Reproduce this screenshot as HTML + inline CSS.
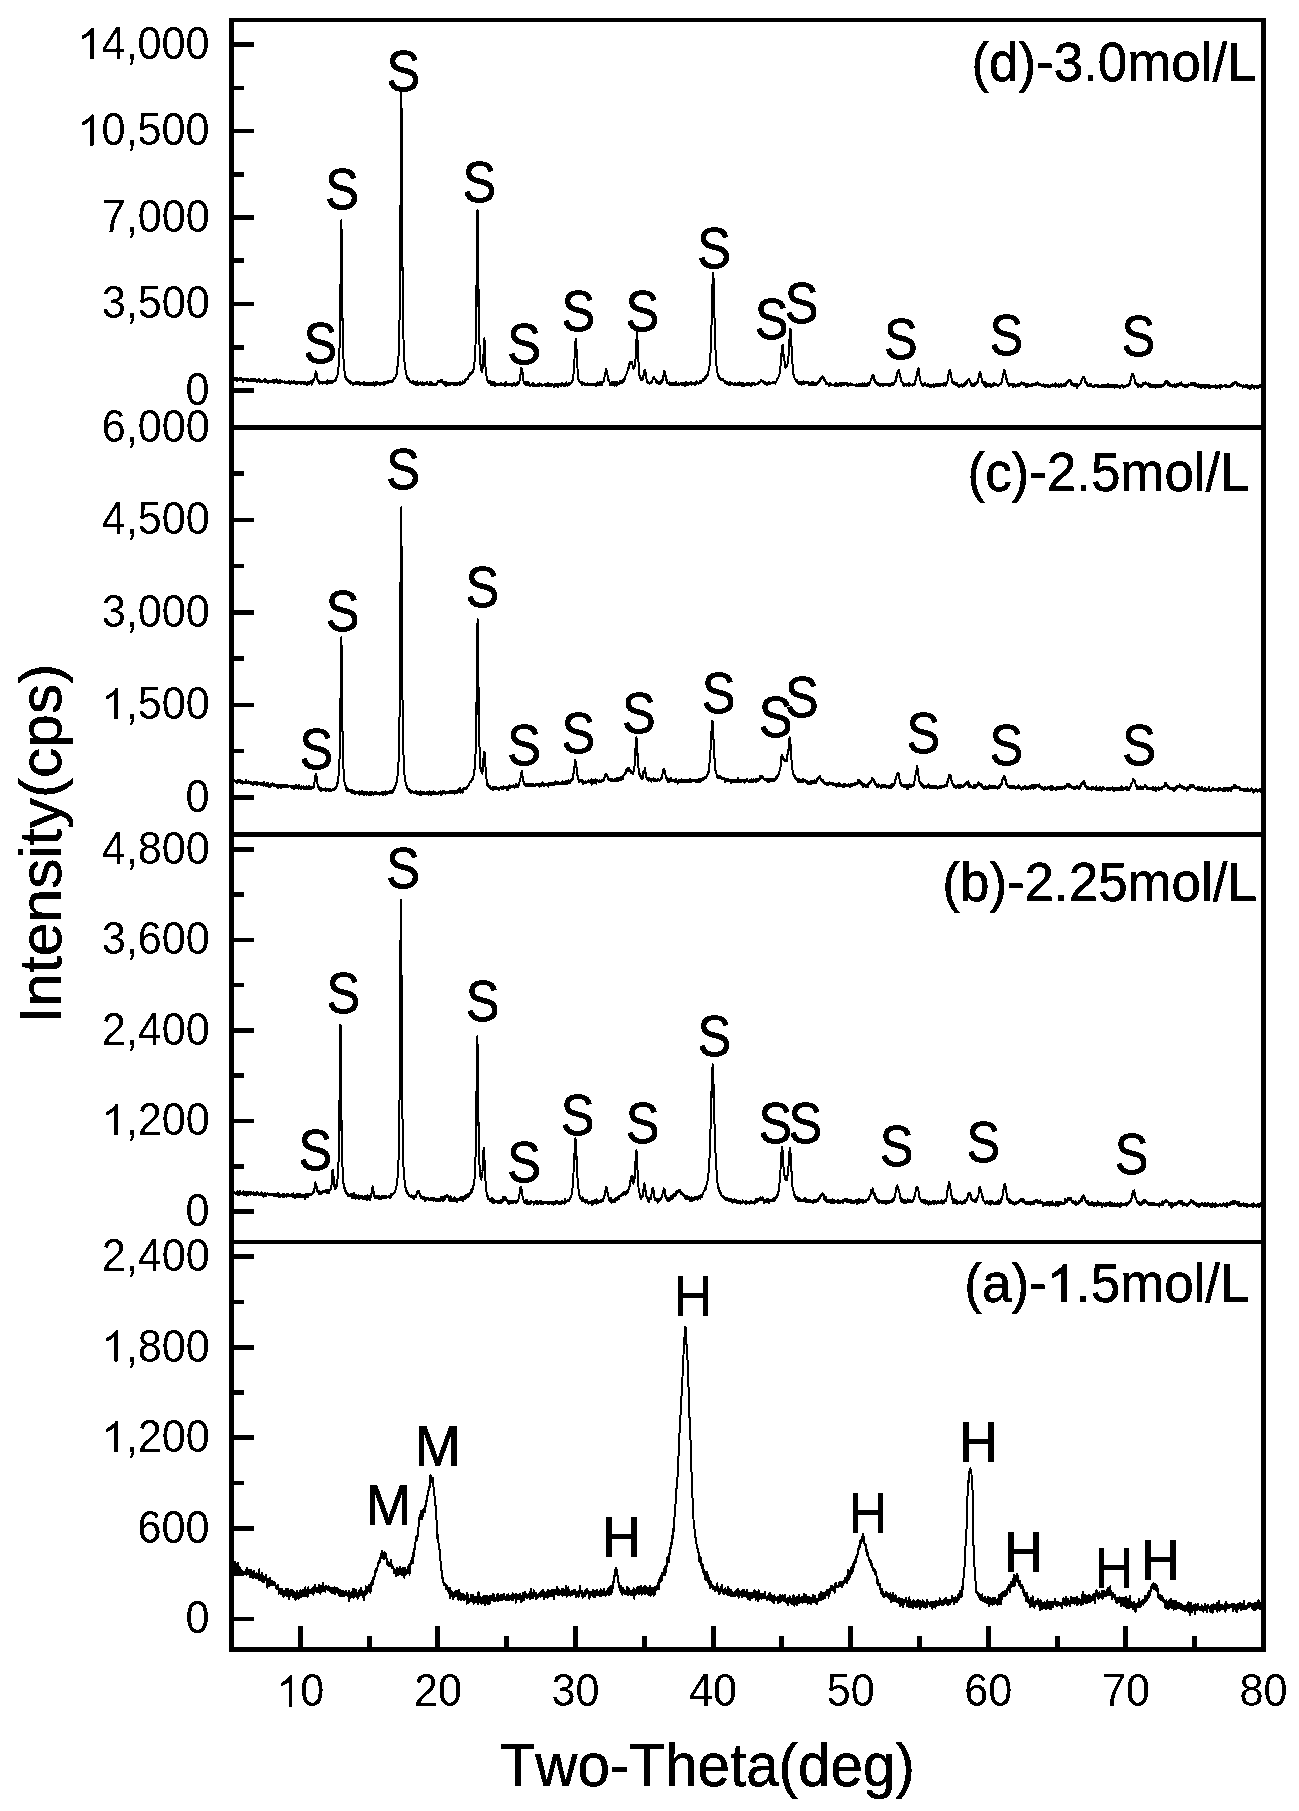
<!DOCTYPE html>
<html><head><meta charset="utf-8"><style>html,body{margin:0;padding:0;background:#fff;}svg{display:block;}</style></head>
<body><svg width="1299" height="1811" viewBox="0 0 1299 1811">
<defs><filter id="bw" x="0" y="0" width="1299" height="1811" filterUnits="userSpaceOnUse" color-interpolation-filters="sRGB"><feComponentTransfer><feFuncR type="discrete" tableValues="0 1"/><feFuncG type="discrete" tableValues="0 1"/><feFuncB type="discrete" tableValues="0 1"/></feComponentTransfer></filter></defs>
<g filter="url(#bw)">
<rect width="1299" height="1811" fill="#fff"/>
<g fill="none" stroke="#000" stroke-width="2.0" stroke-linejoin="round" stroke-linecap="round">
<path d="M234.30,377.9 234.60,380.2 234.90,378.4 235.20,378.9 235.50,379.1 235.80,378.5 236.10,378.0 236.40,379.7 236.70,379.5 237.00,377.5 237.30,381.2 237.60,380.0 237.90,378.6 238.20,380.0 238.50,378.9 238.80,379.2 239.10,380.0 239.40,378.3 239.70,379.8 240.00,380.6 240.30,380.5 240.60,379.2 240.90,380.2 241.20,378.1 241.50,379.3 241.80,379.9 242.10,378.4 242.40,379.5 242.70,381.0 243.00,381.8 243.30,380.3 243.60,380.3 243.90,378.8 244.20,378.6 244.50,378.5 244.80,380.2 245.10,380.4 245.40,379.2 245.70,378.7 246.00,380.0 246.30,380.1 246.60,379.7 246.90,380.9 247.20,379.8 247.50,379.8 247.80,379.0 248.10,380.0 248.40,381.1 248.70,380.0 249.00,380.0 249.30,380.4 249.60,380.3 249.90,380.5 250.20,380.5 250.50,380.6 250.80,379.4 251.10,380.4 251.40,378.8 251.70,380.4 252.00,379.1 252.30,380.2 252.60,380.6 252.90,379.9 253.20,380.4 253.50,378.9 253.80,379.6 254.10,380.9 254.40,379.4 254.70,380.9 255.00,379.2 255.30,379.6 255.60,379.5 255.90,380.5 256.20,380.9 256.50,379.6 256.80,380.4 257.10,381.9 257.40,380.3 257.70,379.9 258.00,380.9 258.30,380.4 258.60,380.0 258.90,379.1 259.20,381.4 259.50,380.2 259.80,380.7 260.10,379.8 260.40,381.9 260.70,381.4 261.00,381.6 261.30,380.7 261.60,381.2 261.90,381.6 262.20,381.7 262.50,381.1 262.80,380.8 263.10,380.6 263.40,380.3 263.70,380.1 264.00,381.3 264.30,380.8 264.60,379.3 264.90,380.9 265.20,381.9 265.50,380.8 265.80,379.5 266.10,381.0 266.40,381.8 266.70,381.3 267.00,380.8 267.30,382.7 267.60,382.8 267.90,381.1 268.20,381.9 268.50,381.5 268.80,381.9 269.10,382.5 269.40,381.9 269.70,381.3 270.00,380.7 270.30,380.6 270.60,381.3 270.90,382.3 271.20,381.6 271.50,381.4 271.80,381.6 272.10,381.4 272.40,381.9 272.70,380.5 273.00,379.8 273.30,381.1 273.60,380.5 273.90,382.9 274.20,381.4 274.50,381.3 274.80,380.2 275.10,381.8 275.40,381.0 275.70,382.5 276.00,382.3 276.30,381.0 276.60,382.0 276.90,379.3 277.20,381.1 277.50,382.7 277.80,382.4 278.10,381.9 278.40,381.7 278.70,380.5 279.00,380.6 279.30,382.0 279.60,383.3 279.90,380.0 280.20,382.4 280.50,382.4 280.80,382.7 281.10,381.1 281.40,381.4 281.70,381.9 282.00,381.0 282.30,380.9 282.60,381.2 282.90,381.9 283.20,382.3 283.50,382.0 283.80,382.1 284.10,381.5 284.40,381.4 284.70,383.0 285.00,382.0 285.30,382.0 285.60,382.9 285.90,383.2 286.20,383.2 286.50,382.5 286.80,382.1 287.10,382.4 287.40,382.4 287.70,383.4 288.00,382.5 288.30,382.8 288.60,382.2 288.90,383.4 289.20,380.6 289.50,382.6 289.80,383.0 290.10,381.4 290.40,384.2 290.70,382.2 291.00,382.3 291.30,381.5 291.60,383.2 291.90,382.6 292.20,381.9 292.50,382.7 292.80,383.1 293.10,383.5 293.40,382.7 293.70,381.7 294.00,382.1 294.30,380.6 294.60,381.9 294.90,383.2 295.20,383.0 295.50,382.5 295.80,382.3 296.10,384.0 296.40,382.9 296.70,383.4 297.00,383.0 297.30,382.1 297.60,384.0 297.90,381.7 298.20,381.7 298.50,382.4 298.80,382.1 299.10,382.3 299.40,382.3 299.70,383.6 300.00,382.8 300.30,383.1 300.60,381.5 300.90,382.1 301.20,383.7 301.50,381.8 301.80,383.8 302.10,382.0 302.40,383.1 302.70,382.1 303.00,383.0 303.30,382.1 303.60,382.6 303.90,384.3 304.20,382.6 304.50,384.6 304.80,382.5 305.10,381.9 305.40,382.9 305.70,382.5 306.00,384.4 306.30,383.6 306.60,383.9 306.90,383.4 307.20,385.0 307.50,383.5 307.80,383.3 308.10,382.1 308.40,382.1 308.70,383.0 309.00,383.7 309.30,383.7 309.60,382.0 309.90,383.2 310.20,382.9 310.50,381.7 310.80,383.1 311.10,380.7 311.40,382.8 311.70,384.6 312.00,381.5 312.30,382.3 312.60,380.5 312.90,381.3 313.20,382.3 313.50,380.3 313.80,380.5 314.10,379.3 314.40,378.1 314.70,377.0 315.00,375.4 315.30,374.2 315.60,372.4 315.90,371.1 316.20,372.9 316.50,374.2 316.80,373.7 317.10,377.4 317.40,379.1 317.70,380.5 318.00,381.0 318.30,380.1 318.60,381.4 318.90,380.2 319.20,382.1 319.50,384.1 319.80,383.0 320.10,383.3 320.40,382.2 320.70,381.8 321.00,381.8 321.30,382.9 321.60,382.1 321.90,382.3 322.20,383.8 322.50,381.5 322.80,381.8 323.10,382.4 323.40,382.8 323.70,382.8 324.00,381.7 324.30,383.1 324.60,382.8 324.90,383.2 325.20,382.0 325.50,383.1 325.80,383.1 326.10,382.3 326.40,382.7 326.70,382.4 327.00,384.0 327.30,380.2 327.60,381.6 327.90,381.3 328.20,382.4 328.50,382.1 328.80,382.3 329.10,383.3 329.40,381.2 329.70,381.9 330.00,382.3 330.30,381.5 330.60,382.7 330.90,382.7 331.20,381.7 331.50,380.7 331.80,383.5 332.10,382.5 332.40,382.3 332.70,381.9 333.00,381.7 333.30,382.3 333.60,381.4 333.90,380.7 334.20,381.6 334.50,380.8 334.80,379.9 335.10,379.5 335.40,380.9 335.70,380.0 336.00,380.7 336.30,378.0 336.60,377.1 336.90,377.3 337.20,377.2 337.50,375.3 337.80,373.7 338.10,373.0 338.40,368.3 338.70,364.6 339.00,360.4 339.30,354.2 339.60,345.0 339.90,331.3 340.20,310.6 340.50,284.4 340.80,251.1 341.10,227.6 341.30,220.0 341.40,222.5 341.70,241.0 342.00,273.2 342.30,302.0 342.60,324.9 342.90,341.2 343.20,351.5 343.50,359.1 343.80,364.6 344.10,366.9 344.40,370.1 344.70,371.4 345.00,374.4 345.30,377.6 345.60,377.4 345.90,376.9 346.20,377.7 346.50,379.8 346.80,379.0 347.10,378.5 347.40,379.4 347.70,379.7 348.00,380.0 348.30,381.7 348.60,381.4 348.90,380.3 349.20,381.3 349.50,380.9 349.80,381.0 350.10,380.9 350.40,383.7 350.70,382.1 351.00,382.9 351.30,383.3 351.60,382.3 351.90,383.1 352.20,383.2 352.50,383.0 352.80,384.7 353.10,383.2 353.40,382.8 353.70,383.6 354.00,384.6 354.30,383.9 354.60,382.7 354.90,382.4 355.20,382.4 355.50,382.7 355.80,383.6 356.10,384.0 356.40,381.4 356.70,383.3 357.00,382.4 357.30,384.0 357.60,384.2 357.90,382.8 358.20,383.0 358.50,382.6 358.80,383.8 359.10,382.1 359.40,382.5 359.70,382.9 360.00,384.6 360.30,385.6 360.60,383.6 360.90,382.5 361.20,383.6 361.50,382.8 361.80,384.0 362.10,382.6 362.40,383.3 362.70,383.6 363.00,384.1 363.30,383.5 363.60,384.7 363.90,383.7 364.20,382.1 364.50,384.4 364.80,383.4 365.10,383.1 365.40,384.9 365.70,382.8 366.00,383.7 366.30,383.1 366.60,384.8 366.90,383.4 367.20,383.9 367.50,382.5 367.80,384.9 368.10,382.8 368.40,384.5 368.70,384.6 369.00,384.7 369.30,385.2 369.60,382.7 369.90,384.0 370.20,383.8 370.50,384.0 370.80,384.6 371.10,383.8 371.40,383.0 371.70,383.6 372.00,385.0 372.30,382.7 372.60,383.7 372.90,382.8 373.20,384.6 373.50,382.3 373.80,383.4 374.10,383.5 374.40,383.7 374.70,385.6 375.00,385.0 375.30,382.8 375.60,385.5 375.90,382.6 376.20,382.0 376.50,382.3 376.80,383.8 377.10,384.0 377.40,381.7 377.70,383.9 378.00,383.3 378.30,384.1 378.60,383.2 378.90,384.3 379.20,384.0 379.50,382.5 379.80,384.7 380.10,383.6 380.40,384.1 380.70,384.5 381.00,382.6 381.30,383.3 381.60,382.6 381.90,382.5 382.20,383.5 382.50,383.5 382.80,384.3 383.10,384.3 383.40,383.0 383.70,382.2 384.00,385.6 384.30,384.6 384.60,382.6 384.90,381.8 385.20,382.2 385.40,382.5 385.50,383.5 385.80,383.3 386.10,382.8 386.40,382.3 386.70,382.6 387.00,382.3 387.30,382.6 387.60,382.4 387.90,383.0 388.20,380.9 388.50,382.2 388.80,382.2 389.10,381.4 389.40,382.2 389.70,381.3 390.00,381.6 390.30,381.8 390.60,381.7 390.90,381.3 391.20,382.6 391.50,381.7 391.80,381.7 392.10,381.4 392.40,380.5 392.70,380.1 393.00,381.3 393.30,380.0 393.60,378.5 393.90,377.8 394.20,379.5 394.50,378.3 394.80,378.4 395.10,377.4 395.40,376.9 395.70,376.3 396.00,374.6 396.30,374.6 396.60,374.3 396.90,372.6 397.20,368.8 397.50,367.0 397.80,364.3 398.10,361.9 398.40,358.4 398.70,352.1 399.00,342.2 399.30,331.9 399.60,315.3 399.90,288.9 400.20,254.8 400.50,204.5 400.80,150.2 401.10,105.4 401.30,92.7 401.40,95.2 401.70,132.0 402.00,189.5 402.30,236.9 402.60,279.0 402.90,307.4 403.20,326.5 403.50,339.5 403.80,349.0 404.10,355.7 404.40,359.7 404.70,365.8 405.00,366.4 405.30,369.3 405.60,370.9 405.90,372.7 406.20,374.4 406.50,374.7 406.80,376.1 407.10,378.5 407.40,378.6 407.70,378.1 408.00,379.6 408.30,378.6 408.60,379.9 408.90,378.8 409.20,379.4 409.50,379.9 409.80,381.9 410.10,381.3 410.40,381.8 410.70,381.6 411.00,382.0 411.30,382.2 411.60,382.6 411.90,382.2 412.20,381.4 412.50,381.6 412.80,383.4 413.10,383.7 413.40,383.1 413.70,381.3 414.00,384.1 414.30,383.1 414.60,382.8 414.90,383.0 415.20,382.7 415.50,384.5 415.80,384.5 416.10,382.2 416.40,383.0 416.70,383.5 417.00,384.4 417.30,381.2 417.60,384.1 417.90,384.8 418.20,383.1 418.50,383.4 418.80,384.5 419.10,383.8 419.40,382.4 419.70,382.5 420.00,382.7 420.30,382.4 420.60,383.6 420.90,383.2 421.20,383.7 421.50,384.3 421.80,385.2 422.10,383.9 422.40,382.1 422.70,384.9 423.00,383.6 423.30,384.8 423.60,383.4 423.90,384.0 424.20,383.7 424.50,383.8 424.80,384.9 425.10,383.3 425.40,384.0 425.70,384.0 426.00,383.5 426.30,382.0 426.60,384.2 426.90,381.5 427.20,382.6 427.50,383.5 427.80,384.3 428.10,384.6 428.40,384.6 428.70,384.4 429.00,383.6 429.30,385.0 429.60,383.7 429.90,384.9 430.20,382.0 430.50,383.1 430.80,383.4 431.10,383.9 431.40,381.9 431.70,384.6 432.00,384.8 432.30,384.6 432.60,383.5 432.90,385.1 433.20,383.4 433.50,384.6 433.80,383.8 434.10,383.8 434.40,383.7 434.70,383.8 435.00,384.7 435.30,384.9 435.60,384.8 435.90,384.3 436.20,384.0 436.50,383.8 436.80,384.7 437.10,382.7 437.40,382.4 437.70,382.8 438.00,381.1 438.30,382.1 438.60,382.0 438.90,380.9 439.20,381.0 439.50,381.9 439.80,380.9 440.10,381.0 440.40,381.7 440.60,380.8 440.70,379.8 441.00,380.8 441.30,381.4 441.60,379.7 441.90,382.0 442.20,381.4 442.50,381.6 442.80,381.5 443.10,382.3 443.40,383.5 443.70,383.3 444.00,383.8 444.30,382.9 444.60,384.7 444.90,384.6 445.20,383.5 445.50,381.4 445.80,383.8 446.10,386.1 446.40,383.7 446.70,383.0 447.00,385.3 447.30,383.4 447.60,384.3 447.90,384.6 448.20,382.7 448.50,384.0 448.80,385.0 449.10,383.7 449.40,384.5 449.70,383.9 450.00,384.8 450.30,385.5 450.60,383.0 450.90,383.7 451.20,384.3 451.50,383.4 451.80,383.2 452.10,383.7 452.40,383.7 452.70,383.4 453.00,384.2 453.30,384.6 453.60,384.5 453.90,384.5 454.20,384.9 454.50,382.7 454.80,383.8 455.10,384.0 455.40,384.3 455.70,382.5 456.00,385.4 456.30,383.0 456.60,384.0 456.90,384.4 457.20,384.7 457.50,383.1 457.80,383.2 458.10,384.0 458.40,384.1 458.70,384.4 459.00,383.5 459.30,382.9 459.60,382.3 459.90,384.9 460.20,382.2 460.50,383.9 460.80,383.5 461.10,383.9 461.40,384.0 461.70,384.2 462.00,382.9 462.30,383.2 462.60,381.1 462.90,382.7 463.20,381.8 463.50,382.3 463.80,383.3 464.10,382.2 464.40,382.8 464.70,381.5 465.00,381.8 465.30,380.8 465.60,378.7 465.90,380.0 466.20,380.0 466.50,380.0 466.80,379.5 467.10,379.0 467.40,379.5 467.70,378.8 468.00,377.4 468.30,378.0 468.60,375.1 468.90,376.0 469.20,375.6 469.50,376.3 469.80,374.3 470.10,373.0 470.40,374.0 470.70,374.8 471.00,373.0 471.30,372.6 471.60,372.1 471.90,372.0 472.20,372.7 472.50,372.8 472.80,371.0 473.10,369.8 473.40,370.6 473.70,368.0 474.00,366.5 474.30,364.1 474.60,361.4 474.90,358.0 475.20,352.1 475.50,344.9 475.80,333.3 476.10,317.8 476.40,295.3 476.70,268.1 477.00,238.5 477.30,215.3 477.50,210.0 477.60,212.4 477.90,228.6 478.20,257.2 478.50,288.5 478.80,311.6 479.10,330.9 479.40,342.6 479.70,350.8 480.00,360.0 480.30,363.0 480.60,365.4 480.90,367.5 481.20,370.3 481.50,370.3 481.80,371.8 482.10,372.3 482.40,369.1 482.70,367.6 483.00,364.3 483.30,359.3 483.60,351.2 483.90,342.5 484.20,339.5 484.30,338.0 484.50,339.5 484.80,346.7 485.10,354.0 485.40,365.3 485.70,369.9 486.00,373.4 486.30,375.6 486.60,376.9 486.90,379.4 487.20,380.5 487.50,380.2 487.80,380.8 488.10,381.9 488.40,381.6 488.70,380.4 489.00,382.8 489.30,382.6 489.60,383.2 489.90,382.1 490.20,381.0 490.50,381.9 490.80,383.3 491.10,384.9 491.40,385.3 491.70,383.6 492.00,382.2 492.30,383.2 492.60,383.9 492.90,384.0 493.20,383.8 493.50,384.9 493.80,383.0 494.10,382.0 494.40,383.1 494.70,382.9 495.00,385.8 495.30,383.8 495.60,382.8 495.90,384.6 496.20,384.9 496.50,384.2 496.80,384.3 497.10,385.0 497.40,384.6 497.70,383.6 498.00,384.7 498.30,385.0 498.60,384.6 498.90,385.0 499.20,384.8 499.50,384.1 499.80,384.2 500.10,384.9 500.40,383.9 500.70,385.4 501.00,385.4 501.30,382.7 501.60,384.4 501.90,383.8 502.20,383.9 502.50,384.6 502.80,384.3 503.10,384.9 503.40,384.7 503.70,384.8 504.00,383.8 504.30,384.2 504.60,385.7 504.90,382.4 505.20,386.0 505.50,384.0 505.80,385.5 506.10,382.3 506.40,384.2 506.70,385.3 507.00,384.7 507.30,385.4 507.60,383.8 507.90,384.1 508.20,384.0 508.50,385.0 508.80,384.9 509.10,384.4 509.40,384.3 509.70,384.3 510.00,384.6 510.30,383.7 510.60,384.5 510.90,384.4 511.20,384.1 511.50,384.0 511.80,385.8 512.10,384.0 512.40,384.9 512.70,385.7 513.00,385.1 513.30,384.5 513.60,385.3 513.90,383.2 514.20,383.4 514.50,384.1 514.80,384.2 515.10,384.3 515.40,385.9 515.70,385.7 516.00,384.2 516.30,384.4 516.60,383.3 516.90,384.3 517.20,382.8 517.50,385.0 517.80,383.2 518.10,384.0 518.40,382.1 518.70,384.0 519.00,382.9 519.30,383.2 519.60,380.5 519.90,377.6 520.20,376.4 520.50,373.8 520.80,373.7 521.10,369.4 521.40,367.7 521.60,368.0 521.70,368.3 522.00,369.7 522.30,371.1 522.60,372.3 522.90,375.2 523.20,376.6 523.50,381.1 523.80,382.0 524.10,381.8 524.40,383.3 524.70,383.7 525.00,384.0 525.30,384.1 525.60,384.6 525.90,384.0 526.20,382.2 526.50,381.8 526.80,385.3 527.10,384.8 527.40,382.2 527.70,384.5 528.00,383.7 528.30,384.0 528.60,382.3 528.90,385.2 529.20,384.5 529.50,385.2 529.80,385.5 530.10,385.7 530.40,386.0 530.70,384.9 531.00,384.8 531.30,384.1 531.60,385.1 531.90,384.5 532.20,383.7 532.50,385.7 532.80,385.3 533.10,382.4 533.40,383.1 533.70,384.5 534.00,383.6 534.30,385.8 534.60,384.9 534.90,385.2 535.20,385.5 535.50,385.9 535.80,384.5 536.10,385.3 536.40,385.0 536.70,385.4 537.00,385.2 537.30,386.0 537.60,385.2 537.90,384.4 538.20,384.9 538.50,383.8 538.80,385.0 539.10,386.1 539.40,384.3 539.70,383.4 540.00,384.7 540.30,384.4 540.60,384.8 540.90,384.3 541.20,384.9 541.50,383.9 541.80,386.1 542.10,384.6 542.40,385.2 542.70,385.4 543.00,384.7 543.30,385.2 543.60,384.6 543.90,384.4 544.20,384.6 544.50,385.2 544.80,383.7 545.10,384.0 545.40,384.1 545.70,384.3 546.00,385.8 546.30,384.8 546.60,384.5 546.90,384.9 547.20,385.7 547.50,384.2 547.80,385.7 548.10,382.8 548.40,384.0 548.70,386.1 549.00,386.1 549.30,385.0 549.60,384.4 549.90,385.5 550.20,384.4 550.50,386.1 550.80,385.8 551.10,385.4 551.40,384.1 551.70,385.6 552.00,384.6 552.30,384.6 552.60,384.4 552.90,384.7 553.20,385.2 553.50,385.5 553.80,385.5 554.10,387.7 554.40,384.5 554.70,385.8 555.00,384.2 555.30,384.6 555.60,383.8 555.90,385.8 556.20,385.0 556.50,384.9 556.80,384.7 557.10,385.5 557.40,384.3 557.70,385.1 558.00,386.9 558.30,384.6 558.60,384.2 558.90,383.9 559.20,385.4 559.50,384.8 559.80,384.1 560.10,384.0 560.40,384.7 560.70,383.8 561.00,386.5 561.30,384.5 561.60,384.5 561.90,384.6 562.20,383.1 562.50,383.4 562.80,384.3 563.10,384.6 563.40,383.5 563.70,386.0 564.00,384.9 564.30,385.6 564.60,385.5 564.90,384.3 565.20,386.5 565.50,384.5 565.80,382.8 566.10,382.4 566.40,384.3 566.70,385.0 567.00,384.3 567.30,385.7 567.60,383.9 567.90,384.5 568.20,384.6 568.50,383.0 568.80,384.1 569.10,384.1 569.40,384.6 569.70,384.5 570.00,384.2 570.30,382.6 570.60,383.6 570.90,383.7 571.20,382.5 571.50,382.8 571.80,382.4 572.10,382.2 572.40,380.5 572.70,379.8 573.00,378.1 573.30,376.0 573.60,372.6 573.90,369.1 574.20,363.7 574.50,358.8 574.80,353.2 575.10,346.8 575.40,341.9 575.70,338.8 575.75,338.8 576.00,339.7 576.30,345.1 576.60,350.8 576.90,356.2 577.20,362.2 577.50,368.5 577.80,372.0 578.10,375.3 578.40,379.9 578.70,379.4 579.00,380.2 579.30,381.6 579.60,381.0 579.90,381.9 580.20,382.7 580.50,382.0 580.80,382.9 581.10,382.9 581.40,383.4 581.70,381.9 582.00,385.0 582.30,383.6 582.60,384.2 582.90,382.9 583.20,382.8 583.50,384.0 583.80,383.8 584.10,384.6 584.40,383.3 584.70,383.3 585.00,384.5 585.30,384.8 585.60,385.1 585.90,384.3 586.20,384.6 586.50,383.7 586.80,385.5 587.10,385.4 587.40,385.4 587.70,383.1 588.00,385.2 588.30,383.8 588.60,384.9 588.90,384.8 589.20,385.5 589.50,384.3 589.80,384.2 590.10,383.6 590.40,383.5 590.70,385.0 591.00,383.7 591.30,385.1 591.60,384.2 591.90,384.0 592.20,385.3 592.50,385.2 592.80,383.7 593.10,384.4 593.40,384.5 593.70,385.1 594.00,383.9 594.30,384.1 594.60,384.4 594.90,385.1 595.20,385.2 595.50,384.0 595.80,385.9 596.10,384.8 596.40,383.7 596.70,383.1 597.00,383.9 597.30,382.3 597.60,384.5 597.90,384.8 598.20,385.4 598.50,384.7 598.80,382.8 599.10,383.9 599.40,384.7 599.70,382.2 600.00,383.3 600.30,384.5 600.60,383.9 600.90,382.1 601.20,383.3 601.50,383.6 601.80,385.2 602.10,382.9 602.40,382.3 602.70,382.9 603.00,382.6 603.30,382.2 603.60,382.2 603.90,379.9 604.20,377.6 604.50,377.3 604.80,375.5 605.10,374.5 605.40,372.5 605.70,369.5 606.00,369.7 606.20,368.8 606.30,368.7 606.60,370.5 606.90,371.2 607.20,373.1 607.50,374.7 607.80,377.3 608.10,380.6 608.40,379.6 608.70,379.5 609.00,381.1 609.30,381.4 609.60,382.6 609.90,382.6 610.20,385.1 610.50,383.7 610.80,384.8 611.10,382.7 611.40,383.2 611.70,385.2 612.00,382.1 612.30,383.7 612.60,382.3 612.90,384.9 613.20,382.4 613.50,383.4 613.80,383.5 614.10,382.2 614.40,385.7 614.70,383.5 615.00,385.0 615.30,383.0 615.60,382.3 615.90,383.7 616.20,383.7 616.50,386.0 616.80,382.5 617.10,382.1 617.40,382.8 617.70,383.6 618.00,383.7 618.30,382.6 618.60,382.9 618.90,383.5 619.20,383.9 619.50,382.4 619.80,382.9 620.10,380.4 620.40,381.8 620.70,382.9 621.00,382.3 621.30,382.0 621.60,383.4 621.90,381.6 622.20,380.7 622.50,381.5 622.80,381.2 623.10,379.8 623.40,381.2 623.70,381.4 624.00,379.0 624.30,378.3 624.60,378.4 624.90,378.9 625.20,376.7 625.50,375.9 625.80,375.2 626.10,375.1 626.40,374.2 626.70,372.9 627.00,373.1 627.30,372.9 627.60,369.5 627.90,369.8 628.20,368.1 628.50,369.4 628.80,365.1 629.10,364.6 629.40,364.2 629.70,362.2 630.00,362.8 630.30,363.2 630.50,362.5 630.60,362.6 630.90,364.1 631.20,362.3 631.50,362.5 631.80,361.7 632.10,364.4 632.40,363.8 632.70,366.4 633.00,368.0 633.30,367.7 633.60,367.1 633.90,368.7 634.20,367.8 634.50,366.7 634.80,366.1 635.10,364.5 635.40,360.5 635.70,356.3 636.00,351.4 636.30,343.1 636.60,336.8 636.90,332.2 637.00,332.6 637.20,334.3 637.50,340.4 637.80,346.6 638.10,355.2 638.40,359.8 638.70,366.9 639.00,370.5 639.30,373.3 639.60,377.5 639.90,376.1 640.20,378.2 640.50,378.8 640.80,379.8 641.10,380.5 641.40,378.5 641.70,379.5 642.00,379.3 642.30,380.2 642.60,379.9 642.90,377.9 643.20,376.6 643.50,374.6 643.80,373.9 644.10,373.1 644.40,370.5 644.70,369.6 645.00,369.6 645.30,371.4 645.60,372.7 645.90,377.6 646.20,377.9 646.50,379.0 646.80,382.2 647.10,381.2 647.40,382.8 647.70,382.1 648.00,383.1 648.30,382.4 648.60,382.1 648.90,382.9 649.20,383.2 649.50,383.6 649.80,382.8 650.10,382.5 650.40,382.3 650.70,382.8 651.00,382.0 651.30,381.9 651.60,382.4 651.90,382.0 652.20,381.4 652.50,379.7 652.80,378.4 653.10,379.0 653.40,378.2 653.70,377.2 654.00,377.3 654.30,378.3 654.60,377.9 654.90,379.2 655.20,378.9 655.50,380.3 655.80,380.4 656.10,380.5 656.40,382.5 656.70,380.0 657.00,382.6 657.30,383.5 657.60,383.3 657.90,381.7 658.20,383.3 658.50,381.5 658.80,382.4 659.10,384.3 659.40,383.2 659.70,384.0 660.00,382.0 660.30,381.1 660.60,382.1 660.90,383.6 661.20,383.0 661.50,382.8 661.80,381.2 662.10,380.5 662.40,379.5 662.70,380.9 663.00,377.1 663.30,376.9 663.60,373.6 663.90,373.4 664.20,370.4 664.40,371.1 664.50,371.5 664.80,371.4 665.10,372.9 665.40,374.7 665.70,376.1 666.00,379.4 666.30,380.3 666.60,379.2 666.90,382.7 667.20,381.8 667.50,382.3 667.80,382.5 668.10,383.7 668.40,383.7 668.70,382.8 669.00,383.4 669.30,382.3 669.60,385.1 669.90,382.8 670.20,382.9 670.50,383.1 670.80,383.8 671.10,384.4 671.40,383.5 671.70,383.8 672.00,383.5 672.30,384.9 672.60,384.1 672.90,382.4 673.20,385.2 673.50,384.2 673.80,385.6 674.10,383.4 674.40,383.5 674.70,383.8 675.00,382.8 675.30,383.7 675.60,385.1 675.90,384.6 676.20,382.0 676.50,385.1 676.80,384.3 677.10,384.7 677.40,384.1 677.70,384.2 678.00,384.1 678.30,384.1 678.60,383.1 678.90,384.9 679.20,384.2 679.50,384.4 679.80,384.3 680.10,383.8 680.40,384.0 680.70,382.9 681.00,384.2 681.30,384.3 681.60,383.8 681.90,382.6 682.20,385.2 682.50,383.9 682.80,384.0 683.10,383.7 683.40,383.5 683.70,383.7 684.00,383.0 684.30,383.5 684.60,385.7 684.90,385.0 685.20,385.7 685.50,383.4 685.80,382.4 686.10,382.8 686.40,381.7 686.70,384.9 687.00,385.0 687.30,384.0 687.60,384.2 687.90,384.2 688.20,383.8 688.50,384.5 688.80,383.0 689.10,383.5 689.40,383.7 689.70,382.4 690.00,383.0 690.30,384.2 690.60,384.1 690.90,381.7 691.20,384.5 691.50,384.0 691.80,384.4 692.10,383.7 692.40,384.2 692.70,382.6 693.00,383.5 693.30,382.7 693.60,383.1 693.90,384.6 694.20,384.9 694.50,383.5 694.80,383.1 695.10,384.1 695.40,383.8 695.70,385.0 696.00,383.8 696.30,381.3 696.60,383.2 696.90,382.9 697.20,382.4 697.50,383.1 697.80,383.0 698.10,382.5 698.40,384.0 698.70,382.9 699.00,382.9 699.30,382.5 699.60,383.3 699.90,381.2 700.20,383.0 700.50,381.6 700.80,382.9 701.10,382.7 701.40,381.7 701.70,380.7 702.00,381.1 702.30,380.9 702.60,379.1 702.90,379.8 703.20,379.2 703.50,380.7 703.80,380.7 704.10,378.4 704.40,378.3 704.70,377.3 705.00,378.3 705.30,378.5 705.60,379.0 705.90,376.1 706.00,377.0 706.20,376.7 706.50,375.8 706.80,375.7 707.10,374.9 707.40,375.5 707.70,374.5 708.00,374.8 708.30,372.6 708.60,370.4 708.90,369.9 709.20,369.3 709.50,365.7 709.80,363.5 710.10,361.0 710.40,354.7 710.70,350.5 711.00,342.5 711.30,332.5 711.60,322.0 711.90,309.2 712.20,296.3 712.50,284.4 712.80,275.9 713.10,272.6 713.40,275.3 713.70,284.1 714.00,298.8 714.30,309.2 714.60,322.5 714.90,334.8 715.20,344.0 715.50,350.2 715.80,358.7 716.10,363.3 716.40,365.3 716.70,367.5 717.00,371.3 717.30,372.4 717.60,373.7 717.90,374.3 718.20,375.4 718.50,376.8 718.80,378.0 719.10,375.9 719.40,376.0 719.70,379.1 720.00,377.7 720.30,379.2 720.60,378.7 720.90,379.8 721.20,379.5 721.50,378.6 721.80,379.0 722.10,379.5 722.40,380.2 722.70,379.4 723.00,379.0 723.30,380.8 723.60,381.0 723.90,381.2 724.20,380.8 724.50,382.4 724.80,380.7 725.10,381.9 725.40,383.6 725.70,381.7 726.00,383.1 726.30,383.3 726.60,383.3 726.90,381.6 727.20,384.0 727.50,383.3 727.80,383.7 728.10,383.6 728.40,383.4 728.70,384.5 729.00,384.7 729.30,381.9 729.60,382.9 729.90,383.4 730.20,381.8 730.50,384.9 730.80,383.0 731.10,384.2 731.40,383.9 731.70,383.6 732.00,382.9 732.30,383.5 732.60,383.9 732.90,384.5 733.20,383.7 733.50,383.6 733.80,383.7 734.10,385.1 734.40,384.2 734.70,383.4 735.00,382.9 735.30,383.7 735.60,383.3 735.90,383.7 736.20,385.2 736.50,384.7 736.80,384.3 737.10,384.4 737.40,385.6 737.70,383.1 738.00,384.5 738.30,384.0 738.60,384.3 738.90,384.2 739.20,383.9 739.50,384.6 739.80,382.3 740.10,384.4 740.40,384.8 740.70,383.4 741.00,383.4 741.30,385.8 741.60,383.5 741.90,383.9 742.20,383.6 742.50,383.7 742.80,383.7 743.10,382.5 743.40,386.3 743.70,383.6 744.00,384.6 744.30,384.2 744.60,385.4 744.90,384.8 745.20,385.2 745.50,385.3 745.80,385.0 746.10,384.3 746.40,385.0 746.70,382.9 747.00,385.0 747.30,384.9 747.60,384.5 747.90,383.1 748.20,385.4 748.50,383.7 748.80,384.8 749.10,382.7 749.40,384.1 749.70,383.7 750.00,383.6 750.30,383.7 750.60,385.8 750.90,384.2 751.20,384.5 751.50,386.1 751.80,383.0 752.10,385.5 752.40,383.9 752.70,383.7 753.00,383.9 753.30,382.7 753.60,382.9 753.90,383.2 754.20,383.7 754.50,384.8 754.80,385.1 755.10,383.8 755.40,384.4 755.70,384.4 756.00,383.9 756.30,384.2 756.60,383.5 756.90,384.4 757.20,383.7 757.50,383.8 757.80,383.9 758.10,383.7 758.40,382.8 758.70,382.1 759.00,382.9 759.30,382.2 759.60,381.9 759.90,381.9 760.20,381.0 760.50,381.6 760.80,381.2 761.10,379.9 761.40,380.8 761.60,380.4 761.70,381.0 762.00,381.1 762.30,380.8 762.60,381.8 762.90,382.3 763.20,382.2 763.50,380.6 763.80,382.6 764.10,382.9 764.40,383.6 764.70,382.3 765.00,383.9 765.30,383.7 765.60,383.8 765.90,382.5 766.20,382.9 766.50,384.6 766.80,384.4 767.10,383.6 767.40,384.6 767.70,383.9 768.00,383.3 768.30,382.3 768.60,384.5 768.90,383.5 769.20,383.8 769.50,382.1 769.80,383.1 770.10,383.8 770.40,383.3 770.70,382.8 771.00,382.5 771.30,383.5 771.60,383.0 771.90,383.0 772.20,383.0 772.50,382.6 772.80,382.8 773.10,382.5 773.40,382.9 773.70,381.6 774.00,381.8 774.30,382.6 774.60,382.3 774.90,382.4 775.20,383.8 775.50,382.5 775.80,382.7 776.10,381.8 776.40,381.1 776.70,380.2 777.00,379.0 777.30,379.0 777.60,377.8 777.90,378.3 778.20,377.2 778.50,377.0 778.80,376.9 779.10,375.4 779.40,375.1 779.70,373.4 780.00,371.4 780.30,368.7 780.60,365.2 780.90,361.0 781.20,358.0 781.50,353.4 781.80,349.7 782.10,347.4 782.40,345.7 782.70,344.8 783.00,348.4 783.30,352.4 783.60,355.0 783.90,360.3 784.20,358.6 784.50,361.5 784.80,361.8 785.10,364.4 785.40,367.6 785.70,368.0 786.00,367.0 786.30,366.8 786.60,366.2 786.90,365.3 787.20,365.4 787.50,364.1 787.80,362.6 788.10,360.4 788.40,357.5 788.70,354.1 789.00,348.1 789.30,342.6 789.60,337.2 789.90,332.6 790.20,329.1 790.40,328.8 790.50,328.7 790.80,332.7 791.10,336.4 791.40,344.2 791.70,348.7 792.00,356.2 792.30,361.3 792.60,364.8 792.90,368.3 793.20,370.9 793.50,374.6 793.80,374.5 794.10,375.6 794.40,377.6 794.70,379.1 795.00,379.1 795.30,379.3 795.60,380.8 795.90,379.7 796.20,380.1 796.50,380.0 796.80,382.4 797.10,379.7 797.40,380.7 797.70,382.2 798.00,382.6 798.30,383.8 798.60,382.9 798.90,382.2 799.20,383.9 799.50,383.8 799.80,383.9 800.10,383.9 800.40,383.5 800.70,381.9 801.00,382.3 801.30,384.9 801.60,383.3 801.90,381.7 802.20,383.3 802.50,384.1 802.80,383.6 803.10,383.2 803.40,381.1 803.70,383.0 804.00,382.8 804.30,384.2 804.60,382.7 804.90,382.5 805.20,382.1 805.50,382.5 805.80,382.8 806.10,382.2 806.40,382.1 806.70,381.9 807.00,383.2 807.30,383.0 807.60,383.2 807.90,382.3 808.20,383.0 808.50,382.2 808.80,384.7 809.10,384.9 809.40,384.4 809.70,384.0 810.00,384.5 810.30,382.9 810.60,383.0 810.90,385.1 811.20,383.3 811.50,384.1 811.80,383.6 812.10,382.1 812.40,383.6 812.70,384.9 813.00,385.3 813.30,382.1 813.60,382.9 813.90,383.7 814.20,385.0 814.50,385.2 814.80,385.4 815.10,385.5 815.40,383.7 815.70,383.2 816.00,384.7 816.30,383.7 816.60,383.8 816.90,383.4 817.20,383.3 817.50,384.2 817.80,382.4 818.10,381.5 818.40,382.2 818.70,382.5 819.00,381.8 819.30,381.5 819.60,379.5 819.90,379.8 820.20,380.9 820.50,379.2 820.80,378.1 821.10,379.0 821.40,377.0 821.70,377.6 822.00,376.8 822.30,376.8 822.40,376.5 822.60,378.4 822.90,377.8 823.20,376.5 823.50,376.8 823.80,378.1 824.10,378.8 824.40,380.2 824.70,380.3 825.00,381.0 825.30,380.0 825.60,381.8 825.90,382.7 826.20,384.1 826.50,383.6 826.80,383.3 827.10,382.5 827.40,383.6 827.70,383.8 828.00,383.8 828.30,384.2 828.60,384.5 828.90,384.6 829.20,386.1 829.50,383.5 829.80,383.0 830.10,384.7 830.40,383.4 830.70,384.3 831.00,384.4 831.30,383.8 831.60,385.2 831.90,385.1 832.20,384.7 832.50,385.1 832.80,385.4 833.10,384.4 833.40,385.2 833.70,384.8 834.00,384.7 834.30,384.3 834.60,386.2 834.90,385.0 835.20,383.5 835.50,385.1 835.80,382.6 836.10,385.0 836.40,385.4 836.70,386.0 837.00,384.9 837.30,384.2 837.60,386.4 837.90,385.6 838.20,385.9 838.50,384.6 838.80,385.3 839.10,383.3 839.40,385.2 839.70,383.0 840.00,383.9 840.30,383.5 840.60,385.7 840.90,385.5 841.20,384.2 841.50,385.7 841.80,384.7 842.10,382.9 842.40,384.2 842.70,383.0 843.00,384.4 843.30,384.6 843.60,383.5 843.90,384.7 844.20,384.7 844.50,382.9 844.80,384.1 845.10,383.4 845.40,383.2 845.50,383.5 845.70,382.9 846.00,383.2 846.30,383.6 846.60,384.3 846.90,384.6 847.20,383.3 847.50,385.4 847.80,385.9 848.10,386.2 848.40,384.7 848.70,384.2 849.00,383.8 849.30,385.0 849.60,384.7 849.90,384.8 850.20,384.3 850.50,383.0 850.80,384.6 851.10,384.7 851.40,384.6 851.70,383.7 852.00,384.7 852.30,384.8 852.60,384.0 852.90,385.5 853.20,384.9 853.50,385.1 853.80,385.3 854.10,384.7 854.40,384.9 854.70,385.4 855.00,385.6 855.30,385.7 855.60,384.8 855.90,385.6 856.20,385.9 856.50,383.8 856.80,384.6 857.10,385.0 857.40,385.0 857.70,386.5 858.00,386.0 858.30,384.9 858.60,384.9 858.90,383.8 859.20,384.1 859.50,386.1 859.80,383.5 860.10,385.5 860.40,384.4 860.70,384.7 861.00,384.9 861.30,386.5 861.60,385.2 861.90,385.4 862.20,385.8 862.50,383.0 862.80,386.5 863.10,383.5 863.40,384.3 863.70,385.5 864.00,383.8 864.30,383.4 864.60,385.8 864.90,384.5 865.20,385.6 865.50,385.2 865.80,384.6 866.10,386.1 866.40,384.4 866.70,386.3 867.00,383.8 867.30,383.6 867.60,383.8 867.90,384.5 868.20,383.2 868.50,383.4 868.80,385.0 869.10,383.7 869.40,384.2 869.70,383.1 870.00,381.8 870.30,381.0 870.60,381.1 870.90,380.2 871.20,378.7 871.50,377.7 871.80,378.4 872.10,377.2 872.40,375.8 872.70,374.8 872.90,375.0 873.00,376.7 873.30,374.8 873.60,378.0 873.90,376.3 874.20,376.6 874.50,380.6 874.80,379.7 875.10,382.0 875.40,381.8 875.70,381.9 876.00,383.4 876.30,382.8 876.60,383.8 876.90,383.6 877.20,382.5 877.50,384.5 877.80,383.8 878.10,384.3 878.40,384.8 878.70,383.3 879.00,385.1 879.30,385.1 879.60,386.3 879.90,385.4 880.20,385.1 880.50,384.3 880.80,384.8 881.10,383.7 881.40,385.2 881.70,384.7 882.00,384.6 882.30,384.9 882.60,385.3 882.90,385.1 883.20,383.9 883.50,386.1 883.80,385.0 884.10,385.2 884.40,385.0 884.70,384.2 885.00,385.2 885.30,384.6 885.60,384.2 885.90,385.1 886.20,385.6 886.50,385.5 886.80,385.1 887.10,384.4 887.40,384.6 887.70,384.8 888.00,383.7 888.30,385.6 888.60,384.9 888.90,383.8 889.20,386.1 889.50,386.4 889.80,383.7 890.10,384.6 890.40,384.0 890.70,385.3 891.00,383.5 891.30,385.0 891.60,384.9 891.90,385.4 892.20,382.8 892.50,383.7 892.80,384.1 893.10,385.0 893.40,384.1 893.70,384.5 894.00,384.0 894.30,382.6 894.60,382.9 894.90,382.2 895.20,381.7 895.50,380.5 895.80,381.1 896.10,379.7 896.40,376.6 896.70,377.6 897.00,375.0 897.30,372.8 897.60,373.7 897.90,371.5 898.20,371.0 898.50,370.4 898.80,370.6 899.10,369.9 899.40,373.3 899.70,373.4 900.00,375.5 900.30,376.9 900.60,377.4 900.90,378.4 901.20,380.3 901.50,382.3 901.80,381.4 902.10,382.0 902.40,383.1 902.70,382.8 903.00,384.7 903.30,384.2 903.60,386.1 903.90,384.3 904.20,386.1 904.50,383.8 904.80,384.6 905.10,383.6 905.40,384.2 905.70,384.3 906.00,385.1 906.30,385.8 906.60,384.5 906.90,383.5 907.20,384.7 907.50,384.6 907.80,384.4 908.10,385.5 908.40,385.7 908.70,384.2 909.00,384.2 909.30,382.6 909.60,384.3 909.90,385.5 910.20,384.0 910.50,385.5 910.80,385.3 911.10,385.2 911.40,385.2 911.70,384.6 912.00,385.5 912.30,385.4 912.60,384.8 912.90,384.3 913.20,385.4 913.50,385.4 913.80,383.5 914.10,384.5 914.40,383.5 914.70,385.1 915.00,382.3 915.30,381.3 915.60,380.1 915.90,380.5 916.20,377.3 916.50,377.0 916.80,374.1 917.10,373.7 917.40,372.0 917.70,370.3 918.00,368.8 918.30,368.1 918.60,368.4 918.90,374.8 919.20,374.0 919.50,376.2 919.80,378.3 920.10,380.2 920.40,380.7 920.70,381.9 921.00,382.6 921.30,382.0 921.60,385.1 921.90,385.3 922.20,384.1 922.50,384.1 922.80,386.0 923.10,386.6 923.40,384.6 923.70,385.2 924.00,384.4 924.30,385.1 924.60,382.7 924.90,383.0 925.20,385.3 925.50,384.8 925.80,385.3 926.10,385.1 926.40,385.6 926.70,385.3 927.00,385.0 927.30,385.5 927.60,384.6 927.90,386.4 928.20,384.3 928.50,384.8 928.80,386.0 929.10,384.9 929.40,386.0 929.70,386.5 930.00,385.9 930.30,384.9 930.60,386.9 930.90,385.6 931.20,384.4 931.50,387.0 931.80,385.4 932.10,385.8 932.40,386.0 932.70,384.8 933.00,386.1 933.30,384.2 933.60,384.5 933.90,385.0 934.20,387.2 934.50,385.8 934.80,386.3 935.10,384.9 935.40,385.8 935.70,383.5 936.00,385.1 936.30,385.7 936.60,384.8 936.90,383.6 937.20,383.9 937.50,385.8 937.80,386.4 938.10,384.9 938.40,386.6 938.70,384.1 939.00,385.8 939.30,385.5 939.60,386.1 939.90,383.9 940.20,386.0 940.50,385.3 940.80,384.4 941.10,384.7 941.40,384.9 941.70,385.3 942.00,384.3 942.30,384.3 942.60,385.1 942.90,384.9 943.20,385.3 943.50,385.6 943.80,383.2 944.10,384.6 944.40,384.8 944.70,384.6 945.00,383.5 945.30,384.9 945.60,385.6 945.90,383.8 946.20,383.0 946.50,383.9 946.80,382.8 947.10,382.2 947.40,381.3 947.70,379.6 948.00,378.6 948.30,376.3 948.60,373.4 948.90,374.0 949.20,371.6 949.50,370.0 949.80,369.6 950.10,370.0 950.40,372.3 950.70,373.8 951.00,374.8 951.30,375.8 951.60,379.0 951.90,380.2 952.20,382.0 952.50,380.7 952.80,382.6 953.10,383.4 953.40,383.9 953.70,384.0 954.00,384.4 954.30,382.3 954.60,384.1 954.90,383.9 955.20,383.2 955.50,384.7 955.80,384.4 956.10,383.7 956.40,383.6 956.70,385.1 957.00,382.7 957.30,384.8 957.60,383.9 957.90,385.0 958.20,386.6 958.50,385.8 958.80,384.9 959.10,386.3 959.40,386.6 959.70,385.8 960.00,386.6 960.30,385.2 960.60,385.5 960.90,384.9 961.20,384.6 961.50,385.0 961.80,384.3 962.10,384.8 962.40,386.8 962.70,385.5 963.00,384.6 963.30,386.2 963.60,385.9 963.90,383.7 964.20,383.8 964.50,385.8 964.80,384.2 965.10,384.0 965.40,383.1 965.70,382.2 966.00,383.8 966.30,381.6 966.60,382.2 966.90,382.8 967.20,381.1 967.50,380.0 967.80,380.4 968.10,380.1 968.20,379.6 968.40,379.9 968.70,378.9 969.00,378.8 969.30,380.3 969.60,379.8 969.90,381.3 970.20,382.3 970.50,383.0 970.80,384.8 971.10,382.7 971.40,383.4 971.70,383.6 972.00,383.3 972.30,386.1 972.60,383.7 972.90,384.3 973.20,384.3 973.50,386.6 973.80,384.3 974.10,383.9 974.40,385.6 974.70,383.9 975.00,382.6 975.30,385.3 975.60,385.1 975.90,382.9 976.20,382.9 976.50,383.7 976.80,382.5 977.10,381.6 977.40,381.3 977.70,383.1 978.00,381.5 978.30,378.5 978.60,377.9 978.90,376.6 979.20,374.7 979.50,373.6 979.80,374.4 980.00,372.7 980.10,372.0 980.40,373.3 980.70,373.9 981.00,375.6 981.30,377.1 981.60,378.1 981.90,381.3 982.20,380.7 982.50,383.3 982.80,382.1 983.10,382.5 983.40,383.9 983.70,383.7 984.00,384.9 984.30,384.9 984.60,386.5 984.90,382.0 985.20,383.7 985.50,384.6 985.80,384.6 986.10,384.7 986.40,387.1 986.70,382.9 987.00,385.5 987.30,384.7 987.60,385.0 987.90,385.9 988.20,384.9 988.50,385.7 988.80,386.1 989.10,386.1 989.40,383.4 989.70,384.5 990.00,383.9 990.30,384.4 990.60,384.9 990.90,386.9 991.20,384.5 991.50,384.8 991.80,384.9 992.10,386.4 992.40,384.6 992.70,385.5 993.00,385.8 993.30,385.6 993.60,383.3 993.90,383.9 994.20,385.6 994.50,383.5 994.80,384.8 995.10,383.7 995.40,385.3 995.70,384.9 996.00,383.6 996.30,384.7 996.60,383.9 996.90,384.4 997.20,385.9 997.50,385.0 997.80,385.0 998.10,386.0 998.40,384.7 998.70,385.7 999.00,384.9 999.30,384.7 999.60,384.0 999.90,383.5 1000.20,383.1 1000.50,383.0 1000.80,384.0 1001.10,383.5 1001.40,381.9 1001.70,383.0 1002.00,380.5 1002.30,379.6 1002.60,377.3 1002.90,376.1 1003.20,375.7 1003.50,373.4 1003.80,370.7 1004.10,371.0 1004.40,369.6 1004.70,370.0 1005.00,372.2 1005.30,373.4 1005.60,374.7 1005.90,375.9 1006.20,379.6 1006.50,377.9 1006.80,380.5 1007.10,380.5 1007.40,382.2 1007.70,383.9 1008.00,383.3 1008.30,383.5 1008.60,384.0 1008.90,386.0 1009.20,385.6 1009.50,384.7 1009.80,384.0 1010.10,384.3 1010.40,385.0 1010.70,384.6 1011.00,384.7 1011.30,384.0 1011.60,383.7 1011.90,384.0 1012.20,385.2 1012.50,384.2 1012.80,387.2 1013.10,385.5 1013.40,385.6 1013.70,385.9 1014.00,384.2 1014.30,384.1 1014.60,384.9 1014.90,385.6 1015.20,385.6 1015.50,386.6 1015.80,386.4 1016.10,386.1 1016.40,386.1 1016.70,385.4 1017.00,385.9 1017.30,384.9 1017.60,384.8 1017.90,385.9 1018.20,383.6 1018.50,386.2 1018.80,386.5 1019.10,384.4 1019.40,385.4 1019.70,384.7 1020.00,383.6 1020.30,384.5 1020.60,384.4 1020.90,384.6 1021.20,383.2 1021.50,383.3 1021.80,382.4 1022.10,383.7 1022.40,382.7 1022.70,383.6 1023.00,382.4 1023.30,383.3 1023.60,382.7 1023.90,383.1 1024.20,385.0 1024.50,384.1 1024.80,384.4 1025.10,385.3 1025.40,384.1 1025.70,386.6 1026.00,384.4 1026.30,384.8 1026.60,387.1 1026.90,383.8 1027.20,386.8 1027.50,385.7 1027.80,385.8 1028.10,384.5 1028.40,385.5 1028.70,384.3 1029.00,386.3 1029.30,385.2 1029.60,384.9 1029.90,385.0 1030.20,385.3 1030.50,386.2 1030.80,385.7 1031.10,384.7 1031.40,384.6 1031.70,384.4 1032.00,386.0 1032.30,385.7 1032.60,384.3 1032.90,383.7 1033.20,385.0 1033.50,384.5 1033.80,385.3 1034.10,384.6 1034.40,384.9 1034.70,385.2 1035.00,385.2 1035.30,384.0 1035.60,384.6 1035.90,383.3 1036.20,382.7 1036.50,383.8 1036.80,384.6 1037.00,383.5 1037.10,383.5 1037.40,382.1 1037.70,383.9 1038.00,383.6 1038.30,384.5 1038.60,385.0 1038.90,383.9 1039.20,383.8 1039.50,384.3 1039.80,384.2 1040.10,384.0 1040.40,385.2 1040.70,384.5 1041.00,384.9 1041.30,385.0 1041.60,384.8 1041.90,385.9 1042.20,385.0 1042.50,385.4 1042.80,386.1 1043.10,385.4 1043.40,384.3 1043.70,385.1 1044.00,385.1 1044.30,386.1 1044.60,387.0 1044.90,385.7 1045.20,385.5 1045.50,386.8 1045.80,385.0 1046.10,385.9 1046.40,386.0 1046.70,385.6 1047.00,385.5 1047.30,385.8 1047.60,386.9 1047.90,386.1 1048.20,385.1 1048.50,385.9 1048.80,386.5 1049.10,387.2 1049.40,386.3 1049.70,385.8 1050.00,386.8 1050.30,386.4 1050.60,385.8 1050.90,385.1 1051.20,385.7 1051.50,386.5 1051.80,384.8 1052.10,384.3 1052.40,386.1 1052.70,384.4 1053.00,384.6 1053.30,385.5 1053.60,385.5 1053.90,385.7 1054.20,385.8 1054.50,386.1 1054.80,385.6 1055.10,385.0 1055.40,383.3 1055.70,386.7 1056.00,386.3 1056.30,386.2 1056.60,385.6 1056.90,384.9 1057.20,386.0 1057.50,385.6 1057.80,384.5 1058.10,386.5 1058.40,384.4 1058.70,385.2 1059.00,387.1 1059.30,384.9 1059.60,385.7 1059.90,386.4 1060.20,385.5 1060.50,384.3 1060.80,385.1 1061.10,385.4 1061.40,384.2 1061.70,386.6 1062.00,385.7 1062.30,386.0 1062.60,385.5 1062.90,385.6 1063.20,384.9 1063.50,383.9 1063.80,385.6 1064.10,385.0 1064.40,386.1 1064.70,383.7 1065.00,384.6 1065.30,386.1 1065.60,382.9 1065.90,382.7 1066.20,383.6 1066.50,384.5 1066.80,381.7 1067.10,382.3 1067.40,381.7 1067.70,381.0 1068.00,380.9 1068.30,381.9 1068.60,380.8 1068.90,380.7 1069.20,380.1 1069.50,380.9 1069.80,379.9 1070.10,380.9 1070.40,381.5 1070.70,380.5 1071.00,384.2 1071.30,381.6 1071.60,383.4 1071.90,383.5 1072.20,383.4 1072.50,385.2 1072.80,384.4 1073.10,383.9 1073.40,385.7 1073.70,385.3 1074.00,384.0 1074.30,383.7 1074.60,385.8 1074.90,385.0 1075.20,383.9 1075.50,385.6 1075.80,383.9 1076.10,384.6 1076.40,384.5 1076.70,383.5 1077.00,385.7 1077.30,388.1 1077.60,385.6 1077.90,385.4 1078.20,384.7 1078.50,384.8 1078.80,385.0 1079.10,385.1 1079.40,384.0 1079.70,384.2 1080.00,383.7 1080.30,383.9 1080.60,383.8 1080.90,383.3 1081.20,381.3 1081.50,380.5 1081.80,380.7 1082.10,379.0 1082.40,378.1 1082.70,377.9 1083.00,377.3 1083.30,377.8 1083.40,376.7 1083.60,377.7 1083.90,376.7 1084.20,378.4 1084.50,377.6 1084.80,379.5 1085.10,379.9 1085.40,382.8 1085.70,381.3 1086.00,383.7 1086.30,382.6 1086.60,382.8 1086.90,384.4 1087.20,385.4 1087.50,384.7 1087.80,385.4 1088.10,385.3 1088.40,385.1 1088.70,386.5 1089.00,385.4 1089.30,386.2 1089.60,384.5 1089.90,385.4 1090.20,386.4 1090.50,385.2 1090.80,383.8 1091.10,386.3 1091.40,386.2 1091.70,385.5 1092.00,385.9 1092.30,385.5 1092.60,386.1 1092.90,386.8 1093.20,386.1 1093.50,385.8 1093.80,385.5 1094.10,385.8 1094.40,385.5 1094.70,386.7 1095.00,385.0 1095.30,385.4 1095.60,386.2 1095.90,386.2 1096.20,386.2 1096.50,385.6 1096.80,386.2 1097.10,384.8 1097.40,384.7 1097.70,384.9 1098.00,386.3 1098.30,387.2 1098.60,385.7 1098.90,385.6 1099.20,385.8 1099.50,387.6 1099.80,386.2 1100.10,386.1 1100.40,385.6 1100.70,386.5 1101.00,387.2 1101.30,386.2 1101.60,385.4 1101.90,387.2 1102.20,386.1 1102.50,387.6 1102.80,385.2 1103.10,386.0 1103.40,386.3 1103.70,384.6 1104.00,386.2 1104.30,386.6 1104.60,386.0 1104.90,386.5 1105.20,386.3 1105.50,385.4 1105.80,386.7 1106.10,385.5 1106.40,385.9 1106.70,385.5 1107.00,386.7 1107.30,385.7 1107.60,385.7 1107.90,384.3 1108.20,385.9 1108.50,387.0 1108.80,384.4 1109.10,386.4 1109.40,386.1 1109.70,384.6 1110.00,385.8 1110.30,386.9 1110.60,386.1 1110.90,386.4 1111.20,387.1 1111.50,385.8 1111.80,386.9 1112.10,385.1 1112.40,385.4 1112.70,387.3 1113.00,387.3 1113.30,386.9 1113.60,384.9 1113.90,385.9 1114.20,385.4 1114.50,387.7 1114.80,385.0 1115.10,385.0 1115.40,385.6 1115.70,386.4 1116.00,385.6 1116.30,385.9 1116.60,386.4 1116.90,386.1 1117.20,384.5 1117.50,385.0 1117.80,387.5 1118.10,386.1 1118.40,387.6 1118.70,387.3 1119.00,387.0 1119.30,386.1 1119.60,387.4 1119.90,385.7 1120.20,388.0 1120.50,386.6 1120.80,386.6 1121.10,385.7 1121.40,385.6 1121.70,385.8 1122.00,385.6 1122.30,385.3 1122.60,385.1 1122.90,386.2 1123.20,387.0 1123.50,387.6 1123.80,386.6 1124.10,385.8 1124.40,386.4 1124.70,387.3 1125.00,386.0 1125.30,386.7 1125.60,386.1 1125.90,385.9 1126.20,385.2 1126.50,386.2 1126.80,384.9 1127.10,384.6 1127.40,385.7 1127.70,386.1 1128.00,385.9 1128.30,385.6 1128.60,384.4 1128.90,384.2 1129.20,384.9 1129.50,385.1 1129.80,380.5 1130.10,383.1 1130.40,381.3 1130.70,380.1 1131.00,378.4 1131.30,377.3 1131.60,375.6 1131.90,375.7 1132.20,373.7 1132.50,373.9 1132.70,373.8 1132.80,374.9 1133.10,374.9 1133.40,374.1 1133.70,376.6 1134.00,377.0 1134.30,377.8 1134.60,379.8 1134.90,381.5 1135.20,383.0 1135.50,382.7 1135.80,384.1 1136.10,384.3 1136.40,384.7 1136.70,385.3 1137.00,383.6 1137.30,384.6 1137.60,386.4 1137.90,384.1 1138.20,384.6 1138.50,387.0 1138.80,384.6 1139.10,385.6 1139.40,385.8 1139.70,385.4 1140.00,386.4 1140.30,386.4 1140.60,385.1 1140.90,387.1 1141.20,384.9 1141.50,385.2 1141.80,385.4 1142.10,385.6 1142.40,384.4 1142.70,385.4 1143.00,383.2 1143.30,384.5 1143.60,383.9 1143.90,383.8 1144.20,384.0 1144.50,384.0 1144.80,382.9 1145.10,383.3 1145.40,381.9 1145.70,383.1 1146.00,383.9 1146.30,382.7 1146.60,383.3 1146.90,383.8 1147.20,384.8 1147.50,384.8 1147.80,384.6 1148.10,384.1 1148.40,385.4 1148.70,382.9 1149.00,385.8 1149.30,385.0 1149.60,386.2 1149.90,385.7 1150.20,387.0 1150.50,385.3 1150.80,384.2 1151.10,386.0 1151.40,385.5 1151.70,385.9 1152.00,387.0 1152.30,385.3 1152.60,386.6 1152.90,386.8 1153.20,386.9 1153.50,384.4 1153.80,386.2 1154.10,385.5 1154.40,385.9 1154.70,385.4 1155.00,385.8 1155.30,386.8 1155.60,387.5 1155.90,386.6 1156.20,385.0 1156.50,387.1 1156.80,385.0 1157.10,385.7 1157.40,387.0 1157.70,385.5 1158.00,386.6 1158.30,385.8 1158.60,385.0 1158.90,386.1 1159.20,385.5 1159.50,387.4 1159.80,387.4 1160.10,387.2 1160.40,384.9 1160.70,387.3 1161.00,385.9 1161.30,386.0 1161.60,385.6 1161.90,384.9 1162.20,385.3 1162.50,385.7 1162.80,386.1 1163.10,385.0 1163.40,384.3 1163.70,383.6 1164.00,383.4 1164.30,384.7 1164.60,383.6 1164.90,383.0 1165.20,381.2 1165.50,380.9 1165.80,382.8 1165.90,382.3 1166.10,383.2 1166.40,382.6 1166.70,382.1 1167.00,381.4 1167.30,382.4 1167.60,381.5 1167.90,384.0 1168.20,384.5 1168.50,385.5 1168.80,383.1 1169.10,383.7 1169.40,385.6 1169.70,385.5 1170.00,383.7 1170.30,384.9 1170.60,385.7 1170.90,385.4 1171.20,386.1 1171.50,385.9 1171.80,385.4 1172.10,386.2 1172.40,385.9 1172.70,386.9 1173.00,384.8 1173.30,385.8 1173.60,385.4 1173.90,385.8 1174.20,386.4 1174.50,386.6 1174.80,384.2 1175.10,387.0 1175.40,386.4 1175.70,386.4 1176.00,386.0 1176.30,386.7 1176.60,386.2 1176.90,384.3 1177.20,385.1 1177.50,385.4 1177.80,385.1 1178.10,384.9 1178.40,385.6 1178.70,383.9 1179.00,384.0 1179.30,383.6 1179.60,384.2 1179.90,384.4 1180.20,383.2 1180.40,384.0 1180.50,383.5 1180.80,385.2 1181.10,382.3 1181.40,384.4 1181.70,385.6 1182.00,384.5 1182.30,384.1 1182.60,384.5 1182.90,385.9 1183.20,385.1 1183.50,386.5 1183.80,385.8 1184.10,385.3 1184.40,385.5 1184.70,386.3 1185.00,386.8 1185.30,385.3 1185.60,385.0 1185.90,385.0 1186.20,386.4 1186.50,387.5 1186.80,385.5 1187.10,386.5 1187.40,385.5 1187.70,386.6 1188.00,384.4 1188.30,386.1 1188.60,384.4 1188.90,384.6 1189.20,385.5 1189.50,384.8 1189.80,384.7 1190.10,385.0 1190.40,384.5 1190.70,385.3 1191.00,384.4 1191.30,382.8 1191.60,383.2 1191.90,382.5 1192.20,382.5 1192.50,384.3 1192.60,382.8 1192.80,383.9 1193.10,384.2 1193.40,385.4 1193.70,383.3 1194.00,383.8 1194.30,384.2 1194.60,383.9 1194.90,386.0 1195.20,386.4 1195.50,383.0 1195.80,384.9 1196.10,386.4 1196.40,384.6 1196.70,385.1 1197.00,385.8 1197.30,385.9 1197.60,385.8 1197.90,385.9 1198.20,387.6 1198.50,384.1 1198.80,385.7 1199.10,385.2 1199.40,386.4 1199.70,385.9 1200.00,386.7 1200.30,386.3 1200.60,388.3 1200.90,385.2 1201.20,385.9 1201.50,387.1 1201.80,386.0 1202.10,386.5 1202.40,385.0 1202.70,387.0 1203.00,386.3 1203.30,386.9 1203.60,385.6 1203.90,385.9 1204.20,385.7 1204.50,387.8 1204.80,384.9 1205.10,386.8 1205.40,386.6 1205.70,387.5 1206.00,386.7 1206.30,385.5 1206.60,386.9 1206.90,384.9 1207.20,387.3 1207.50,386.3 1207.80,385.8 1208.10,386.0 1208.40,386.9 1208.70,385.0 1209.00,387.9 1209.30,385.8 1209.60,387.8 1209.90,386.6 1210.20,388.1 1210.50,385.4 1210.80,387.2 1211.10,386.4 1211.40,385.9 1211.70,387.2 1212.00,386.3 1212.30,385.8 1212.60,386.3 1212.90,385.8 1213.20,386.3 1213.50,386.4 1213.80,387.4 1214.10,386.4 1214.40,385.8 1214.70,387.1 1215.00,386.1 1215.30,385.6 1215.60,385.4 1215.90,388.0 1216.20,386.4 1216.50,387.9 1216.80,385.6 1217.10,385.5 1217.40,387.9 1217.70,386.2 1218.00,386.3 1218.30,386.3 1218.60,385.6 1218.90,387.3 1219.20,385.4 1219.50,387.1 1219.80,385.5 1220.10,388.7 1220.40,387.1 1220.70,387.4 1221.00,385.0 1221.30,386.7 1221.60,385.9 1221.90,385.7 1222.20,385.7 1222.50,387.1 1222.80,386.4 1223.10,386.0 1223.40,385.9 1223.70,385.8 1224.00,385.9 1224.30,386.1 1224.60,385.4 1224.90,385.6 1225.20,384.4 1225.50,386.3 1225.80,386.8 1226.10,385.9 1226.40,387.5 1226.70,385.6 1227.00,386.3 1227.30,387.2 1227.60,386.4 1227.90,385.5 1228.20,386.4 1228.50,385.7 1228.80,387.0 1229.10,386.6 1229.40,385.7 1229.70,386.2 1230.00,387.2 1230.30,386.6 1230.60,386.2 1230.90,385.2 1231.20,384.7 1231.50,384.4 1231.80,385.8 1232.10,383.8 1232.40,384.9 1232.70,385.7 1233.00,382.8 1233.30,384.2 1233.60,382.9 1233.90,383.4 1234.20,383.8 1234.50,382.4 1234.80,382.0 1235.10,382.7 1235.40,383.1 1235.70,382.7 1236.00,382.3 1236.30,383.8 1236.60,382.4 1236.90,382.3 1237.20,383.8 1237.50,385.8 1237.80,383.7 1238.10,384.3 1238.40,383.7 1238.70,384.2 1239.00,383.9 1239.30,385.3 1239.60,384.7 1239.90,384.7 1240.20,386.3 1240.50,384.4 1240.80,386.5 1241.10,385.7 1241.40,385.1 1241.70,386.0 1242.00,385.8 1242.30,386.4 1242.60,386.0 1242.90,387.8 1243.20,387.2 1243.50,387.3 1243.80,385.3 1244.10,386.1 1244.40,387.4 1244.70,386.9 1245.00,386.4 1245.30,386.4 1245.60,387.4 1245.90,384.8 1246.20,385.7 1246.50,385.3 1246.80,387.5 1247.10,385.3 1247.40,386.3 1247.70,387.7 1248.00,386.3 1248.30,386.8 1248.60,386.6 1248.90,387.2 1249.20,388.5 1249.50,385.6 1249.80,386.5 1250.10,388.0 1250.40,388.6 1250.70,386.4 1251.00,387.8 1251.30,387.2 1251.60,387.2 1251.90,385.4 1252.20,385.2 1252.50,386.8 1252.80,386.5 1253.10,386.6 1253.40,385.6 1253.70,387.9 1254.00,386.5 1254.30,389.0 1254.60,386.5 1254.90,387.0 1255.20,387.3 1255.50,386.4 1255.80,385.8 1256.10,386.2 1256.40,386.7 1256.70,386.3 1257.00,388.4 1257.30,386.3 1257.60,387.4 1257.90,387.4 1258.20,386.9 1258.50,385.8 1258.80,387.2 1259.10,387.5 1259.40,386.9 1259.70,386.7 1260.00,384.9 1260.30,385.8 1260.60,386.6 1260.90,386.9 1261.20,387.4"/><path d="M234.30,780.8 234.60,781.3 234.90,780.2 235.20,781.8 235.50,781.9 235.80,781.1 236.10,782.2 236.40,781.0 236.70,780.8 237.00,781.0 237.30,783.3 237.60,779.8 237.90,781.6 238.20,781.1 238.50,781.6 238.80,780.1 239.10,782.2 239.40,782.2 239.70,781.3 240.00,781.2 240.30,781.7 240.60,782.6 240.90,780.3 241.20,783.1 241.50,781.5 241.80,782.6 242.10,781.1 242.40,783.8 242.70,782.2 243.00,783.7 243.30,781.4 243.60,781.4 243.90,783.2 244.20,782.8 244.50,782.5 244.80,783.4 245.10,782.6 245.40,781.9 245.70,780.5 246.00,780.1 246.30,783.0 246.60,782.9 246.90,781.6 247.20,783.0 247.50,782.3 247.80,782.6 248.10,783.5 248.40,781.1 248.70,783.0 249.00,783.2 249.30,782.5 249.60,782.9 249.90,781.7 250.20,782.9 250.50,783.4 250.80,783.6 251.10,782.2 251.40,783.7 251.70,783.3 252.00,783.6 252.30,783.0 252.60,783.7 252.90,783.3 253.20,785.5 253.50,782.9 253.80,784.3 254.10,783.2 254.40,781.8 254.70,783.7 255.00,784.5 255.30,784.1 255.60,784.1 255.90,782.6 256.20,783.7 256.50,782.2 256.80,785.2 257.10,785.0 257.40,782.6 257.70,783.2 258.00,782.5 258.30,783.0 258.60,783.3 258.90,782.6 259.20,783.3 259.50,784.4 259.80,783.6 260.10,784.6 260.40,783.7 260.70,784.0 261.00,782.8 261.30,784.9 261.60,782.9 261.90,783.7 262.20,782.9 262.50,784.6 262.80,783.2 263.10,784.8 263.40,786.1 263.70,784.6 264.00,782.1 264.30,785.3 264.60,784.5 264.90,785.0 265.20,784.8 265.50,785.6 265.80,785.5 266.10,784.5 266.40,783.4 266.70,784.5 267.00,785.4 267.30,782.9 267.60,784.8 267.90,783.0 268.20,785.8 268.50,786.6 268.80,785.7 269.10,784.4 269.40,785.6 269.70,786.2 270.00,786.6 270.30,786.3 270.60,786.1 270.90,784.1 271.20,785.0 271.50,785.5 271.80,785.2 272.10,783.3 272.40,785.0 272.70,784.5 273.00,785.4 273.30,785.6 273.60,783.9 273.90,784.6 274.20,785.5 274.50,784.3 274.80,785.3 275.10,784.6 275.40,784.7 275.70,786.3 276.00,785.3 276.30,785.0 276.60,787.0 276.90,785.2 277.20,785.5 277.50,785.6 277.80,788.5 278.10,786.2 278.40,786.5 278.70,785.3 279.00,786.5 279.30,786.8 279.60,784.6 279.90,786.2 280.20,787.4 280.50,787.6 280.80,786.1 281.10,788.1 281.40,785.3 281.70,786.9 282.00,786.5 282.30,785.0 282.60,787.0 282.90,784.8 283.20,785.4 283.50,786.0 283.80,785.0 284.10,787.3 284.40,785.7 284.70,785.0 285.00,786.5 285.30,786.2 285.60,785.2 285.90,785.8 286.20,787.2 286.50,787.1 286.80,784.8 287.10,787.3 287.40,787.4 287.70,787.5 288.00,786.0 288.30,785.8 288.60,786.4 288.90,785.9 289.20,786.3 289.50,786.0 289.80,786.3 290.10,786.2 290.40,786.7 290.70,786.8 291.00,786.5 291.30,786.2 291.60,788.3 291.90,787.7 292.20,787.3 292.50,786.0 292.80,787.5 293.10,786.7 293.40,787.5 293.70,787.1 294.00,789.4 294.30,787.0 294.60,786.0 294.90,788.1 295.20,788.1 295.50,788.3 295.80,784.6 296.10,786.2 296.40,786.3 296.70,785.6 297.00,787.3 297.30,787.8 297.60,788.2 297.90,788.1 298.20,787.3 298.50,788.8 298.80,787.5 299.10,784.6 299.40,787.0 299.70,786.6 300.00,787.7 300.30,787.0 300.60,787.1 300.90,788.8 301.20,786.8 301.50,786.2 301.80,787.8 302.10,788.2 302.40,787.5 302.70,787.6 303.00,787.1 303.30,786.4 303.60,787.0 303.90,786.7 304.20,788.9 304.50,787.5 304.80,789.1 305.10,787.7 305.40,787.0 305.70,788.0 306.00,788.1 306.30,789.2 306.60,786.0 306.90,787.5 307.20,788.4 307.50,787.3 307.80,788.1 308.10,787.8 308.40,789.4 308.70,789.3 309.00,786.1 309.30,786.6 309.60,787.3 309.90,788.0 310.20,787.9 310.50,787.6 310.80,788.6 311.10,788.9 311.40,788.1 311.70,787.6 312.00,787.9 312.30,786.9 312.60,788.4 312.90,788.2 313.20,786.1 313.50,787.9 313.80,785.6 314.10,785.3 314.40,783.0 314.70,780.9 315.00,779.5 315.30,775.6 315.60,774.4 315.90,774.0 316.20,775.2 316.50,776.4 316.80,778.7 317.10,780.8 317.40,783.9 317.70,785.2 318.00,785.9 318.30,786.5 318.60,789.3 318.90,789.4 319.20,787.2 319.50,789.7 319.80,789.2 320.10,789.1 320.40,789.3 320.70,787.7 321.00,791.5 321.30,791.2 321.60,789.3 321.90,789.3 322.20,789.5 322.50,788.8 322.80,790.0 323.10,789.5 323.40,788.5 323.70,789.1 324.00,789.0 324.30,789.1 324.60,789.4 324.90,790.3 325.20,789.4 325.50,788.2 325.80,791.2 326.10,789.3 326.40,791.2 326.70,790.1 327.00,790.4 327.30,789.1 327.60,790.0 327.90,789.5 328.20,789.9 328.50,790.4 328.80,789.5 329.10,790.7 329.40,788.6 329.70,788.9 330.00,790.3 330.30,790.4 330.60,790.9 330.90,791.4 331.20,790.2 331.50,790.5 331.80,790.0 332.10,789.8 332.40,789.5 332.70,789.6 333.00,788.9 333.30,789.2 333.60,790.0 333.90,789.5 334.20,790.0 334.50,788.3 334.80,788.2 335.10,788.7 335.40,787.1 335.70,786.7 336.00,787.8 336.30,786.4 336.60,786.9 336.90,785.4 337.20,784.0 337.50,782.3 337.80,783.1 338.10,780.1 338.40,777.1 338.70,773.4 339.00,769.3 339.30,763.9 339.60,756.3 339.90,740.9 340.20,722.9 340.50,697.4 340.80,664.4 341.10,642.1 341.30,637.7 341.40,637.1 341.70,659.3 342.00,687.6 342.30,713.4 342.60,738.1 342.90,751.5 343.20,763.6 343.50,769.4 343.80,773.4 344.10,778.7 344.40,781.9 344.70,783.4 345.00,782.6 345.30,785.6 345.60,784.9 345.90,786.3 346.20,788.8 346.50,786.8 346.80,791.0 347.10,787.6 347.40,788.2 347.70,790.5 348.00,789.9 348.30,790.2 348.60,789.7 348.90,791.5 349.20,791.2 349.50,791.1 349.80,790.5 350.10,790.0 350.40,791.6 350.70,789.6 351.00,791.2 351.30,792.5 351.60,792.6 351.90,791.7 352.20,789.6 352.50,792.7 352.80,793.1 353.10,792.4 353.40,793.6 353.70,793.4 354.00,790.9 354.30,792.3 354.60,792.1 354.90,794.1 355.20,793.7 355.50,792.8 355.80,793.3 356.10,793.6 356.40,792.1 356.70,792.6 357.00,792.8 357.30,792.5 357.60,792.6 357.90,793.1 358.20,791.7 358.50,791.8 358.80,793.7 359.10,794.5 359.40,794.8 359.70,791.3 360.00,793.4 360.30,792.2 360.60,792.5 360.90,792.9 361.20,793.5 361.50,793.7 361.80,790.8 362.10,792.5 362.40,794.2 362.70,793.3 363.00,791.6 363.30,792.2 363.60,792.4 363.90,794.2 364.20,794.9 364.50,792.1 364.80,793.7 365.10,792.9 365.40,793.8 365.70,793.0 366.00,792.2 366.30,792.6 366.60,792.6 366.90,794.7 367.20,792.5 367.50,793.8 367.80,792.5 368.10,792.6 368.40,793.5 368.70,792.7 369.00,795.2 369.30,794.6 369.60,792.2 369.90,793.8 370.20,794.8 370.50,792.2 370.80,792.9 371.10,794.8 371.40,792.5 371.70,793.9 372.00,793.3 372.30,793.5 372.60,792.3 372.90,793.3 373.20,792.9 373.50,795.0 373.80,794.0 374.10,793.5 374.40,793.3 374.70,794.0 375.00,791.8 375.30,792.4 375.60,792.5 375.90,792.6 376.20,791.7 376.50,793.8 376.80,792.9 377.10,794.5 377.40,793.2 377.70,793.0 378.00,793.7 378.30,793.7 378.60,793.0 378.90,793.9 379.20,794.5 379.50,792.9 379.80,794.5 380.10,793.1 380.40,794.1 380.70,793.2 381.00,792.9 381.30,793.5 381.60,792.1 381.90,791.7 382.20,793.2 382.50,792.9 382.80,792.1 383.10,795.2 383.40,793.5 383.70,792.4 384.00,793.6 384.30,793.6 384.60,792.7 384.90,792.8 385.20,791.2 385.50,793.2 385.80,794.7 386.10,794.0 386.40,793.9 386.70,792.2 387.00,791.7 387.30,793.6 387.60,793.0 387.90,792.4 388.20,792.2 388.50,793.4 388.80,793.0 389.10,791.9 389.40,792.2 389.70,790.6 390.00,791.0 390.30,792.5 390.60,791.4 390.90,790.9 391.20,791.9 391.50,792.7 391.80,790.5 392.10,790.8 392.40,790.7 392.70,793.0 393.00,791.4 393.30,790.4 393.60,788.5 393.90,790.2 394.20,789.7 394.50,788.5 394.80,787.4 395.10,787.1 395.40,785.3 395.70,785.7 396.00,784.7 396.30,783.1 396.60,782.4 396.90,779.6 397.20,780.2 397.50,776.5 397.80,772.5 398.10,770.4 398.40,765.0 398.70,756.8 399.00,745.8 399.30,732.0 399.60,710.5 399.90,678.9 400.20,635.7 400.50,582.0 400.80,528.4 401.10,507.2 401.40,528.0 401.70,582.1 402.00,635.1 402.30,679.2 402.60,710.0 402.90,732.0 403.20,746.5 403.50,754.6 403.80,764.2 404.10,772.1 404.40,774.8 404.70,776.4 405.00,779.4 405.30,781.4 405.60,782.0 405.90,783.9 406.20,785.4 406.50,785.5 406.80,787.2 407.10,788.6 407.40,788.8 407.70,788.8 408.00,788.8 408.30,790.1 408.60,789.2 408.90,789.4 409.20,791.5 409.50,790.2 409.80,789.5 410.10,791.8 410.40,791.9 410.70,792.4 411.00,791.4 411.30,792.7 411.60,791.6 411.90,790.9 412.20,791.8 412.50,792.3 412.80,791.1 413.10,792.0 413.40,792.5 413.70,791.9 414.00,792.5 414.30,792.4 414.60,791.7 414.90,792.9 415.20,793.2 415.50,790.7 415.80,792.0 416.10,793.5 416.40,793.2 416.70,791.0 417.00,793.0 417.30,794.2 417.60,793.7 417.90,793.6 418.20,792.8 418.50,793.0 418.80,791.9 419.10,793.0 419.40,795.2 419.70,793.0 420.00,792.2 420.30,793.5 420.60,791.1 420.90,795.2 421.20,793.7 421.50,792.8 421.80,792.7 422.10,792.2 422.40,793.2 422.70,793.1 423.00,791.6 423.30,794.1 423.60,792.8 423.90,792.1 424.20,794.0 424.50,793.8 424.80,792.6 425.10,792.5 425.40,794.2 425.70,792.8 426.00,793.3 426.30,794.4 426.60,792.0 426.90,791.7 427.20,792.3 427.50,792.6 427.80,793.2 428.10,794.1 428.40,792.7 428.70,794.8 429.00,793.3 429.30,791.3 429.60,793.1 429.90,793.8 430.20,794.2 430.50,792.4 430.80,793.0 431.10,795.2 431.40,793.3 431.70,792.2 432.00,791.7 432.30,792.7 432.60,793.4 432.90,792.0 433.20,794.4 433.50,792.4 433.80,791.3 434.10,793.7 434.40,793.1 434.70,792.8 435.00,794.3 435.30,792.5 435.60,793.7 435.90,792.5 436.20,794.6 436.50,793.0 436.80,793.0 437.10,793.6 437.40,792.9 437.70,793.4 438.00,792.8 438.30,793.6 438.60,793.0 438.90,792.4 439.20,793.5 439.50,793.4 439.80,791.9 440.10,792.6 440.40,791.3 440.70,793.0 441.00,793.7 441.30,795.2 441.60,793.1 441.90,793.9 442.20,794.2 442.50,793.5 442.80,791.1 443.10,792.4 443.40,793.1 443.70,793.1 444.00,792.9 444.30,791.9 444.60,791.0 444.90,793.1 445.20,793.8 445.50,792.3 445.80,793.2 446.10,792.2 446.40,792.5 446.70,792.1 447.00,793.4 447.30,791.7 447.60,792.7 447.90,793.4 448.20,792.5 448.50,791.4 448.80,792.9 449.10,792.3 449.40,791.2 449.70,792.3 450.00,792.1 450.30,793.0 450.60,791.9 450.90,792.4 451.20,792.9 451.50,790.5 451.80,793.2 452.10,792.2 452.40,791.2 452.70,792.3 453.00,793.1 453.30,791.4 453.60,791.5 453.90,793.3 454.20,793.4 454.50,793.8 454.80,791.9 455.10,791.0 455.40,790.9 455.70,791.5 456.00,790.8 456.30,792.1 456.60,792.8 456.90,790.6 457.20,792.9 457.50,790.6 457.80,790.8 458.10,790.1 458.40,792.0 458.70,791.2 459.00,791.2 459.30,788.4 459.60,790.5 459.90,791.3 460.20,788.3 460.50,792.7 460.80,791.1 461.10,791.7 461.40,790.3 461.70,791.4 462.00,791.6 462.30,792.7 462.60,789.2 462.90,792.0 463.20,788.9 463.50,789.9 463.80,789.3 464.10,789.3 464.40,787.4 464.70,788.8 465.00,787.7 465.30,788.4 465.60,788.6 465.90,788.1 466.20,787.7 466.50,788.7 466.80,787.4 467.10,787.3 467.40,787.6 467.70,785.9 468.00,785.6 468.30,785.7 468.60,784.3 468.90,785.3 469.20,783.1 469.50,783.0 469.80,782.6 470.10,782.0 470.40,781.9 470.70,781.0 471.00,781.0 471.30,781.8 471.60,779.9 471.90,780.6 472.20,778.5 472.50,779.6 472.80,777.2 473.10,779.1 473.40,776.7 473.70,775.3 474.00,771.6 474.30,770.2 474.60,769.4 474.90,765.8 475.20,760.9 475.50,754.1 475.80,745.6 476.10,730.3 476.40,710.9 476.70,685.4 477.00,655.8 477.30,630.7 477.60,619.2 477.90,630.1 478.20,657.2 478.50,686.3 478.80,712.2 479.10,731.6 479.40,743.7 479.70,754.1 480.00,762.6 480.30,766.1 480.60,769.8 480.90,771.2 481.20,771.2 481.50,772.1 481.80,773.4 482.10,772.8 482.40,773.8 482.70,769.7 483.00,766.2 483.30,762.4 483.60,755.8 483.90,753.9 484.20,752.0 484.30,752.0 484.50,752.2 484.80,754.6 485.10,760.5 485.40,765.2 485.70,770.1 486.00,774.3 486.30,777.4 486.60,779.2 486.90,781.3 487.20,785.2 487.50,783.5 487.80,785.3 488.10,784.4 488.40,784.1 488.70,786.9 489.00,786.5 489.30,787.8 489.60,787.8 489.90,787.2 490.20,786.4 490.50,789.1 490.80,787.4 491.10,789.5 491.40,788.2 491.70,788.5 492.00,788.3 492.30,788.2 492.60,787.6 492.90,790.1 493.20,787.1 493.50,786.5 493.80,788.3 494.10,787.4 494.40,789.0 494.70,787.9 495.00,789.2 495.30,788.2 495.60,787.4 495.90,787.8 496.20,788.8 496.50,787.5 496.80,787.3 497.10,787.9 497.40,788.4 497.70,789.3 498.00,788.5 498.30,788.9 498.60,787.9 498.90,789.8 499.20,790.1 499.50,787.4 499.80,788.3 500.10,787.9 500.40,788.3 500.70,787.7 501.00,787.3 501.30,786.8 501.60,787.5 501.90,788.0 502.20,788.9 502.50,788.4 502.80,787.5 503.10,787.3 503.40,786.4 503.70,788.5 504.00,787.9 504.30,788.4 504.60,788.5 504.90,788.3 505.20,787.6 505.50,787.4 505.80,786.7 506.10,787.1 506.40,788.0 506.70,789.7 507.00,787.2 507.30,787.8 507.60,790.5 507.90,787.6 508.20,787.2 508.50,787.5 508.80,787.2 509.10,785.6 509.40,788.1 509.70,785.6 510.00,786.7 510.30,786.8 510.60,787.6 510.90,787.0 511.20,786.7 511.50,786.3 511.80,787.3 512.10,786.7 512.40,786.3 512.70,785.7 513.00,786.1 513.30,787.0 513.60,785.3 513.90,786.9 514.20,786.8 514.50,787.7 514.80,785.9 515.10,785.6 515.40,786.3 515.70,786.0 516.00,783.8 516.30,787.3 516.60,786.3 516.90,786.1 517.20,785.1 517.50,786.1 517.80,785.3 518.10,786.8 518.40,785.7 518.70,786.0 519.00,782.9 519.30,782.5 519.60,781.8 519.90,780.3 520.20,780.7 520.50,777.6 520.80,774.2 521.10,773.1 521.40,773.9 521.60,771.9 521.70,772.5 522.00,771.2 522.30,773.9 522.60,776.3 522.90,778.1 523.20,780.1 523.50,781.8 523.80,783.7 524.10,781.8 524.40,784.1 524.70,785.1 525.00,784.9 525.30,786.0 525.60,784.9 525.90,784.7 526.20,784.4 526.50,786.1 526.80,784.1 527.10,784.9 527.40,785.3 527.70,786.0 528.00,785.1 528.30,784.5 528.60,785.9 528.90,784.3 529.20,784.7 529.50,783.5 529.80,785.5 530.10,785.5 530.40,783.7 530.70,785.1 531.00,785.8 531.30,784.6 531.60,783.7 531.90,785.1 532.20,785.8 532.50,783.4 532.80,786.0 533.10,785.1 533.40,786.0 533.70,784.1 534.00,786.0 534.30,785.4 534.60,785.8 534.90,785.1 535.20,785.9 535.50,784.8 535.80,784.6 536.10,784.0 536.40,783.5 536.70,785.0 537.00,784.6 537.30,784.8 537.60,784.6 537.90,785.1 538.20,784.8 538.50,784.2 538.80,785.4 539.10,786.7 539.40,783.9 539.70,784.2 540.00,785.2 540.30,783.9 540.60,785.6 540.90,783.9 541.20,783.4 541.50,783.6 541.80,785.5 542.10,782.6 542.40,784.6 542.70,782.4 543.00,785.1 543.30,784.8 543.60,785.0 543.90,786.4 544.20,784.3 544.50,785.4 544.80,784.9 545.10,785.3 545.40,783.6 545.70,785.3 546.00,783.9 546.30,785.6 546.60,785.1 546.90,784.3 547.20,784.7 547.50,784.7 547.80,784.4 548.10,786.7 548.40,783.3 548.70,782.8 549.00,782.8 549.30,783.8 549.60,784.0 549.90,784.7 550.20,784.9 550.50,784.2 550.80,784.1 551.10,783.1 551.40,784.9 551.70,785.2 552.00,783.8 552.30,784.6 552.60,783.3 552.90,783.8 553.20,783.9 553.50,784.6 553.80,782.4 554.10,783.8 554.40,784.6 554.70,784.1 555.00,784.3 555.30,781.3 555.60,782.9 555.90,783.2 556.20,782.9 556.50,781.4 556.80,784.6 557.10,783.8 557.40,781.7 557.70,783.0 558.00,783.5 558.30,784.4 558.60,784.1 558.90,782.4 559.20,782.8 559.50,783.6 559.80,784.3 560.10,782.9 560.40,782.7 560.70,783.8 561.00,783.4 561.30,784.5 561.60,783.7 561.90,784.1 562.20,781.3 562.50,781.8 562.80,781.6 563.10,782.4 563.40,783.4 563.70,782.7 564.00,783.4 564.30,782.2 564.60,783.8 564.90,783.7 565.20,781.2 565.50,781.8 565.80,782.2 566.10,783.5 566.40,783.4 566.70,784.3 567.00,781.1 567.30,782.7 567.60,782.4 567.90,782.1 568.20,782.2 568.50,780.3 568.80,782.4 569.10,781.7 569.40,780.8 569.70,783.2 570.00,781.1 570.30,781.8 570.60,780.8 570.90,779.7 571.20,780.5 571.50,780.9 571.80,779.2 572.10,780.1 572.40,780.5 572.70,779.0 573.00,776.2 573.30,774.0 573.60,773.6 573.90,768.9 574.20,766.5 574.50,766.4 574.80,762.5 575.10,760.7 575.40,759.5 575.70,762.9 576.00,765.1 576.30,764.5 576.60,768.3 576.90,769.9 577.20,773.1 577.50,776.0 577.80,777.6 578.10,777.4 578.40,779.0 578.70,782.1 579.00,780.9 579.30,781.7 579.60,781.2 579.90,780.8 580.20,780.0 580.50,780.2 580.80,779.7 581.10,780.3 581.40,780.6 581.70,782.2 582.00,780.0 582.30,782.0 582.60,779.8 582.90,784.2 583.20,781.2 583.50,781.9 583.80,783.5 584.10,781.6 584.40,781.9 584.70,782.0 585.00,782.4 585.30,781.3 585.60,783.5 585.90,782.9 586.20,782.0 586.50,783.0 586.80,781.7 587.10,781.3 587.40,781.7 587.70,782.3 588.00,780.3 588.30,781.5 588.60,782.2 588.90,780.7 589.20,782.1 589.50,780.7 589.80,781.9 590.10,781.7 590.40,782.1 590.70,781.0 591.00,779.8 591.30,779.1 591.60,785.3 591.90,780.2 592.20,780.8 592.50,780.0 592.80,782.9 593.10,782.3 593.40,782.4 593.70,780.4 594.00,782.5 594.30,780.8 594.60,782.7 594.90,781.4 595.20,779.2 595.50,781.3 595.80,780.5 596.10,783.7 596.40,780.1 596.70,781.0 597.00,781.0 597.30,780.5 597.60,780.6 597.90,781.2 598.20,781.6 598.50,780.8 598.80,780.9 599.10,781.1 599.40,780.2 599.70,780.8 600.00,781.1 600.30,782.0 600.60,781.6 600.90,781.4 601.20,781.8 601.50,780.0 601.80,781.8 602.10,780.3 602.40,780.4 602.70,780.0 603.00,780.8 603.30,779.3 603.60,780.2 603.90,778.8 604.20,778.1 604.50,778.3 604.80,776.3 605.10,777.5 605.40,774.8 605.70,774.3 606.00,775.5 606.20,774.2 606.30,775.1 606.60,774.6 606.90,775.3 607.20,776.1 607.50,775.9 607.80,779.2 608.10,778.8 608.40,779.4 608.70,780.0 609.00,780.5 609.30,780.2 609.60,779.1 609.90,778.9 610.20,779.0 610.50,779.9 610.80,781.4 611.10,779.2 611.40,780.1 611.70,781.0 612.00,780.1 612.30,780.2 612.60,779.4 612.90,780.6 613.20,779.9 613.50,779.8 613.80,780.1 614.10,780.8 614.40,781.3 614.70,779.3 615.00,780.8 615.30,779.3 615.60,778.5 615.90,779.6 616.20,780.3 616.50,780.2 616.80,780.5 617.10,778.2 617.40,781.4 617.70,780.8 618.00,780.6 618.30,778.3 618.60,780.2 618.90,779.2 619.20,779.1 619.50,779.5 619.80,777.8 620.10,780.2 620.40,780.0 620.70,779.6 621.00,780.0 621.30,776.8 621.60,777.9 621.90,777.5 622.20,776.3 622.50,778.0 622.80,779.3 623.10,775.4 623.40,776.5 623.70,775.6 624.00,775.2 624.30,774.6 624.60,774.7 624.90,772.8 625.20,772.5 625.50,773.9 625.80,771.8 626.10,771.3 626.40,769.1 626.70,770.9 627.00,770.6 627.30,770.1 627.60,771.1 627.80,769.6 627.90,770.4 628.20,768.0 628.50,768.7 628.80,768.0 629.10,771.0 629.40,770.4 629.70,770.5 630.00,771.4 630.30,769.7 630.60,771.5 630.90,772.7 631.20,772.3 631.50,773.1 631.80,771.8 632.10,773.7 632.40,773.3 632.70,773.7 633.00,774.7 633.30,772.7 633.60,771.1 633.90,770.5 634.20,766.8 634.50,766.4 634.80,760.8 635.10,755.9 635.40,750.8 635.70,743.4 636.00,739.8 636.30,737.0 636.40,737.2 636.60,739.3 636.90,743.3 637.20,747.0 637.50,753.1 637.80,759.5 638.10,762.7 638.40,766.4 638.70,771.8 639.00,773.0 639.30,774.6 639.60,773.6 639.90,775.6 640.20,776.1 640.50,776.3 640.80,777.6 641.10,776.6 641.40,776.4 641.70,779.4 642.00,777.8 642.30,776.1 642.60,778.6 642.90,776.4 643.20,775.1 643.50,770.9 643.80,773.3 644.10,770.5 644.40,770.3 644.70,768.8 645.00,768.0 645.30,772.4 645.60,773.1 645.90,774.1 646.20,773.3 646.50,778.5 646.80,777.9 647.10,778.8 647.40,777.6 647.70,779.6 648.00,779.8 648.30,780.9 648.60,778.7 648.90,777.6 649.20,779.2 649.50,778.9 649.80,780.2 650.10,779.8 650.40,780.2 650.70,781.3 651.00,781.7 651.30,780.2 651.60,778.7 651.90,780.2 652.20,780.0 652.50,780.1 652.80,780.1 653.10,780.2 653.40,778.2 653.70,780.8 654.00,780.8 654.30,780.6 654.60,780.2 654.90,781.1 655.20,778.7 655.50,780.2 655.80,780.8 656.10,779.8 656.40,780.2 656.70,781.2 657.00,780.1 657.30,779.4 657.60,779.7 657.90,780.5 658.20,779.1 658.50,780.1 658.80,779.6 659.10,780.0 659.40,780.6 659.70,780.5 660.00,779.7 660.30,779.7 660.60,780.0 660.90,778.2 661.20,778.6 661.50,776.8 661.80,778.3 662.10,776.3 662.40,773.9 662.70,773.4 663.00,773.1 663.30,771.4 663.60,768.5 663.90,771.2 664.00,769.6 664.20,770.0 664.50,770.1 664.80,770.8 665.10,771.5 665.40,774.5 665.70,775.5 666.00,776.4 666.30,778.2 666.60,778.5 666.90,777.8 667.20,778.8 667.50,780.6 667.80,778.4 668.10,781.9 668.40,779.5 668.70,782.6 669.00,780.7 669.30,778.8 669.60,780.8 669.90,780.5 670.20,780.1 670.50,780.6 670.80,780.6 671.10,777.5 671.40,781.3 671.70,780.4 672.00,780.7 672.30,781.4 672.60,780.7 672.90,779.6 673.20,781.5 673.50,780.4 673.80,781.0 674.10,780.1 674.40,780.6 674.70,779.9 675.00,782.3 675.30,779.8 675.60,781.7 675.90,779.1 676.20,781.1 676.50,780.6 676.80,781.8 677.10,781.1 677.40,783.0 677.70,783.7 678.00,780.4 678.30,781.6 678.60,780.0 678.90,780.0 679.20,780.9 679.50,781.8 679.80,781.6 680.10,780.8 680.40,782.0 680.70,779.8 681.00,780.1 681.30,780.9 681.60,779.2 681.90,782.2 682.20,780.8 682.50,780.7 682.80,781.4 683.10,779.7 683.40,780.9 683.70,779.4 684.00,780.8 684.30,781.1 684.60,782.5 684.90,781.0 685.20,782.3 685.50,781.0 685.80,779.5 686.10,781.7 686.40,781.1 686.70,780.4 687.00,781.9 687.30,780.0 687.60,780.6 687.90,781.7 688.20,781.8 688.50,780.4 688.80,781.3 689.10,781.0 689.40,781.6 689.70,780.7 690.00,778.9 690.30,780.6 690.60,782.4 690.90,780.1 691.20,780.7 691.50,781.7 691.80,780.7 692.10,779.9 692.40,780.9 692.70,780.7 693.00,780.1 693.30,780.7 693.60,779.5 693.90,779.4 694.20,779.8 694.50,780.6 694.80,780.8 695.10,780.2 695.40,781.8 695.70,781.3 696.00,780.8 696.30,781.8 696.60,782.1 696.90,781.3 697.20,780.1 697.50,781.4 697.80,781.7 698.10,780.9 698.40,780.4 698.70,780.7 699.00,780.7 699.30,778.6 699.60,781.7 699.90,780.2 700.20,782.0 700.50,780.1 700.80,779.2 701.10,780.6 701.40,779.8 701.70,780.5 702.00,779.1 702.30,779.0 702.60,778.6 702.90,778.5 703.20,779.4 703.50,777.7 703.80,778.9 704.10,779.6 704.40,777.4 704.70,777.9 705.00,777.2 705.30,777.3 705.60,777.6 705.90,777.9 706.20,777.8 706.50,776.0 706.80,776.9 707.00,776.0 707.10,774.8 707.40,774.4 707.70,772.9 708.00,774.0 708.30,771.3 708.60,771.9 708.90,772.6 709.20,767.0 709.50,763.1 709.80,761.9 710.10,756.3 710.40,752.2 710.70,746.5 711.00,740.4 711.30,736.0 711.60,728.2 711.90,723.7 712.20,721.0 712.30,721.0 712.50,721.1 712.80,723.9 713.10,730.8 713.40,736.1 713.70,743.4 714.00,749.3 714.30,756.7 714.60,759.4 714.90,764.1 715.20,766.3 715.50,770.6 715.80,771.4 716.10,773.1 716.40,773.0 716.70,775.7 717.00,777.5 717.30,777.7 717.60,775.7 717.90,777.9 718.20,776.5 718.50,775.7 718.80,776.1 719.10,778.4 719.40,776.8 719.70,775.7 720.00,777.1 720.30,776.9 720.60,776.2 720.80,776.5 720.90,776.3 721.20,778.0 721.50,777.9 721.80,777.5 722.10,778.3 722.40,779.2 722.70,778.6 723.00,779.5 723.30,779.1 723.60,779.2 723.90,777.8 724.20,778.6 724.50,778.9 724.80,780.0 725.10,782.5 725.40,779.2 725.70,779.7 726.00,779.0 726.30,779.9 726.60,780.1 726.90,781.0 727.20,779.0 727.50,780.8 727.80,780.6 728.10,780.1 728.40,779.2 728.70,779.4 729.00,780.3 729.30,781.0 729.60,780.4 729.90,779.8 730.20,780.8 730.50,779.5 730.80,781.3 731.10,783.3 731.40,780.0 731.70,781.6 732.00,779.6 732.30,780.7 732.60,781.1 732.90,781.7 733.20,780.6 733.50,781.9 733.80,779.4 734.10,780.4 734.40,780.6 734.70,780.7 735.00,780.5 735.30,782.4 735.60,780.3 735.90,781.6 736.20,781.1 736.50,782.6 736.80,780.4 737.10,781.4 737.40,781.2 737.70,777.6 738.00,781.1 738.30,781.7 738.60,782.2 738.90,779.7 739.20,780.5 739.50,781.9 739.80,779.6 740.10,779.9 740.40,781.3 740.70,781.4 741.00,782.0 741.30,781.8 741.60,780.9 741.90,779.7 742.20,780.1 742.50,780.7 742.80,781.1 743.10,780.8 743.40,781.5 743.70,780.0 744.00,780.4 744.30,779.5 744.60,782.7 744.90,780.6 745.20,781.7 745.50,782.0 745.80,781.1 746.10,780.6 746.40,780.3 746.70,780.6 747.00,779.2 747.30,780.3 747.60,781.6 747.90,781.1 748.20,781.6 748.50,781.6 748.80,781.5 749.10,780.9 749.40,781.0 749.70,781.7 750.00,780.5 750.30,779.5 750.60,781.6 750.90,780.8 751.20,781.8 751.50,780.2 751.80,779.2 752.10,780.6 752.40,780.2 752.70,779.8 753.00,782.2 753.30,781.0 753.60,779.6 753.90,779.2 754.20,780.6 754.50,781.3 754.80,780.9 755.10,781.8 755.40,780.9 755.70,781.0 756.00,778.7 756.30,781.7 756.60,779.9 756.90,781.2 757.20,778.8 757.50,779.3 757.80,781.1 758.10,778.6 758.40,779.7 758.70,778.8 759.00,780.6 759.30,778.9 759.60,779.3 759.90,777.6 760.20,775.6 760.50,778.9 760.80,776.1 761.10,776.5 761.40,776.6 761.70,775.4 762.00,777.9 762.30,777.3 762.60,776.4 762.90,777.0 763.20,776.6 763.50,778.4 763.80,779.2 764.10,778.7 764.40,779.8 764.70,779.6 765.00,780.6 765.30,780.2 765.60,780.1 765.90,779.5 766.20,779.2 766.50,779.5 766.80,780.7 767.10,779.9 767.40,781.8 767.70,781.1 768.00,779.0 768.30,780.8 768.60,781.5 768.90,779.7 769.20,781.5 769.50,779.6 769.80,781.8 770.10,780.8 770.40,780.0 770.70,778.6 771.00,780.0 771.30,779.4 771.60,780.4 771.90,779.2 772.20,780.4 772.50,779.5 772.80,780.4 773.10,780.6 773.40,779.9 773.70,780.1 774.00,780.6 774.30,778.5 774.60,779.8 774.90,779.3 775.20,780.5 775.50,778.6 775.80,779.5 776.10,776.7 776.40,779.2 776.70,778.1 777.00,777.8 777.30,777.9 777.60,775.4 777.90,775.8 778.20,775.5 778.50,774.5 778.80,773.4 779.10,773.9 779.40,771.8 779.70,770.1 780.00,768.7 780.30,767.9 780.60,766.2 780.90,763.1 781.20,760.1 781.50,756.2 781.80,755.5 781.90,755.7 782.10,754.6 782.40,756.9 782.70,756.0 783.00,758.9 783.30,758.7 783.60,759.3 783.90,759.9 784.20,759.1 784.50,760.3 784.80,761.5 785.10,761.3 785.40,760.7 785.70,761.0 786.00,760.0 786.30,760.1 786.60,761.5 786.90,758.7 787.20,756.0 787.50,754.4 787.80,754.0 788.10,752.7 788.40,750.6 788.70,746.3 789.00,742.9 789.30,740.2 789.60,736.9 789.80,737.7 789.90,738.4 790.20,740.4 790.50,744.2 790.80,750.4 791.10,755.7 791.40,759.1 791.70,760.5 792.00,765.1 792.30,767.9 792.60,770.7 792.90,771.5 793.20,772.8 793.50,775.2 793.80,776.4 794.10,776.0 794.40,775.5 794.70,775.9 795.00,778.2 795.30,777.3 795.60,778.4 795.90,778.6 796.20,779.2 796.50,779.6 796.80,778.6 797.10,779.2 797.40,780.2 797.70,780.2 798.00,779.0 798.30,782.3 798.60,779.3 798.90,781.7 799.20,779.2 799.50,781.8 799.80,779.2 800.10,781.8 800.40,781.2 800.70,781.8 801.00,780.3 801.30,781.2 801.60,781.1 801.90,781.0 802.20,780.2 802.50,781.9 802.80,778.7 803.10,778.9 803.40,778.9 803.70,781.6 803.90,780.3 804.00,779.6 804.30,779.7 804.60,780.2 804.90,780.5 805.20,780.5 805.50,779.7 805.80,781.8 806.10,781.5 806.40,783.2 806.70,782.3 807.00,781.9 807.30,780.7 807.60,782.3 807.90,782.8 808.20,783.9 808.50,782.8 808.80,783.2 809.10,783.0 809.40,784.1 809.70,783.6 810.00,782.6 810.30,781.2 810.60,784.2 810.90,782.7 811.20,781.8 811.50,781.2 811.80,780.9 812.10,782.9 812.40,782.4 812.70,782.9 813.00,783.7 813.30,781.9 813.60,782.7 813.90,781.9 814.20,781.5 814.50,780.0 814.80,781.3 815.10,782.9 815.40,781.1 815.70,781.6 816.00,781.1 816.30,782.6 816.60,781.6 816.90,779.1 817.20,778.8 817.50,779.8 817.80,778.4 818.10,777.8 818.40,778.3 818.70,777.4 819.00,776.7 819.30,776.5 819.60,777.0 819.90,775.6 820.20,777.7 820.50,778.1 820.80,780.0 821.10,779.3 821.40,779.0 821.70,780.5 822.00,779.5 822.30,780.8 822.60,781.9 822.90,781.1 823.20,780.3 823.50,781.5 823.80,781.9 824.10,783.5 824.40,782.6 824.70,783.1 825.00,782.4 825.30,783.5 825.60,782.9 825.90,784.1 826.20,783.9 826.50,785.1 826.80,784.3 827.10,783.5 827.40,783.0 827.70,784.1 828.00,784.6 828.30,785.5 828.60,783.5 828.90,782.8 829.20,782.3 829.50,783.1 829.80,783.9 830.10,783.9 830.40,783.9 830.70,784.2 831.00,784.5 831.30,782.6 831.60,784.3 831.90,784.1 832.20,784.1 832.50,783.9 832.80,782.6 833.10,784.8 833.40,783.9 833.70,784.3 834.00,784.7 834.30,784.5 834.60,784.9 834.90,784.9 835.20,783.6 835.50,783.5 835.80,785.4 836.10,783.9 836.40,786.7 836.70,783.6 837.00,784.8 837.30,784.6 837.60,784.9 837.90,783.8 838.20,785.0 838.50,786.6 838.80,784.2 839.10,782.7 839.40,785.4 839.70,785.2 840.00,785.5 840.30,784.1 840.60,785.3 840.90,785.7 841.20,784.4 841.50,785.0 841.80,785.4 842.10,785.7 842.40,784.7 842.70,785.2 843.00,786.9 843.30,786.9 843.60,784.0 843.90,787.1 844.20,784.7 844.50,786.1 844.80,783.9 845.10,784.9 845.40,784.5 845.70,785.9 846.00,785.3 846.30,785.5 846.60,785.5 846.90,785.3 847.20,786.0 847.50,785.3 847.80,785.1 848.10,784.6 848.40,784.3 848.70,784.7 849.00,785.5 849.30,786.1 849.60,785.1 849.90,787.1 850.20,786.4 850.50,785.2 850.80,785.5 851.10,785.2 851.40,783.4 851.70,785.9 852.00,785.4 852.30,783.5 852.60,786.0 852.90,784.6 853.20,784.8 853.50,783.4 853.80,784.9 854.10,785.3 854.40,784.4 854.70,784.7 855.00,782.8 855.30,784.9 855.60,784.2 855.90,783.9 856.20,784.3 856.50,784.3 856.80,782.8 857.10,783.3 857.40,783.7 857.70,780.5 858.00,781.3 858.30,779.4 858.60,781.0 858.90,782.2 859.20,781.1 859.50,780.5 859.80,781.5 860.10,782.9 860.40,781.5 860.70,782.0 861.00,784.1 861.30,782.7 861.60,784.4 861.90,783.5 862.20,783.2 862.50,785.6 862.80,786.0 863.10,784.3 863.40,787.3 863.70,785.3 864.00,785.7 864.30,785.4 864.60,784.2 864.90,786.2 865.20,785.4 865.50,785.7 865.80,785.4 866.10,784.8 866.40,787.4 866.70,785.5 867.00,784.8 867.30,785.6 867.60,783.7 867.90,785.0 868.20,787.1 868.50,783.6 868.80,784.5 869.10,782.6 869.40,783.4 869.70,784.0 870.00,781.6 870.30,781.2 870.60,782.7 870.90,781.3 871.20,781.2 871.50,780.6 871.80,778.6 872.10,777.9 872.40,779.6 872.70,780.1 873.00,778.5 873.30,778.5 873.60,780.1 873.90,781.0 874.20,781.9 874.50,780.5 874.80,784.0 875.10,782.3 875.40,783.7 875.70,783.9 876.00,783.3 876.30,785.0 876.60,785.1 876.90,786.1 877.20,787.0 877.50,787.4 877.80,786.4 878.10,786.2 878.40,785.3 878.70,784.3 879.00,786.2 879.30,785.3 879.60,785.6 879.90,785.5 880.20,786.4 880.50,785.6 880.80,788.3 881.10,786.9 881.40,785.6 881.70,786.5 882.00,787.5 882.30,785.0 882.60,786.4 882.90,785.7 883.20,786.3 883.50,785.8 883.80,786.4 884.10,786.7 884.40,786.9 884.70,784.8 885.00,787.0 885.30,786.3 885.60,785.7 885.90,786.2 886.20,787.8 886.50,786.1 886.80,785.5 887.10,787.0 887.40,786.1 887.70,787.0 888.00,786.5 888.30,787.6 888.60,785.7 888.90,785.9 889.20,787.3 889.50,787.9 889.80,786.4 890.10,787.3 890.40,786.6 890.70,786.1 891.00,784.4 891.30,788.0 891.60,787.0 891.90,783.6 892.20,786.5 892.50,785.0 892.80,784.5 893.10,784.7 893.40,785.7 893.70,784.7 894.00,784.1 894.30,783.6 894.60,782.8 894.90,782.9 895.20,779.5 895.50,779.2 895.80,779.1 896.10,776.8 896.40,776.7 896.70,774.8 897.00,774.3 897.30,772.9 897.60,773.2 897.70,772.6 897.90,773.4 898.20,773.0 898.50,772.6 898.80,775.6 899.10,777.0 899.40,777.9 899.70,780.7 900.00,781.4 900.30,783.4 900.60,782.4 900.90,783.1 901.20,784.5 901.50,785.9 901.80,784.2 902.10,785.6 902.40,785.4 902.70,785.3 903.00,786.6 903.30,786.7 903.60,786.6 903.90,785.4 904.20,786.0 904.50,784.5 904.80,786.7 905.10,784.9 905.40,786.0 905.70,787.1 906.00,786.0 906.30,786.4 906.60,785.6 906.90,788.8 907.20,785.1 907.50,785.7 907.80,786.2 908.10,788.8 908.40,785.7 908.70,786.3 909.00,787.0 909.30,784.2 909.60,787.1 909.90,786.5 910.20,787.6 910.50,787.6 910.80,786.5 911.10,787.0 911.40,785.3 911.70,784.7 912.00,785.4 912.30,785.6 912.60,784.9 912.90,785.4 913.20,785.2 913.50,785.8 913.80,783.3 914.10,782.1 914.40,781.9 914.70,780.3 915.00,779.0 915.30,778.1 915.60,773.5 915.90,772.8 916.20,771.1 916.50,769.2 916.80,765.4 917.00,766.4 917.10,767.9 917.40,767.5 917.70,769.6 918.00,771.2 918.30,774.8 918.60,776.1 918.90,777.6 919.20,779.7 919.50,782.5 919.80,782.7 920.10,781.7 920.40,782.0 920.70,785.2 921.00,783.3 921.30,785.4 921.60,784.8 921.90,785.9 922.20,785.1 922.50,783.7 922.80,787.4 923.10,786.1 923.40,786.0 923.70,787.8 924.00,787.0 924.30,787.4 924.60,786.2 924.90,786.6 925.20,787.0 925.50,786.0 925.80,787.4 926.10,787.0 926.40,786.4 926.70,786.3 927.00,787.5 927.30,786.6 927.60,787.1 927.90,787.0 928.20,786.6 928.50,783.7 928.80,787.1 929.10,787.6 929.40,786.2 929.70,786.2 930.00,787.7 930.30,785.7 930.60,788.1 930.90,787.4 931.20,788.2 931.50,786.9 931.80,787.0 932.10,787.2 932.40,785.5 932.70,786.1 933.00,788.0 933.30,786.3 933.60,786.0 933.90,787.3 934.20,788.3 934.50,786.9 934.80,786.7 935.10,786.9 935.40,787.4 935.70,785.5 936.00,787.3 936.30,787.3 936.60,788.0 936.90,788.0 937.20,787.6 937.50,788.9 937.80,787.0 938.10,786.9 938.40,788.5 938.70,787.1 939.00,786.4 939.30,786.4 939.60,786.9 939.90,785.6 940.20,787.9 940.50,787.2 940.80,788.1 941.10,785.9 941.40,786.5 941.70,786.2 942.00,787.3 942.30,787.2 942.60,787.5 942.90,787.4 943.20,785.7 943.50,786.9 943.80,786.7 944.10,786.5 944.40,787.0 944.70,784.6 945.00,785.6 945.30,785.9 945.60,785.2 945.90,784.7 946.20,786.4 946.50,786.0 946.80,786.3 947.10,783.2 947.40,781.1 947.70,783.0 948.00,780.9 948.30,779.0 948.60,779.1 948.90,777.2 949.20,774.4 949.50,775.3 949.80,774.9 950.10,775.7 950.40,774.8 950.70,775.8 951.00,779.2 951.30,780.8 951.60,780.9 951.90,781.2 952.20,783.8 952.50,784.1 952.80,784.8 953.10,784.7 953.40,784.0 953.70,785.2 954.00,787.2 954.30,785.4 954.60,786.1 954.90,786.2 955.20,787.3 955.50,786.7 955.80,786.1 956.10,788.3 956.40,786.7 956.70,786.9 957.00,786.0 957.30,785.2 957.60,787.1 957.90,786.4 958.20,787.0 958.50,784.6 958.80,788.3 959.10,786.8 959.40,787.5 959.70,785.7 960.00,786.9 960.30,786.9 960.60,787.8 960.90,787.5 961.20,784.8 961.50,786.9 961.80,786.8 962.10,786.3 962.40,786.8 962.70,787.0 963.00,787.3 963.30,785.2 963.60,785.3 963.90,786.0 964.20,786.3 964.50,784.5 964.80,785.1 965.10,783.5 965.40,784.3 965.70,783.7 966.00,783.9 966.30,784.3 966.60,782.0 966.90,783.0 967.00,782.6 967.20,782.9 967.50,784.5 967.80,781.7 968.10,783.1 968.40,781.0 968.70,784.8 969.00,786.9 969.30,784.3 969.60,785.9 969.90,787.1 970.20,785.3 970.50,786.4 970.80,785.6 971.10,786.0 971.40,786.6 971.70,787.5 972.00,786.9 972.30,786.7 972.60,786.6 972.90,787.8 973.20,787.3 973.50,787.2 973.80,785.0 974.10,786.6 974.40,785.7 974.70,788.3 975.00,787.3 975.30,787.9 975.60,785.7 975.90,784.9 976.20,785.4 976.50,786.6 976.80,785.1 977.10,786.2 977.40,786.5 977.70,784.5 978.00,785.4 978.30,782.0 978.60,782.6 978.90,783.0 979.20,783.1 979.30,783.4 979.50,783.1 979.80,784.6 980.10,784.7 980.40,784.7 980.70,783.8 981.00,786.4 981.30,786.0 981.60,784.7 981.90,786.9 982.20,785.9 982.50,786.9 982.80,786.9 983.10,787.2 983.40,788.2 983.70,789.2 984.00,787.3 984.30,787.1 984.60,787.0 984.90,787.5 985.20,787.7 985.50,785.9 985.80,787.2 986.10,789.3 986.40,787.9 986.70,788.2 987.00,787.2 987.30,789.3 987.60,787.8 987.90,786.9 988.20,786.5 988.50,787.7 988.80,788.9 989.10,786.6 989.40,786.3 989.70,785.1 990.00,787.9 990.30,786.2 990.60,786.5 990.90,786.2 991.20,786.4 991.50,788.0 991.80,786.5 992.10,787.4 992.40,786.5 992.70,786.8 993.00,787.8 993.30,787.8 993.60,786.1 993.90,787.2 994.20,786.2 994.50,787.8 994.80,786.5 995.10,786.2 995.40,787.9 995.70,786.5 996.00,787.2 996.30,787.7 996.60,786.5 996.90,786.6 997.20,787.5 997.50,789.0 997.80,787.4 998.10,787.4 998.40,786.7 998.70,786.5 999.00,787.9 999.30,785.6 999.60,785.5 999.90,787.4 1000.20,784.9 1000.50,784.1 1000.80,785.3 1001.10,785.3 1001.40,785.3 1001.70,785.0 1002.00,779.8 1002.30,780.8 1002.60,779.6 1002.90,779.2 1003.20,777.1 1003.50,777.1 1003.80,776.9 1004.00,776.5 1004.10,775.7 1004.40,777.1 1004.70,776.8 1005.00,777.8 1005.30,779.4 1005.60,781.5 1005.90,779.8 1006.20,782.6 1006.50,784.8 1006.80,784.3 1007.10,784.3 1007.40,785.5 1007.70,787.2 1008.00,785.8 1008.30,785.6 1008.60,787.2 1008.90,786.3 1009.20,786.0 1009.50,787.6 1009.80,786.1 1010.10,786.7 1010.40,788.3 1010.70,787.2 1011.00,788.3 1011.30,785.4 1011.60,785.7 1011.90,786.5 1012.20,787.1 1012.50,785.4 1012.80,787.5 1013.10,786.8 1013.40,786.8 1013.70,787.4 1014.00,787.1 1014.30,786.2 1014.60,787.2 1014.90,786.3 1015.20,788.7 1015.50,787.0 1015.80,787.2 1016.10,786.9 1016.40,787.5 1016.70,787.7 1017.00,787.4 1017.30,786.5 1017.60,788.6 1017.90,787.5 1018.20,785.8 1018.50,785.4 1018.80,786.5 1019.10,786.5 1019.40,786.0 1019.70,786.7 1020.00,787.9 1020.30,788.8 1020.60,787.8 1020.90,787.9 1021.20,788.7 1021.50,789.7 1021.80,788.7 1022.10,788.2 1022.40,787.5 1022.70,786.7 1023.00,788.1 1023.30,788.8 1023.60,788.0 1023.90,787.1 1024.20,788.2 1024.50,787.6 1024.80,787.1 1025.10,785.8 1025.40,788.2 1025.70,787.0 1026.00,788.8 1026.30,787.1 1026.60,787.8 1026.90,787.1 1027.20,789.4 1027.50,789.0 1027.80,787.7 1028.10,789.1 1028.40,786.5 1028.70,788.3 1029.00,787.1 1029.30,787.5 1029.60,787.2 1029.90,788.2 1030.20,785.9 1030.50,787.2 1030.80,789.0 1031.10,785.4 1031.40,787.4 1031.70,786.3 1032.00,785.0 1032.30,787.9 1032.60,787.0 1032.90,788.6 1033.20,785.5 1033.50,787.6 1033.80,788.7 1034.10,785.2 1034.40,787.5 1034.70,787.3 1035.00,786.7 1035.30,787.6 1035.60,786.7 1035.90,785.1 1036.20,784.8 1036.50,785.1 1036.80,786.6 1037.10,784.7 1037.40,785.5 1037.70,784.5 1037.80,784.6 1038.00,785.2 1038.30,785.9 1038.60,786.7 1038.90,784.7 1039.20,784.3 1039.50,785.6 1039.80,785.9 1040.10,786.5 1040.40,787.4 1040.70,786.3 1041.00,786.9 1041.30,787.1 1041.60,788.3 1041.90,786.9 1042.20,788.6 1042.50,789.4 1042.80,787.4 1043.10,789.1 1043.40,788.3 1043.70,787.7 1044.00,789.8 1044.30,789.1 1044.60,787.6 1044.90,788.5 1045.20,787.3 1045.50,786.7 1045.80,789.0 1046.10,788.0 1046.40,789.6 1046.70,788.2 1047.00,788.3 1047.30,788.0 1047.60,788.3 1047.90,787.4 1048.20,787.9 1048.50,786.4 1048.80,786.4 1049.10,786.8 1049.40,787.5 1049.70,788.1 1050.00,788.0 1050.30,789.3 1050.60,790.6 1050.90,785.8 1051.20,789.6 1051.50,789.1 1051.80,787.6 1052.10,788.3 1052.40,786.3 1052.70,788.0 1053.00,789.7 1053.30,787.1 1053.60,787.6 1053.90,788.3 1054.20,788.9 1054.50,788.3 1054.80,787.7 1055.10,788.8 1055.40,787.7 1055.70,790.5 1056.00,789.4 1056.30,788.3 1056.60,787.4 1056.90,787.7 1057.20,787.5 1057.50,787.9 1057.80,788.6 1058.10,787.0 1058.40,788.4 1058.70,788.2 1059.00,787.3 1059.30,789.4 1059.60,788.7 1059.90,788.5 1060.20,787.6 1060.50,787.5 1060.80,788.2 1061.10,786.7 1061.40,788.5 1061.70,787.0 1062.00,788.1 1062.30,788.7 1062.60,787.8 1062.90,787.4 1063.20,787.3 1063.50,788.1 1063.80,786.8 1064.10,787.8 1064.40,788.6 1064.70,785.8 1065.00,786.7 1065.30,787.6 1065.60,786.1 1065.90,786.0 1066.20,785.6 1066.50,787.3 1066.80,784.2 1067.10,785.8 1067.40,785.5 1067.70,785.4 1068.00,784.4 1068.30,785.0 1068.60,784.3 1068.90,784.8 1069.20,787.3 1069.50,785.9 1069.80,784.1 1070.10,784.7 1070.40,786.1 1070.70,787.3 1071.00,786.0 1071.30,787.2 1071.60,786.9 1071.90,788.1 1072.20,786.6 1072.50,786.6 1072.80,787.7 1073.10,787.8 1073.40,787.7 1073.70,788.9 1074.00,788.5 1074.30,788.0 1074.60,786.8 1074.90,788.6 1075.20,788.8 1075.50,787.4 1075.80,787.9 1076.10,787.0 1076.40,788.1 1076.70,787.8 1077.00,786.3 1077.30,788.0 1077.60,787.7 1077.90,787.6 1078.20,788.9 1078.50,788.3 1078.80,788.6 1079.10,787.3 1079.40,788.8 1079.70,786.6 1080.00,787.8 1080.30,785.3 1080.60,786.6 1080.90,785.0 1081.20,784.0 1081.50,785.4 1081.80,784.3 1082.10,783.9 1082.40,782.8 1082.70,782.4 1083.00,781.7 1083.30,781.4 1083.40,781.5 1083.60,783.8 1083.90,780.9 1084.20,781.0 1084.50,782.2 1084.80,783.1 1085.10,785.0 1085.40,786.2 1085.70,786.8 1086.00,786.0 1086.30,787.4 1086.60,788.8 1086.90,788.0 1087.20,788.8 1087.50,786.9 1087.80,788.8 1088.10,788.8 1088.40,787.0 1088.70,788.3 1089.00,788.9 1089.30,787.5 1089.60,789.3 1089.90,789.4 1090.20,788.8 1090.50,788.4 1090.80,788.4 1091.10,788.9 1091.40,789.7 1091.70,787.3 1092.00,788.8 1092.30,788.9 1092.60,787.8 1092.90,787.4 1093.20,788.5 1093.50,787.1 1093.80,788.9 1094.10,788.5 1094.40,787.7 1094.70,788.7 1095.00,787.9 1095.30,788.1 1095.60,789.9 1095.90,788.0 1096.20,786.3 1096.50,789.1 1096.80,787.8 1097.10,787.9 1097.40,790.3 1097.70,788.7 1098.00,789.6 1098.30,787.5 1098.60,787.8 1098.90,788.0 1099.20,789.5 1099.50,788.2 1099.80,787.0 1100.10,789.6 1100.40,788.3 1100.70,788.9 1101.00,789.6 1101.30,790.9 1101.60,788.8 1101.90,790.4 1102.20,787.5 1102.50,789.0 1102.80,789.2 1103.10,786.8 1103.40,787.9 1103.70,788.2 1104.00,789.4 1104.30,788.4 1104.60,788.5 1104.90,788.2 1105.20,789.3 1105.50,788.8 1105.80,788.8 1106.10,788.7 1106.40,789.6 1106.70,788.2 1107.00,788.9 1107.30,788.9 1107.60,789.3 1107.90,789.9 1108.20,789.3 1108.50,787.7 1108.80,789.9 1109.10,790.1 1109.40,790.2 1109.70,789.8 1110.00,787.5 1110.30,788.9 1110.60,789.8 1110.90,789.8 1111.20,788.9 1111.50,789.1 1111.80,788.0 1112.10,789.4 1112.40,787.0 1112.70,788.8 1113.00,789.9 1113.30,787.9 1113.60,790.2 1113.90,790.9 1114.20,789.5 1114.50,788.5 1114.80,788.6 1115.10,787.9 1115.40,789.7 1115.70,788.0 1116.00,789.2 1116.30,788.0 1116.60,789.6 1116.90,787.7 1117.20,788.9 1117.50,788.4 1117.80,790.0 1118.10,788.7 1118.40,788.9 1118.70,790.1 1119.00,788.0 1119.30,787.8 1119.60,789.0 1119.90,788.0 1120.20,790.6 1120.50,789.1 1120.80,789.2 1121.10,788.7 1121.40,786.0 1121.70,790.2 1122.00,788.8 1122.30,787.0 1122.60,787.9 1122.90,788.9 1123.20,790.1 1123.50,789.2 1123.80,789.2 1124.10,789.2 1124.40,788.0 1124.70,788.2 1125.00,788.8 1125.30,787.5 1125.60,788.8 1125.90,789.4 1126.20,786.5 1126.50,788.5 1126.80,788.4 1127.10,788.7 1127.40,790.2 1127.70,787.2 1128.00,790.3 1128.30,789.0 1128.60,790.6 1128.90,787.8 1129.20,788.3 1129.50,787.7 1129.80,788.0 1130.10,786.3 1130.40,786.0 1130.70,786.1 1131.00,786.3 1131.30,783.7 1131.60,783.8 1131.90,782.6 1132.20,782.5 1132.50,782.1 1132.80,779.0 1133.10,778.7 1133.40,778.9 1133.60,779.1 1133.70,780.5 1134.00,781.1 1134.30,780.8 1134.60,781.4 1134.90,780.9 1135.20,782.0 1135.50,784.2 1135.80,786.1 1136.10,785.1 1136.40,786.3 1136.70,788.1 1137.00,788.7 1137.30,786.4 1137.60,787.9 1137.90,788.5 1138.20,786.4 1138.50,787.7 1138.80,788.4 1139.10,787.8 1139.40,788.8 1139.70,788.0 1140.00,786.8 1140.30,787.2 1140.60,786.3 1140.90,787.1 1141.20,788.9 1141.50,788.5 1141.80,788.6 1142.10,789.3 1142.40,786.8 1142.70,787.2 1143.00,787.6 1143.30,788.9 1143.60,787.3 1143.90,786.7 1144.20,786.9 1144.50,785.6 1144.80,784.5 1144.90,786.4 1145.10,786.0 1145.40,786.9 1145.70,785.6 1146.00,786.1 1146.30,787.9 1146.60,787.7 1146.90,788.6 1147.20,787.3 1147.50,788.2 1147.80,788.9 1148.10,789.3 1148.40,788.5 1148.70,788.9 1149.00,788.6 1149.30,788.6 1149.60,788.7 1149.90,789.3 1150.20,787.6 1150.50,788.8 1150.80,787.9 1151.10,788.9 1151.40,788.7 1151.70,789.1 1152.00,788.7 1152.30,788.8 1152.60,787.6 1152.90,790.3 1153.20,787.6 1153.50,787.1 1153.80,789.3 1154.10,789.5 1154.40,788.8 1154.70,788.6 1155.00,787.8 1155.30,790.7 1155.60,787.3 1155.90,791.1 1156.20,787.4 1156.50,787.9 1156.80,788.7 1157.10,788.5 1157.40,789.3 1157.70,788.1 1158.00,788.5 1158.30,787.3 1158.60,790.0 1158.90,788.5 1159.20,788.1 1159.50,788.8 1159.80,789.6 1160.10,789.0 1160.40,787.9 1160.70,788.7 1161.00,788.8 1161.30,788.8 1161.60,788.0 1161.90,788.8 1162.20,786.9 1162.50,787.9 1162.80,786.8 1163.10,787.3 1163.40,786.4 1163.70,787.3 1164.00,785.9 1164.30,787.1 1164.60,784.7 1164.90,786.3 1165.20,784.2 1165.50,782.5 1165.80,783.8 1165.90,784.8 1166.10,785.0 1166.40,785.4 1166.70,784.8 1167.00,785.7 1167.30,784.8 1167.60,787.7 1167.90,788.0 1168.20,787.2 1168.50,786.5 1168.80,786.8 1169.10,788.2 1169.40,788.2 1169.70,787.2 1170.00,788.9 1170.30,789.2 1170.60,789.0 1170.90,789.0 1171.20,788.9 1171.50,788.7 1171.80,788.5 1172.10,788.2 1172.40,790.0 1172.70,787.4 1173.00,789.0 1173.30,789.7 1173.60,791.1 1173.90,788.5 1174.20,790.2 1174.50,790.0 1174.80,789.7 1175.10,790.5 1175.40,787.1 1175.70,789.6 1176.00,788.4 1176.30,788.8 1176.60,788.1 1176.90,787.3 1177.20,786.1 1177.50,788.1 1177.80,787.2 1178.10,786.0 1178.40,786.9 1178.70,785.7 1179.00,785.7 1179.30,786.5 1179.60,786.9 1179.90,784.2 1180.00,786.0 1180.20,786.6 1180.50,785.0 1180.80,786.0 1181.10,786.8 1181.40,787.6 1181.70,785.9 1182.00,785.7 1182.30,786.9 1182.60,787.2 1182.90,787.9 1183.20,788.1 1183.50,786.4 1183.80,789.1 1184.10,786.9 1184.40,788.9 1184.70,789.1 1185.00,789.1 1185.30,789.0 1185.60,789.1 1185.90,788.0 1186.20,787.9 1186.50,790.7 1186.80,790.1 1187.10,789.9 1187.40,789.3 1187.70,786.8 1188.00,790.0 1188.30,787.9 1188.60,787.8 1188.90,788.4 1189.20,786.8 1189.50,788.4 1189.80,784.5 1190.10,787.7 1190.40,786.7 1190.70,785.1 1191.00,786.5 1191.30,786.7 1191.60,786.3 1191.70,785.5 1191.90,785.3 1192.20,786.6 1192.50,786.8 1192.80,787.3 1193.10,787.0 1193.40,785.1 1193.70,787.5 1194.00,786.0 1194.30,786.8 1194.60,787.7 1194.90,788.2 1195.20,788.0 1195.50,788.7 1195.80,789.0 1196.10,788.9 1196.40,788.9 1196.70,789.2 1197.00,789.6 1197.30,788.1 1197.60,787.6 1197.90,790.1 1198.20,789.2 1198.50,786.9 1198.80,790.2 1199.10,790.3 1199.40,787.4 1199.70,788.1 1200.00,788.7 1200.30,788.1 1200.60,788.6 1200.90,789.2 1201.20,790.2 1201.50,786.9 1201.80,789.4 1202.10,790.4 1202.40,787.0 1202.70,789.6 1203.00,789.3 1203.30,788.8 1203.60,790.1 1203.90,790.7 1204.20,790.5 1204.50,791.4 1204.80,788.7 1205.10,787.4 1205.40,788.9 1205.70,789.6 1206.00,790.6 1206.30,790.0 1206.60,788.9 1206.90,790.8 1207.20,789.9 1207.50,789.7 1207.80,789.3 1208.10,789.9 1208.40,790.0 1208.70,789.5 1209.00,787.2 1209.30,788.6 1209.60,789.9 1209.90,791.0 1210.20,790.6 1210.50,790.6 1210.80,791.2 1211.10,790.2 1211.40,790.8 1211.70,790.5 1212.00,789.8 1212.30,788.7 1212.60,788.0 1212.90,790.0 1213.20,788.4 1213.50,789.5 1213.80,790.3 1214.10,788.9 1214.40,790.5 1214.70,789.7 1215.00,788.7 1215.30,790.2 1215.60,790.3 1215.90,789.1 1216.20,790.1 1216.50,788.5 1216.80,789.7 1217.10,789.9 1217.40,788.6 1217.70,789.7 1218.00,791.0 1218.30,789.0 1218.60,788.5 1218.90,788.2 1219.20,788.9 1219.50,788.5 1219.80,788.0 1220.10,789.7 1220.40,789.9 1220.70,788.7 1221.00,789.7 1221.30,790.5 1221.60,790.0 1221.90,789.8 1222.20,790.3 1222.50,789.0 1222.80,790.5 1223.10,791.4 1223.40,789.0 1223.70,787.8 1224.00,788.9 1224.30,788.6 1224.60,789.8 1224.90,790.8 1225.20,790.1 1225.50,791.2 1225.80,790.0 1226.10,789.6 1226.40,787.6 1226.70,789.9 1227.00,788.9 1227.30,788.9 1227.60,789.2 1227.90,790.9 1228.20,790.2 1228.50,789.3 1228.80,787.8 1229.10,788.7 1229.40,788.8 1229.70,789.8 1230.00,789.4 1230.30,789.3 1230.60,787.7 1230.90,789.4 1231.20,791.0 1231.50,786.9 1231.80,787.0 1232.10,787.9 1232.40,788.6 1232.70,787.7 1233.00,787.4 1233.30,788.6 1233.60,785.9 1233.90,784.8 1234.20,785.2 1234.50,787.4 1234.80,787.5 1235.00,786.5 1235.10,785.1 1235.40,785.7 1235.70,787.0 1236.00,787.7 1236.30,786.3 1236.60,786.2 1236.90,786.3 1237.20,786.8 1237.50,788.2 1237.80,787.9 1238.10,788.3 1238.40,788.2 1238.70,788.5 1239.00,787.2 1239.30,787.5 1239.60,789.0 1239.90,789.2 1240.20,790.0 1240.50,788.9 1240.80,788.3 1241.10,789.0 1241.40,789.0 1241.70,789.8 1242.00,789.2 1242.30,789.9 1242.60,790.0 1242.90,790.0 1243.20,790.1 1243.50,788.6 1243.80,790.7 1244.10,791.2 1244.40,790.5 1244.70,791.3 1245.00,790.2 1245.30,789.2 1245.60,790.3 1245.90,789.8 1246.20,789.7 1246.50,791.4 1246.80,789.0 1247.10,791.0 1247.40,789.3 1247.70,788.2 1248.00,790.6 1248.30,790.0 1248.60,790.1 1248.90,790.2 1249.20,791.0 1249.50,790.3 1249.80,789.8 1250.10,789.9 1250.40,790.5 1250.70,789.5 1251.00,790.4 1251.30,788.1 1251.60,789.9 1251.90,790.0 1252.20,790.7 1252.50,789.0 1252.80,789.9 1253.10,790.5 1253.40,792.8 1253.70,790.3 1254.00,790.7 1254.30,789.6 1254.60,792.2 1254.90,789.9 1255.20,789.9 1255.50,790.2 1255.80,788.9 1256.10,789.1 1256.40,789.8 1256.70,789.3 1257.00,791.0 1257.30,789.6 1257.60,792.2 1257.90,790.4 1258.20,789.4 1258.50,790.2 1258.80,790.8 1259.10,790.1 1259.40,790.5 1259.70,789.9 1260.00,789.3 1260.30,790.0 1260.60,791.7 1260.90,789.7 1261.20,790.0"/><path d="M234.30,1191.6 234.60,1192.5 234.90,1193.5 235.20,1192.8 235.50,1194.4 235.80,1194.2 236.10,1192.7 236.40,1193.1 236.70,1193.9 237.00,1193.6 237.30,1192.9 237.60,1191.3 237.90,1194.7 238.20,1193.3 238.50,1193.4 238.80,1192.5 239.10,1194.8 239.40,1193.2 239.70,1193.5 240.00,1191.2 240.30,1192.8 240.60,1193.3 240.90,1193.7 241.20,1194.1 241.50,1193.1 241.80,1194.4 242.10,1193.2 242.40,1193.2 242.70,1193.4 243.00,1191.7 243.30,1191.1 243.60,1195.3 243.90,1191.6 244.20,1192.8 244.50,1194.0 244.80,1192.8 245.10,1194.6 245.40,1191.4 245.70,1193.6 246.00,1194.1 246.30,1195.8 246.60,1195.1 246.90,1192.8 247.20,1194.4 247.50,1193.8 247.80,1192.3 248.10,1193.0 248.40,1194.7 248.70,1193.3 249.00,1192.6 249.30,1193.0 249.60,1192.3 249.90,1192.0 250.20,1194.0 250.50,1194.1 250.80,1194.8 251.10,1192.1 251.40,1192.5 251.70,1194.1 252.00,1193.9 252.30,1193.5 252.60,1192.5 252.90,1193.4 253.20,1192.3 253.50,1195.4 253.80,1194.5 254.10,1192.8 254.40,1195.1 254.70,1192.7 255.00,1194.4 255.30,1194.0 255.60,1193.4 255.90,1195.2 256.20,1192.2 256.50,1193.5 256.80,1193.5 257.10,1192.0 257.40,1192.3 257.70,1194.0 258.00,1194.2 258.30,1192.9 258.60,1194.5 258.90,1194.5 259.20,1194.8 259.50,1193.7 259.80,1193.9 260.10,1194.7 260.40,1193.5 260.70,1193.2 261.00,1192.8 261.30,1194.6 261.60,1195.4 261.90,1192.2 262.20,1193.9 262.50,1194.9 262.80,1195.7 263.10,1194.5 263.40,1193.4 263.70,1195.0 264.00,1196.7 264.30,1194.7 264.60,1195.1 264.90,1196.1 265.20,1192.9 265.50,1195.2 265.80,1196.0 266.10,1195.5 266.40,1194.7 266.70,1194.1 267.00,1194.0 267.30,1193.2 267.60,1194.0 267.90,1193.3 268.20,1194.5 268.50,1194.4 268.80,1194.0 269.10,1194.2 269.40,1194.7 269.70,1193.4 270.00,1195.3 270.30,1194.8 270.60,1195.3 270.90,1194.3 271.20,1194.5 271.50,1194.8 271.80,1194.8 272.10,1194.3 272.40,1194.4 272.70,1194.2 273.00,1194.4 273.30,1194.0 273.60,1194.0 273.90,1193.8 274.20,1196.2 274.50,1194.2 274.80,1194.7 275.10,1193.9 275.40,1195.0 275.70,1196.1 276.00,1194.2 276.30,1195.1 276.60,1194.8 276.90,1195.8 277.20,1194.9 277.50,1194.9 277.80,1194.7 278.10,1193.0 278.40,1196.0 278.70,1196.7 279.00,1194.2 279.30,1195.9 279.60,1195.1 279.90,1196.5 280.20,1194.6 280.50,1195.6 280.80,1196.5 281.10,1195.7 281.40,1195.4 281.70,1195.1 282.00,1194.6 282.30,1195.4 282.60,1194.3 282.90,1196.9 283.20,1195.8 283.50,1195.1 283.80,1193.8 284.10,1196.4 284.40,1196.7 284.70,1195.8 285.00,1196.3 285.30,1196.3 285.60,1195.4 285.90,1195.2 286.20,1195.5 286.50,1196.7 286.80,1194.9 287.10,1193.9 287.40,1195.6 287.70,1195.6 288.00,1195.4 288.30,1195.7 288.60,1194.3 288.90,1194.7 289.20,1195.1 289.50,1195.5 289.80,1196.0 290.10,1196.3 290.40,1195.8 290.70,1195.4 291.00,1194.6 291.30,1195.1 291.60,1194.0 291.90,1194.9 292.20,1196.0 292.50,1196.2 292.80,1194.6 293.10,1196.8 293.40,1193.3 293.70,1196.2 294.00,1195.6 294.30,1195.5 294.60,1196.0 294.90,1195.2 295.20,1197.9 295.50,1195.2 295.80,1195.3 296.10,1196.0 296.40,1193.8 296.70,1195.6 297.00,1194.3 297.30,1197.0 297.60,1195.2 297.90,1195.6 298.20,1194.0 298.50,1197.5 298.80,1194.0 299.10,1194.3 299.40,1195.0 299.70,1193.5 300.00,1194.4 300.30,1195.3 300.60,1196.8 300.90,1196.8 301.20,1194.6 301.50,1195.2 301.80,1196.4 302.10,1196.9 302.40,1194.9 302.70,1195.5 303.00,1195.7 303.30,1195.9 303.60,1195.5 303.90,1197.5 304.20,1195.5 304.50,1196.9 304.80,1196.2 305.10,1199.2 305.40,1197.2 305.70,1193.8 306.00,1196.3 306.30,1193.6 306.60,1197.0 306.90,1195.3 307.20,1193.5 307.50,1194.6 307.80,1195.2 308.10,1197.0 308.40,1195.6 308.70,1196.0 309.00,1194.8 309.30,1194.9 309.60,1193.8 309.90,1194.9 310.20,1194.9 310.50,1195.1 310.80,1194.2 311.10,1194.7 311.40,1194.4 311.70,1194.9 312.00,1193.9 312.30,1193.7 312.60,1193.1 312.90,1192.9 313.20,1192.8 313.50,1191.3 313.80,1192.5 314.10,1190.9 314.40,1188.5 314.70,1187.0 315.00,1183.1 315.30,1182.4 315.50,1182.8 315.60,1183.0 315.90,1184.5 316.20,1186.1 316.50,1185.6 316.80,1188.6 317.10,1191.2 317.40,1190.8 317.70,1192.3 318.00,1190.6 318.30,1192.6 318.60,1192.5 318.90,1190.8 319.20,1193.7 319.50,1194.3 319.80,1193.7 320.10,1192.5 320.40,1192.6 320.70,1192.1 321.00,1193.3 321.30,1193.0 321.60,1193.9 321.90,1192.4 322.20,1193.3 322.50,1192.0 322.80,1191.4 323.10,1192.1 323.40,1191.1 323.70,1191.1 324.00,1192.6 324.30,1192.5 324.60,1190.9 324.90,1190.7 325.20,1191.4 325.50,1190.8 325.80,1192.2 326.00,1191.5 326.10,1190.1 326.40,1190.5 326.70,1191.8 327.00,1193.4 327.30,1191.8 327.60,1189.9 327.90,1190.3 328.20,1191.4 328.50,1191.0 328.80,1191.2 329.10,1193.0 329.40,1189.8 329.70,1189.7 330.00,1190.4 330.30,1190.1 330.60,1189.7 330.90,1189.3 331.20,1186.9 331.50,1185.6 331.80,1181.3 332.10,1177.4 332.40,1171.1 332.70,1169.4 332.80,1170.1 333.00,1171.4 333.30,1173.2 333.60,1177.0 333.90,1181.0 334.20,1186.3 334.50,1184.9 334.80,1187.7 335.10,1187.9 335.40,1189.4 335.70,1188.4 336.00,1186.8 336.30,1187.3 336.60,1186.7 336.90,1183.6 337.20,1180.5 337.50,1178.6 337.80,1176.5 338.10,1170.7 338.40,1165.0 338.70,1156.0 339.00,1140.2 339.30,1121.0 339.60,1090.4 339.90,1056.5 340.20,1031.1 340.40,1024.6 340.50,1024.8 340.80,1048.0 341.10,1081.8 341.40,1110.8 341.70,1136.1 342.00,1149.7 342.30,1163.4 342.60,1169.1 342.90,1174.5 343.20,1178.6 343.50,1184.0 343.80,1185.5 344.10,1188.3 344.40,1187.4 344.70,1187.7 345.00,1191.2 345.30,1190.4 345.60,1190.2 345.90,1193.1 346.20,1193.8 346.50,1192.4 346.80,1193.7 347.10,1194.4 347.40,1193.2 347.70,1193.6 348.00,1194.9 348.30,1196.5 348.60,1194.0 348.90,1196.0 349.20,1195.9 349.50,1195.7 349.80,1195.4 350.10,1194.9 350.40,1196.5 350.70,1195.8 351.00,1193.5 351.30,1196.4 351.60,1195.4 351.90,1196.1 352.20,1198.4 352.50,1196.7 352.80,1194.3 353.10,1196.1 353.40,1195.4 353.70,1197.6 354.00,1193.2 354.30,1197.3 354.60,1196.8 354.90,1196.4 355.20,1197.2 355.50,1198.7 355.80,1195.0 356.10,1196.4 356.40,1196.9 356.70,1197.0 357.00,1196.8 357.30,1197.6 357.60,1197.2 357.90,1196.7 358.20,1195.2 358.50,1197.9 358.80,1198.7 359.10,1198.5 359.40,1197.7 359.70,1198.5 360.00,1195.8 360.30,1198.2 360.60,1197.7 360.90,1197.3 361.20,1198.6 361.50,1197.2 361.80,1197.0 362.10,1196.4 362.40,1195.6 362.70,1197.0 363.00,1199.3 363.30,1199.4 363.60,1196.9 363.90,1197.7 364.20,1199.1 364.50,1196.4 364.80,1197.0 365.10,1196.1 365.40,1199.2 365.70,1196.9 366.00,1197.1 366.30,1197.5 366.60,1196.6 366.90,1200.2 367.20,1198.7 367.50,1199.7 367.80,1195.3 368.10,1198.2 368.40,1197.2 368.70,1196.2 369.00,1197.4 369.30,1198.9 369.60,1198.4 369.90,1196.5 370.20,1200.5 370.50,1197.7 370.80,1195.1 371.10,1194.3 371.40,1193.2 371.70,1192.1 372.00,1189.5 372.30,1187.2 372.60,1187.6 372.70,1186.3 372.90,1187.0 373.20,1187.9 373.50,1190.6 373.80,1194.1 374.10,1194.5 374.40,1196.4 374.70,1196.2 375.00,1198.0 375.30,1197.0 375.60,1198.4 375.90,1196.0 376.20,1198.6 376.50,1198.0 376.80,1196.6 377.10,1196.9 377.40,1195.6 377.70,1197.4 378.00,1197.9 378.30,1197.2 378.60,1198.8 378.90,1195.5 379.20,1197.5 379.50,1196.4 379.80,1197.2 380.10,1198.6 380.40,1197.7 380.70,1199.3 381.00,1197.3 381.30,1197.0 381.60,1197.4 381.90,1196.1 382.20,1196.8 382.50,1197.6 382.80,1198.6 383.10,1196.6 383.40,1196.6 383.70,1195.9 384.00,1196.1 384.30,1197.4 384.60,1197.5 384.90,1197.8 385.20,1197.1 385.50,1198.5 385.80,1195.5 386.10,1197.3 386.40,1197.9 386.70,1196.9 387.00,1197.6 387.30,1196.9 387.60,1196.7 387.90,1197.2 388.20,1196.3 388.50,1196.9 388.80,1197.5 389.10,1195.6 389.40,1197.4 389.70,1197.8 390.00,1198.2 390.30,1196.0 390.60,1197.4 390.90,1194.2 391.20,1194.5 391.50,1195.9 391.80,1194.4 392.10,1194.4 392.40,1194.1 392.70,1194.6 393.00,1194.0 393.30,1193.3 393.60,1193.9 393.90,1193.0 394.20,1193.1 394.50,1192.9 394.80,1192.6 395.10,1191.1 395.40,1190.1 395.70,1189.2 396.00,1187.4 396.30,1187.7 396.60,1185.6 396.90,1184.9 397.20,1181.8 397.50,1178.0 397.80,1175.6 398.10,1169.5 398.40,1163.1 398.70,1154.2 399.00,1140.2 399.30,1119.0 399.60,1091.2 399.90,1049.7 400.20,996.3 400.50,939.4 400.80,903.0 400.90,899.9 401.10,912.2 401.40,955.3 401.70,1014.1 402.00,1063.5 402.30,1101.9 402.60,1127.5 402.90,1145.6 403.20,1156.0 403.50,1166.9 403.80,1172.6 404.10,1174.1 404.40,1179.9 404.70,1180.4 405.00,1184.0 405.30,1186.9 405.60,1187.9 405.90,1187.7 406.20,1189.5 406.50,1192.1 406.80,1191.9 407.10,1193.2 407.40,1191.2 407.70,1194.0 408.00,1194.1 408.30,1193.3 408.60,1196.1 408.90,1194.9 409.20,1196.1 409.50,1195.0 409.80,1196.1 410.10,1196.4 410.40,1196.0 410.70,1196.3 411.00,1196.7 411.30,1196.4 411.60,1195.3 411.90,1197.1 412.20,1196.7 412.50,1197.1 412.80,1196.1 413.10,1198.5 413.40,1197.9 413.70,1198.4 414.00,1198.9 414.30,1197.9 414.60,1196.5 414.90,1195.4 415.20,1197.6 415.50,1196.4 415.80,1196.6 416.10,1196.6 416.40,1194.4 416.70,1192.9 417.00,1193.5 417.30,1191.9 417.60,1190.8 417.90,1191.5 418.20,1191.0 418.50,1191.7 418.80,1190.7 419.10,1192.4 419.40,1193.1 419.70,1194.2 420.00,1194.4 420.30,1196.4 420.60,1194.9 420.90,1197.3 421.20,1198.3 421.50,1197.5 421.80,1197.9 422.10,1197.2 422.40,1198.4 422.70,1198.7 423.00,1198.5 423.30,1198.8 423.60,1199.1 423.90,1198.8 424.20,1196.8 424.50,1197.5 424.80,1198.6 425.10,1200.9 425.40,1199.9 425.70,1198.8 426.00,1198.7 426.30,1198.5 426.60,1199.5 426.90,1198.6 427.20,1199.0 427.50,1198.1 427.80,1198.6 428.10,1198.1 428.40,1198.3 428.70,1198.7 429.00,1200.3 429.30,1199.5 429.60,1200.2 429.90,1198.7 430.20,1199.5 430.50,1198.6 430.80,1199.0 431.10,1199.1 431.40,1197.6 431.70,1199.3 432.00,1198.1 432.30,1199.8 432.60,1198.7 432.90,1197.8 433.20,1198.1 433.50,1198.5 433.80,1200.8 434.10,1198.1 434.40,1199.0 434.70,1199.5 435.00,1199.2 435.30,1199.3 435.60,1200.1 435.90,1198.7 436.20,1201.2 436.50,1200.8 436.80,1199.6 437.10,1200.8 437.40,1199.6 437.70,1199.0 438.00,1198.3 438.30,1198.8 438.60,1200.0 438.90,1199.8 439.20,1201.1 439.50,1201.0 439.80,1200.4 440.10,1199.6 440.40,1201.2 440.70,1199.4 441.00,1197.1 441.30,1199.2 441.60,1199.9 441.90,1200.0 442.20,1200.0 442.50,1200.2 442.80,1196.8 443.10,1201.6 443.40,1199.8 443.70,1199.2 444.00,1197.1 444.30,1199.6 444.60,1197.6 444.90,1196.3 445.20,1198.6 445.50,1198.2 445.80,1197.1 446.10,1195.9 446.40,1196.8 446.70,1196.2 447.00,1196.3 447.10,1196.0 447.30,1194.5 447.60,1196.6 447.90,1195.3 448.20,1197.4 448.50,1197.0 448.80,1197.3 449.10,1199.8 449.40,1198.7 449.70,1198.9 450.00,1199.7 450.30,1201.3 450.60,1196.3 450.90,1199.8 451.20,1199.4 451.50,1200.6 451.80,1199.5 452.10,1199.5 452.40,1200.2 452.70,1199.5 453.00,1198.7 453.30,1199.6 453.60,1201.5 453.90,1200.2 454.20,1197.3 454.50,1199.5 454.80,1198.7 455.10,1200.6 455.40,1198.5 455.70,1199.6 456.00,1200.2 456.30,1200.5 456.60,1199.0 456.90,1199.9 457.20,1201.9 457.50,1198.9 457.80,1199.6 458.10,1198.7 458.40,1199.4 458.70,1200.0 459.00,1199.6 459.30,1200.2 459.60,1198.2 459.90,1199.6 460.20,1199.1 460.50,1196.5 460.80,1200.5 461.10,1199.4 461.40,1198.6 461.70,1200.3 462.00,1199.7 462.30,1196.7 462.60,1199.5 462.90,1201.4 463.20,1199.1 463.50,1199.6 463.80,1196.9 464.10,1196.8 464.40,1196.8 464.70,1199.2 465.00,1198.9 465.30,1195.2 465.60,1198.5 465.90,1195.1 466.20,1195.6 466.50,1196.6 466.80,1195.7 467.10,1196.1 467.40,1196.0 467.70,1196.6 468.00,1194.6 468.30,1194.0 468.60,1193.5 468.90,1196.4 469.20,1194.6 469.50,1194.3 469.80,1193.2 470.10,1192.5 470.40,1193.3 470.70,1191.3 471.00,1191.0 471.30,1189.0 471.60,1192.9 471.90,1188.7 472.20,1188.6 472.50,1188.6 472.80,1189.2 473.10,1186.1 473.40,1186.0 473.70,1185.2 474.00,1181.7 474.30,1180.7 474.60,1178.4 474.90,1172.9 475.20,1166.1 475.50,1157.1 475.80,1143.0 476.10,1124.1 476.40,1099.9 476.70,1073.3 477.00,1045.4 477.30,1036.2 477.60,1047.5 477.90,1072.7 478.20,1099.2 478.50,1121.9 478.80,1139.2 479.10,1154.5 479.40,1163.2 479.70,1169.6 480.00,1173.9 480.30,1176.5 480.60,1177.6 480.90,1179.5 481.20,1179.8 481.50,1177.7 481.80,1176.4 482.10,1174.6 482.40,1171.9 482.70,1167.4 483.00,1158.9 483.30,1152.3 483.60,1149.0 483.80,1148.2 483.90,1147.6 484.20,1149.1 484.50,1159.5 484.80,1166.3 485.10,1174.1 485.40,1179.3 485.70,1184.8 486.00,1189.1 486.30,1190.2 486.60,1192.8 486.90,1195.6 487.20,1196.8 487.50,1194.8 487.80,1198.1 488.10,1199.1 488.40,1198.6 488.70,1199.0 489.00,1199.0 489.30,1199.5 489.60,1198.8 489.90,1200.9 490.20,1199.7 490.50,1198.4 490.80,1200.6 491.10,1201.2 491.40,1200.8 491.70,1199.4 492.00,1201.2 492.30,1197.6 492.60,1202.5 492.90,1201.4 493.20,1199.0 493.50,1198.8 493.80,1203.6 494.10,1201.4 494.40,1200.4 494.70,1201.6 495.00,1201.1 495.30,1201.2 495.60,1201.8 495.90,1201.8 496.20,1200.4 496.50,1201.9 496.80,1201.8 497.10,1200.6 497.40,1202.7 497.70,1202.2 498.00,1200.6 498.30,1203.6 498.60,1202.3 498.90,1203.2 499.20,1201.0 499.50,1201.3 499.80,1201.9 500.10,1201.1 500.40,1201.4 500.70,1200.1 501.00,1203.6 501.30,1201.9 501.60,1202.5 501.90,1202.7 502.20,1200.5 502.50,1202.3 502.80,1197.3 503.10,1198.9 503.40,1198.2 503.70,1198.3 504.00,1196.8 504.30,1198.0 504.60,1200.2 504.90,1198.6 505.20,1199.5 505.50,1197.0 505.80,1199.0 506.10,1200.7 506.40,1200.0 506.70,1201.3 507.00,1200.9 507.30,1201.9 507.60,1200.2 507.90,1202.4 508.20,1203.4 508.50,1202.7 508.80,1204.3 509.10,1202.0 509.40,1203.1 509.70,1200.8 510.00,1203.2 510.30,1202.8 510.60,1202.0 510.90,1203.5 511.20,1201.1 511.50,1202.0 511.80,1202.6 512.10,1201.2 512.40,1201.2 512.70,1203.3 513.00,1201.9 513.30,1201.1 513.60,1201.7 513.90,1201.6 514.20,1201.4 514.50,1202.5 514.80,1201.0 515.10,1200.5 515.40,1202.0 515.70,1201.8 516.00,1203.1 516.30,1200.4 516.60,1201.0 516.90,1202.5 517.20,1201.6 517.50,1200.4 517.80,1199.8 518.10,1200.8 518.40,1199.3 518.70,1197.4 519.00,1196.4 519.30,1194.8 519.60,1194.1 519.90,1188.2 520.20,1188.1 520.50,1188.3 520.80,1186.5 521.10,1186.8 521.40,1189.6 521.70,1189.5 522.00,1192.6 522.30,1194.3 522.60,1197.1 522.90,1197.6 523.20,1198.2 523.50,1200.2 523.80,1200.8 524.10,1202.2 524.40,1200.9 524.70,1201.3 525.00,1201.0 525.30,1203.0 525.60,1203.1 525.90,1201.1 526.20,1199.8 526.50,1204.1 526.80,1200.2 527.10,1200.4 527.40,1201.7 527.70,1204.2 528.00,1203.5 528.30,1202.1 528.60,1203.1 528.90,1202.2 529.20,1203.5 529.50,1201.9 529.80,1204.1 530.10,1203.0 530.40,1201.9 530.70,1200.7 531.00,1203.7 531.30,1203.0 531.60,1201.5 531.90,1201.5 532.20,1202.0 532.50,1202.1 532.80,1202.3 533.10,1202.5 533.40,1202.5 533.70,1201.9 534.00,1204.7 534.30,1202.2 534.60,1201.8 534.90,1203.1 535.20,1201.6 535.50,1203.0 535.80,1202.7 536.10,1203.6 536.40,1201.5 536.70,1200.6 537.00,1203.8 537.30,1202.4 537.60,1204.4 537.90,1203.3 538.20,1202.1 538.50,1202.9 538.80,1201.4 539.10,1201.6 539.40,1202.6 539.70,1202.7 540.00,1200.8 540.30,1203.4 540.60,1203.1 540.90,1203.7 541.20,1201.1 541.50,1203.2 541.80,1202.0 542.10,1202.1 542.40,1203.7 542.70,1202.7 543.00,1203.2 543.30,1203.5 543.60,1203.8 543.90,1201.7 544.20,1201.6 544.50,1203.0 544.80,1203.2 545.10,1201.9 545.40,1203.1 545.70,1201.7 546.00,1202.4 546.30,1202.5 546.60,1202.9 546.90,1203.4 547.20,1202.3 547.50,1202.8 547.80,1201.8 548.10,1203.5 548.40,1203.3 548.70,1202.2 549.00,1204.7 549.30,1202.7 549.60,1202.5 549.90,1202.3 550.20,1203.2 550.50,1202.9 550.80,1202.1 551.10,1203.3 551.40,1203.8 551.70,1204.3 552.00,1203.4 552.30,1202.5 552.60,1202.0 552.90,1203.4 553.20,1204.1 553.50,1205.1 553.80,1202.5 554.10,1201.7 554.40,1201.8 554.70,1203.2 555.00,1203.5 555.30,1202.0 555.60,1201.6 555.90,1200.8 556.20,1203.4 556.50,1201.1 556.80,1203.2 557.10,1202.4 557.40,1200.6 557.70,1201.4 558.00,1203.5 558.30,1202.5 558.60,1202.3 558.90,1203.7 559.20,1202.4 559.50,1202.5 559.80,1202.5 560.10,1202.5 560.40,1203.5 560.70,1201.8 561.00,1203.4 561.30,1203.9 561.60,1201.7 561.90,1202.7 562.20,1201.0 562.50,1202.3 562.80,1203.4 563.10,1203.1 563.40,1201.7 563.70,1202.6 564.00,1202.5 564.30,1202.0 564.60,1202.0 564.90,1203.8 565.20,1199.1 565.50,1201.1 565.80,1202.5 566.10,1201.4 566.40,1201.8 566.70,1201.6 567.00,1201.0 567.30,1201.1 567.60,1200.2 567.90,1200.8 568.20,1201.4 568.50,1201.5 568.80,1200.7 569.10,1199.7 569.40,1199.3 569.70,1197.6 570.00,1198.8 570.30,1197.5 570.60,1197.2 570.90,1196.8 571.20,1196.3 571.50,1195.2 571.80,1193.5 572.10,1190.3 572.40,1188.3 572.70,1186.1 573.00,1181.2 573.30,1176.7 573.60,1170.5 573.90,1165.4 574.20,1158.6 574.50,1152.6 574.80,1143.5 575.10,1140.5 575.40,1138.0 575.70,1140.4 576.00,1144.4 576.30,1149.6 576.60,1158.4 576.90,1164.1 577.20,1168.9 577.50,1177.8 577.80,1181.4 578.10,1186.3 578.40,1188.2 578.70,1190.7 579.00,1192.3 579.30,1194.0 579.60,1197.0 579.90,1197.7 580.20,1196.2 580.50,1198.5 580.80,1199.0 581.10,1198.5 581.40,1199.9 581.70,1199.1 582.00,1201.1 582.30,1200.0 582.60,1200.7 582.90,1197.2 583.20,1200.3 583.50,1200.9 583.80,1200.4 584.10,1200.9 584.40,1200.2 584.70,1202.2 585.00,1200.3 585.30,1201.1 585.60,1202.9 585.90,1202.7 586.20,1201.6 586.50,1200.3 586.80,1199.7 587.10,1202.1 587.40,1202.0 587.70,1201.5 588.00,1201.5 588.30,1204.0 588.60,1202.8 588.90,1201.9 589.20,1201.7 589.50,1201.6 589.80,1202.3 590.10,1201.7 590.40,1202.1 590.70,1201.6 591.00,1202.8 591.30,1202.3 591.60,1200.9 591.90,1205.0 592.20,1202.4 592.50,1201.6 592.80,1200.8 593.10,1202.2 593.40,1201.5 593.70,1203.8 594.00,1202.6 594.30,1201.5 594.60,1200.3 594.90,1202.9 595.20,1200.3 595.50,1202.5 595.80,1202.2 596.10,1199.2 596.40,1201.7 596.70,1203.7 597.00,1201.0 597.30,1199.6 597.60,1200.2 597.90,1201.8 598.20,1202.1 598.50,1202.7 598.80,1202.1 599.10,1200.8 599.40,1201.2 599.70,1201.4 600.00,1201.4 600.30,1200.2 600.60,1202.1 600.90,1202.5 601.20,1201.1 601.50,1201.3 601.80,1199.7 602.10,1201.0 602.40,1199.8 602.70,1199.4 603.00,1200.7 603.30,1199.4 603.60,1198.0 603.90,1195.9 604.20,1196.3 604.50,1196.5 604.80,1193.4 605.10,1191.5 605.40,1190.6 605.70,1189.9 606.00,1187.3 606.20,1186.5 606.30,1186.8 606.60,1187.8 606.90,1189.2 607.20,1191.7 607.50,1191.9 607.80,1194.5 608.10,1196.0 608.40,1196.9 608.70,1197.4 609.00,1199.7 609.30,1199.0 609.60,1198.3 609.90,1200.9 610.20,1198.9 610.50,1201.3 610.80,1198.1 611.10,1200.8 611.40,1202.7 611.70,1200.6 612.00,1202.1 612.30,1200.5 612.60,1200.1 612.90,1200.6 613.20,1201.8 613.50,1202.1 613.80,1202.2 614.10,1201.6 614.40,1200.6 614.70,1198.4 615.00,1199.6 615.30,1201.9 615.60,1198.5 615.90,1200.5 616.20,1200.3 616.50,1198.0 616.80,1199.9 617.10,1198.9 617.40,1199.3 617.70,1198.7 618.00,1198.4 618.30,1197.4 618.60,1196.0 618.90,1199.6 619.20,1196.6 619.50,1196.9 619.80,1196.4 620.10,1196.2 620.40,1195.4 620.70,1196.4 621.00,1195.5 621.30,1194.7 621.60,1194.2 621.90,1195.0 622.20,1193.3 622.50,1194.5 622.80,1195.1 623.10,1194.6 623.40,1193.9 623.70,1191.4 624.00,1193.0 624.30,1193.3 624.60,1194.4 624.90,1192.4 625.20,1192.5 625.50,1194.6 625.80,1192.3 626.10,1194.4 626.40,1193.5 626.70,1190.6 627.00,1192.6 627.30,1192.5 627.60,1191.3 627.90,1190.3 628.20,1191.8 628.50,1189.9 628.80,1189.3 629.10,1187.7 629.40,1187.0 629.70,1186.0 630.00,1184.5 630.30,1182.2 630.60,1179.3 630.90,1177.9 631.20,1177.5 631.50,1176.3 631.80,1176.5 632.10,1176.2 632.40,1179.2 632.70,1181.0 633.00,1181.2 633.30,1183.9 633.60,1182.4 633.90,1182.4 634.20,1181.1 634.50,1179.6 634.80,1172.5 635.10,1169.0 635.40,1163.2 635.70,1156.3 636.00,1153.0 636.30,1150.3 636.60,1151.3 636.90,1156.3 637.20,1163.6 637.50,1170.0 637.80,1177.9 638.10,1182.6 638.40,1185.2 638.70,1191.6 639.00,1192.5 639.30,1192.1 639.60,1193.1 639.90,1195.9 640.20,1197.8 640.50,1196.4 640.80,1198.1 641.10,1198.9 641.40,1198.0 641.70,1196.8 642.00,1195.5 642.30,1195.6 642.60,1196.8 642.90,1194.0 643.20,1191.1 643.50,1189.3 643.80,1187.0 644.10,1186.0 644.40,1182.9 644.50,1183.4 644.70,1184.1 645.00,1186.1 645.30,1187.2 645.60,1191.4 645.90,1193.6 646.20,1195.9 646.50,1195.8 646.80,1197.7 647.10,1196.5 647.40,1197.4 647.70,1201.2 648.00,1198.5 648.30,1198.2 648.60,1200.0 648.90,1198.9 649.20,1201.8 649.50,1199.0 649.80,1199.5 650.10,1198.1 650.40,1199.1 650.70,1197.2 651.00,1199.0 651.30,1194.1 651.60,1193.8 651.90,1192.4 652.20,1189.1 652.50,1188.9 652.60,1189.4 652.80,1187.9 653.10,1191.0 653.40,1189.2 653.70,1192.5 654.00,1194.2 654.30,1196.9 654.60,1197.4 654.90,1199.4 655.20,1200.1 655.50,1199.3 655.80,1198.3 656.10,1200.3 656.40,1198.8 656.70,1199.4 657.00,1199.8 657.30,1201.4 657.60,1202.7 657.90,1201.2 658.20,1199.4 658.50,1200.9 658.80,1201.2 659.10,1198.9 659.40,1199.9 659.70,1199.0 660.00,1199.0 660.30,1199.6 660.60,1199.5 660.90,1198.4 661.20,1198.9 661.50,1197.1 661.80,1197.7 662.10,1197.1 662.40,1195.3 662.70,1192.7 663.00,1191.8 663.30,1191.3 663.60,1190.3 663.90,1189.4 664.00,1188.3 664.20,1190.4 664.50,1189.2 664.80,1192.6 665.10,1192.3 665.40,1196.6 665.70,1197.1 666.00,1196.0 666.30,1198.5 666.60,1199.3 666.90,1197.8 667.20,1199.2 667.50,1199.9 667.80,1201.0 668.10,1198.5 668.40,1200.8 668.70,1198.0 669.00,1198.2 669.30,1200.5 669.60,1199.8 669.90,1198.1 670.20,1200.4 670.50,1199.2 670.80,1198.8 671.10,1198.1 671.40,1195.5 671.70,1198.1 672.00,1198.9 672.30,1197.6 672.60,1198.2 672.90,1197.1 673.20,1198.4 673.50,1193.6 673.80,1196.8 674.10,1195.0 674.40,1195.9 674.70,1196.0 675.00,1196.2 675.30,1195.5 675.60,1195.5 675.90,1192.8 676.20,1193.6 676.50,1190.8 676.80,1193.1 677.10,1190.7 677.40,1193.2 677.70,1192.0 678.00,1191.3 678.30,1190.7 678.60,1191.4 678.90,1190.4 679.20,1189.5 679.30,1191.0 679.50,1190.1 679.80,1191.6 680.10,1190.2 680.40,1190.1 680.70,1193.9 681.00,1192.4 681.30,1193.3 681.60,1192.1 681.90,1192.7 682.20,1193.0 682.50,1195.5 682.80,1194.5 683.10,1194.2 683.40,1194.4 683.70,1194.9 684.00,1196.2 684.30,1195.5 684.60,1195.8 684.90,1197.5 685.20,1197.4 685.50,1197.5 685.80,1199.0 686.10,1197.0 686.40,1196.1 686.70,1195.8 687.00,1197.6 687.30,1198.1 687.60,1199.0 687.90,1196.6 688.20,1196.8 688.50,1198.1 688.80,1198.1 689.10,1197.0 689.40,1198.4 689.70,1199.4 690.00,1198.4 690.30,1201.2 690.60,1199.5 690.90,1197.9 691.20,1198.5 691.50,1197.3 691.80,1201.1 692.10,1198.5 692.40,1198.4 692.70,1199.5 693.00,1198.4 693.30,1198.0 693.60,1198.6 693.90,1199.7 694.20,1199.7 694.50,1197.1 694.80,1196.8 695.10,1198.9 695.40,1198.0 695.70,1197.8 696.00,1199.4 696.30,1198.6 696.60,1197.5 696.90,1198.6 697.20,1197.1 697.50,1197.2 697.80,1199.7 698.10,1197.3 698.40,1198.0 698.70,1197.0 699.00,1196.8 699.30,1195.7 699.60,1195.5 699.90,1197.9 700.20,1198.6 700.50,1196.8 700.80,1196.4 701.10,1195.0 701.40,1195.2 701.70,1196.5 702.00,1197.4 702.30,1195.0 702.60,1194.3 702.90,1194.6 703.20,1193.1 703.50,1191.7 703.80,1191.1 704.10,1191.2 704.40,1190.5 704.70,1187.8 705.00,1187.7 705.30,1189.8 705.60,1189.2 705.90,1188.2 706.00,1187.0 706.20,1185.7 706.50,1185.3 706.80,1184.5 707.10,1182.2 707.40,1182.3 707.70,1178.5 708.00,1174.5 708.30,1175.0 708.60,1172.0 708.90,1166.9 709.20,1163.5 709.50,1158.1 709.80,1147.4 710.10,1142.7 710.40,1131.9 710.70,1123.6 711.00,1111.7 711.30,1100.2 711.60,1087.0 711.90,1075.8 712.20,1068.7 712.50,1067.0 712.60,1064.1 712.80,1064.2 713.10,1070.9 713.40,1080.0 713.70,1093.1 714.00,1104.3 714.30,1115.9 714.60,1127.7 714.90,1136.8 715.20,1146.9 715.50,1152.9 715.80,1160.0 716.10,1166.2 716.40,1169.1 716.70,1173.0 717.00,1176.8 717.30,1181.8 717.60,1183.4 717.90,1184.5 718.20,1187.2 718.50,1188.4 718.80,1188.0 719.10,1188.6 719.40,1192.0 719.70,1190.8 720.00,1192.9 720.30,1191.3 720.60,1193.4 720.90,1192.7 721.20,1195.3 721.50,1195.8 721.80,1195.8 722.10,1196.6 722.40,1195.6 722.70,1196.9 723.00,1197.4 723.30,1196.1 723.60,1197.9 723.90,1197.8 724.20,1198.2 724.50,1197.7 724.80,1198.1 725.10,1198.8 725.40,1198.6 725.70,1199.3 726.00,1197.4 726.30,1200.0 726.60,1198.2 726.90,1200.3 727.20,1197.8 727.50,1198.8 727.80,1199.9 728.10,1200.1 728.40,1199.3 728.70,1198.9 729.00,1200.6 729.30,1201.2 729.60,1199.2 729.90,1199.0 730.20,1199.7 730.50,1200.3 730.80,1198.6 731.10,1199.5 731.40,1201.3 731.70,1199.8 732.00,1199.9 732.30,1202.4 732.60,1202.0 732.90,1202.7 733.20,1201.0 733.50,1200.9 733.80,1200.7 734.10,1199.6 734.40,1199.0 734.70,1201.2 735.00,1200.5 735.30,1202.1 735.60,1202.5 735.90,1199.8 736.20,1200.0 736.50,1201.8 736.80,1203.1 737.10,1203.3 737.40,1200.9 737.70,1201.8 738.00,1203.3 738.30,1201.0 738.60,1200.8 738.90,1203.3 739.20,1201.1 739.50,1200.6 739.80,1203.6 740.10,1201.5 740.40,1201.6 740.70,1202.6 741.00,1203.6 741.30,1202.9 741.60,1202.3 741.90,1202.6 742.20,1202.6 742.50,1202.4 742.80,1200.3 743.10,1202.5 743.40,1200.7 743.70,1201.4 744.00,1202.3 744.30,1202.1 744.60,1202.6 744.90,1202.2 745.20,1202.7 745.50,1204.2 745.80,1201.1 746.10,1203.4 746.40,1204.2 746.70,1201.8 747.00,1201.9 747.30,1202.1 747.60,1202.7 747.90,1201.5 748.20,1201.8 748.50,1202.2 748.80,1202.3 749.10,1203.7 749.40,1201.7 749.70,1203.1 750.00,1203.1 750.30,1202.4 750.60,1202.4 750.90,1201.3 751.20,1201.4 751.50,1202.6 751.80,1202.4 752.10,1201.9 752.40,1203.4 752.70,1202.3 753.00,1202.2 753.30,1202.0 753.60,1203.3 753.90,1202.7 754.20,1202.4 754.50,1200.7 754.80,1203.8 755.10,1200.5 755.40,1202.4 755.70,1200.7 756.00,1200.2 756.30,1198.4 756.60,1201.9 756.90,1201.9 757.20,1201.1 757.50,1200.9 757.80,1199.8 758.10,1201.0 758.40,1200.5 758.70,1198.9 759.00,1199.7 759.30,1199.4 759.60,1198.2 759.90,1200.2 760.20,1197.2 760.50,1200.4 760.80,1199.3 761.10,1198.0 761.40,1199.8 761.70,1199.4 762.00,1199.9 762.30,1199.1 762.60,1198.2 762.90,1197.4 763.20,1200.3 763.50,1200.1 763.80,1199.9 764.10,1202.9 764.40,1201.4 764.70,1199.4 765.00,1201.0 765.30,1201.7 765.60,1199.9 765.90,1201.5 766.20,1200.9 766.50,1199.7 766.80,1201.7 767.10,1202.0 767.40,1198.5 767.70,1201.7 768.00,1200.6 768.30,1200.8 768.60,1199.4 768.90,1200.1 769.20,1202.9 769.50,1201.8 769.80,1200.8 770.10,1201.0 770.40,1200.0 770.70,1200.7 771.00,1199.8 771.30,1200.9 771.60,1199.4 771.90,1200.7 772.20,1201.2 772.50,1200.0 772.80,1200.4 773.10,1200.4 773.40,1199.4 773.70,1198.3 774.00,1200.7 774.30,1199.5 774.60,1198.9 774.90,1200.3 775.20,1197.8 775.50,1197.9 775.80,1197.3 776.10,1196.6 776.40,1197.1 776.70,1196.1 777.00,1197.7 777.30,1194.9 777.60,1196.2 777.90,1193.0 778.20,1192.5 778.50,1191.6 778.80,1188.9 779.10,1188.4 779.40,1184.5 779.70,1181.1 780.00,1178.5 780.30,1172.2 780.60,1168.2 780.90,1162.7 781.20,1156.5 781.50,1152.1 781.80,1147.3 781.90,1147.3 782.10,1147.0 782.40,1148.3 782.70,1154.0 783.00,1161.0 783.30,1162.5 783.60,1169.5 783.90,1169.5 784.20,1174.6 784.50,1176.1 784.80,1176.6 785.10,1175.6 785.40,1179.3 785.70,1179.6 786.00,1179.0 786.30,1179.9 786.60,1177.7 786.90,1179.9 787.20,1177.7 787.50,1174.5 787.80,1175.5 788.10,1170.5 788.40,1167.6 788.70,1163.9 789.00,1157.6 789.30,1153.2 789.60,1150.4 789.90,1147.9 790.00,1149.1 790.20,1151.6 790.50,1152.6 790.80,1159.0 791.10,1164.1 791.40,1171.2 791.70,1174.2 792.00,1178.6 792.30,1183.2 792.60,1188.4 792.90,1187.6 793.20,1188.7 793.50,1191.0 793.80,1194.0 794.10,1195.2 794.40,1195.0 794.70,1196.0 795.00,1194.8 795.30,1197.2 795.60,1197.1 795.90,1197.0 796.20,1199.1 796.50,1199.4 796.80,1198.1 797.10,1199.1 797.40,1197.0 797.70,1198.1 798.00,1200.8 798.30,1198.4 798.60,1198.7 798.90,1201.0 799.20,1197.5 799.50,1199.3 799.80,1200.9 800.10,1199.7 800.40,1199.3 800.70,1199.2 801.00,1200.6 801.30,1199.4 801.60,1200.7 801.90,1200.2 802.20,1200.4 802.50,1201.5 802.80,1199.8 803.10,1199.2 803.40,1200.1 803.70,1200.3 804.00,1199.8 804.30,1198.2 804.60,1200.6 804.70,1200.0 804.90,1197.9 805.20,1201.0 805.50,1201.8 805.80,1200.0 806.10,1199.6 806.40,1202.0 806.70,1199.3 807.00,1200.8 807.30,1200.3 807.60,1201.6 807.90,1201.4 808.20,1200.3 808.50,1202.4 808.80,1202.0 809.10,1201.3 809.40,1201.0 809.70,1201.2 810.00,1200.0 810.30,1201.1 810.60,1201.1 810.90,1201.9 811.20,1201.2 811.50,1201.0 811.80,1201.6 812.10,1202.4 812.40,1202.0 812.70,1201.2 813.00,1200.9 813.30,1202.8 813.60,1201.4 813.90,1200.1 814.20,1201.5 814.50,1199.4 814.80,1200.7 815.10,1201.9 815.40,1201.0 815.70,1200.8 816.00,1201.9 816.30,1202.2 816.60,1199.9 816.90,1199.6 817.20,1199.9 817.50,1199.3 817.80,1200.8 818.10,1200.9 818.40,1199.7 818.70,1198.4 819.00,1197.5 819.30,1198.5 819.60,1197.3 819.90,1198.1 820.20,1195.7 820.50,1195.8 820.80,1195.3 821.10,1196.1 821.40,1195.3 821.70,1194.4 822.00,1193.8 822.30,1194.1 822.40,1193.4 822.60,1194.4 822.90,1193.4 823.20,1195.7 823.50,1195.6 823.80,1196.5 824.10,1195.2 824.40,1199.7 824.70,1197.9 825.00,1198.2 825.30,1197.8 825.60,1199.3 825.90,1197.1 826.20,1201.1 826.50,1200.5 826.80,1200.2 827.10,1201.9 827.40,1201.3 827.70,1201.3 828.00,1200.5 828.30,1201.4 828.60,1200.0 828.90,1200.1 829.20,1201.5 829.50,1200.7 829.80,1200.0 830.10,1201.3 830.40,1199.6 830.70,1203.1 831.00,1200.6 831.30,1200.6 831.60,1203.2 831.90,1200.0 832.20,1199.3 832.50,1201.6 832.80,1201.3 833.10,1202.7 833.40,1201.6 833.70,1200.0 834.00,1201.8 834.30,1201.4 834.60,1203.0 834.90,1202.0 835.20,1200.7 835.50,1201.0 835.80,1201.7 836.10,1201.3 836.40,1201.9 836.70,1202.0 837.00,1200.5 837.30,1202.0 837.60,1202.6 837.90,1200.5 838.20,1200.2 838.50,1202.5 838.80,1202.3 839.10,1202.7 839.40,1203.5 839.70,1201.6 840.00,1200.6 840.30,1201.9 840.60,1201.0 840.90,1202.0 841.20,1202.4 841.50,1201.7 841.80,1202.1 842.10,1201.5 842.40,1201.7 842.70,1200.1 843.00,1203.0 843.30,1200.4 843.60,1200.5 843.90,1200.1 844.20,1200.4 844.50,1200.2 844.80,1198.5 845.00,1200.5 845.10,1200.9 845.40,1200.3 845.70,1200.6 846.00,1201.8 846.30,1201.8 846.60,1201.3 846.90,1202.1 847.20,1198.5 847.50,1202.2 847.80,1201.2 848.10,1200.7 848.40,1200.4 848.70,1201.6 849.00,1199.8 849.30,1201.9 849.60,1200.8 849.90,1202.4 850.20,1199.8 850.50,1202.0 850.80,1201.2 851.10,1200.4 851.40,1202.9 851.70,1202.8 852.00,1200.7 852.30,1201.3 852.60,1203.2 852.90,1201.8 853.20,1201.0 853.50,1200.7 853.80,1200.8 854.10,1202.2 854.40,1202.6 854.70,1201.2 855.00,1200.5 855.30,1200.8 855.60,1199.7 855.90,1202.1 856.20,1201.6 856.50,1202.7 856.80,1204.0 857.10,1203.0 857.40,1201.2 857.70,1201.2 858.00,1200.2 858.30,1199.4 858.60,1203.5 858.90,1201.8 859.20,1199.9 859.50,1202.2 859.80,1199.3 860.10,1201.3 860.40,1201.6 860.70,1200.8 861.00,1200.9 861.30,1202.3 861.60,1200.9 861.90,1202.6 862.20,1199.5 862.50,1200.9 862.80,1203.1 863.10,1200.2 863.40,1200.2 863.70,1201.3 864.00,1200.7 864.30,1201.4 864.60,1202.2 864.90,1201.7 865.20,1201.2 865.50,1200.5 865.80,1201.1 866.10,1201.8 866.40,1199.8 866.70,1200.1 867.00,1199.2 867.30,1200.2 867.60,1200.1 867.90,1199.1 868.20,1198.2 868.50,1198.1 868.80,1199.2 869.10,1197.3 869.40,1198.2 869.70,1195.9 870.00,1195.0 870.30,1195.7 870.60,1193.2 870.90,1194.3 871.20,1189.9 871.50,1191.5 871.80,1190.3 872.10,1190.0 872.40,1190.4 872.70,1188.3 873.00,1193.1 873.30,1191.0 873.60,1194.9 873.90,1194.0 874.20,1194.3 874.50,1193.3 874.80,1197.7 875.10,1197.3 875.40,1198.6 875.70,1196.3 876.00,1196.7 876.30,1198.6 876.60,1200.0 876.90,1200.6 877.20,1201.4 877.50,1199.4 877.80,1199.1 878.10,1201.5 878.40,1199.7 878.70,1200.9 879.00,1203.2 879.30,1200.6 879.60,1201.6 879.90,1201.5 880.20,1201.3 880.50,1201.7 880.80,1201.9 881.10,1201.5 881.40,1203.1 881.70,1202.5 882.00,1200.4 882.30,1203.1 882.60,1201.7 882.90,1201.4 883.20,1200.7 883.50,1202.4 883.80,1201.5 884.10,1200.7 884.40,1200.7 884.70,1202.8 885.00,1201.3 885.30,1201.2 885.60,1204.3 885.90,1202.0 886.20,1202.3 886.50,1201.8 886.80,1201.6 887.10,1200.6 887.40,1202.3 887.70,1201.9 888.00,1200.7 888.30,1201.4 888.60,1203.4 888.90,1201.8 889.20,1201.5 889.50,1200.8 889.80,1200.8 890.10,1201.9 890.40,1202.2 890.70,1201.5 891.00,1202.2 891.30,1200.2 891.60,1200.6 891.90,1201.3 892.20,1202.0 892.50,1200.1 892.80,1201.4 893.10,1198.9 893.40,1200.9 893.70,1200.6 894.00,1198.3 894.30,1198.3 894.60,1197.9 894.90,1195.3 895.20,1194.4 895.50,1192.9 895.80,1192.4 896.10,1191.2 896.40,1187.7 896.70,1186.5 897.00,1186.9 897.30,1185.0 897.40,1185.7 897.60,1186.7 897.90,1186.6 898.20,1188.8 898.50,1189.3 898.80,1190.7 899.10,1191.7 899.40,1191.6 899.70,1194.9 900.00,1194.5 900.30,1198.3 900.60,1199.1 900.90,1199.4 901.20,1200.7 901.50,1202.1 901.80,1198.4 902.10,1200.4 902.40,1201.6 902.70,1200.6 903.00,1200.9 903.30,1202.3 903.60,1201.8 903.90,1199.8 904.20,1202.9 904.50,1200.6 904.80,1201.7 905.10,1202.1 905.40,1199.8 905.70,1203.4 906.00,1202.3 906.30,1202.0 906.60,1202.5 906.90,1201.4 907.20,1202.4 907.50,1202.3 907.80,1199.3 908.10,1200.4 908.40,1202.6 908.70,1200.5 909.00,1202.2 909.30,1201.4 909.60,1202.3 909.90,1199.7 910.20,1201.6 910.50,1201.4 910.80,1201.7 911.10,1201.5 911.40,1201.3 911.70,1201.5 912.00,1201.4 912.30,1200.2 912.60,1202.0 912.90,1200.2 913.20,1199.2 913.50,1200.0 913.80,1197.2 914.10,1199.1 914.40,1196.7 914.70,1196.0 915.00,1194.8 915.30,1193.8 915.60,1191.2 915.90,1189.9 916.20,1189.4 916.50,1187.3 916.80,1187.2 917.00,1187.2 917.10,1186.8 917.40,1186.9 917.70,1187.7 918.00,1189.5 918.30,1190.1 918.60,1191.7 918.90,1197.1 919.20,1195.6 919.50,1197.7 919.80,1198.0 920.10,1199.3 920.40,1199.4 920.70,1200.8 921.00,1200.4 921.30,1200.8 921.60,1199.5 921.90,1202.0 922.20,1201.0 922.50,1201.3 922.80,1201.9 923.10,1201.8 923.40,1201.6 923.70,1203.0 924.00,1200.9 924.30,1199.7 924.60,1201.5 924.90,1199.6 925.20,1201.8 925.50,1203.3 925.80,1203.6 926.10,1200.9 926.40,1202.5 926.70,1200.9 927.00,1202.5 927.30,1203.6 927.60,1201.6 927.90,1203.8 928.20,1202.5 928.50,1205.0 928.80,1201.7 929.10,1201.4 929.40,1203.7 929.70,1203.3 930.00,1203.0 930.30,1201.6 930.60,1202.5 930.90,1201.9 931.20,1204.0 931.50,1203.1 931.80,1201.7 932.10,1201.6 932.40,1200.9 932.70,1201.8 933.00,1202.4 933.30,1202.9 933.60,1203.6 933.90,1202.0 934.20,1203.8 934.50,1200.4 934.80,1202.4 935.10,1203.2 935.40,1202.0 935.70,1202.7 936.00,1203.3 936.30,1201.9 936.60,1202.7 936.90,1203.6 937.20,1201.2 937.50,1203.6 937.80,1202.3 938.10,1200.9 938.40,1202.8 938.70,1203.1 939.00,1202.2 939.30,1202.8 939.60,1202.9 939.90,1202.4 940.20,1202.5 940.50,1203.2 940.80,1203.1 941.10,1202.3 941.40,1200.3 941.70,1200.9 942.00,1201.8 942.30,1203.3 942.60,1202.6 942.90,1203.8 943.20,1202.4 943.50,1202.3 943.80,1201.4 944.10,1202.8 944.40,1200.0 944.70,1201.6 945.00,1200.8 945.30,1200.1 945.60,1201.2 945.90,1200.3 946.20,1199.3 946.50,1197.6 946.80,1195.2 947.10,1193.8 947.40,1190.8 947.70,1189.9 948.00,1189.4 948.30,1188.2 948.60,1183.4 948.90,1184.1 949.20,1184.0 949.30,1181.8 949.50,1183.9 949.80,1183.3 950.10,1184.7 950.40,1187.8 950.70,1190.9 951.00,1192.6 951.30,1194.3 951.60,1196.6 951.90,1196.3 952.20,1199.2 952.50,1197.2 952.80,1201.4 953.10,1201.9 953.40,1203.3 953.70,1200.2 954.00,1200.8 954.30,1200.5 954.60,1200.2 954.90,1199.4 955.20,1202.7 955.50,1201.8 955.80,1201.9 956.10,1200.3 956.40,1202.4 956.70,1204.4 957.00,1202.5 957.30,1203.2 957.60,1201.1 957.90,1203.5 958.20,1202.4 958.50,1202.6 958.80,1202.8 959.10,1202.2 959.40,1203.2 959.70,1202.4 960.00,1202.0 960.30,1201.4 960.60,1201.3 960.90,1203.4 961.20,1203.6 961.50,1202.4 961.80,1202.3 962.10,1201.8 962.40,1202.6 962.70,1203.8 963.00,1202.6 963.30,1201.7 963.60,1203.3 963.90,1203.0 964.20,1200.2 964.50,1201.5 964.80,1203.1 965.10,1202.0 965.40,1201.3 965.70,1201.5 966.00,1199.5 966.30,1199.0 966.60,1199.5 966.90,1199.1 967.20,1199.9 967.50,1197.2 967.80,1196.6 968.10,1197.0 968.40,1193.8 968.70,1193.3 969.00,1193.0 969.30,1192.6 969.60,1193.2 969.90,1194.3 970.20,1193.1 970.50,1193.9 970.80,1196.1 971.10,1195.5 971.40,1199.7 971.70,1198.0 972.00,1198.9 972.30,1200.6 972.60,1200.8 972.90,1201.4 973.20,1201.0 973.50,1199.9 973.80,1201.2 974.10,1200.8 974.40,1199.7 974.70,1201.2 975.00,1202.5 975.30,1200.4 975.60,1200.5 975.90,1200.3 976.20,1201.7 976.50,1198.4 976.80,1200.6 977.10,1199.6 977.40,1198.6 977.70,1196.7 978.00,1196.1 978.30,1197.0 978.60,1193.5 978.90,1191.0 979.20,1190.5 979.50,1186.7 979.80,1188.1 980.10,1186.4 980.40,1189.6 980.70,1190.4 981.00,1190.3 981.30,1192.0 981.60,1193.0 981.90,1195.7 982.20,1197.4 982.50,1196.4 982.80,1197.3 983.10,1200.3 983.40,1199.8 983.70,1201.0 984.00,1201.4 984.30,1201.7 984.60,1201.5 984.90,1202.6 985.20,1203.6 985.50,1203.9 985.80,1201.9 986.10,1202.5 986.40,1202.5 986.70,1200.9 987.00,1200.9 987.30,1202.4 987.60,1203.1 987.90,1203.5 988.20,1202.0 988.50,1203.4 988.80,1202.6 989.10,1202.3 989.40,1203.8 989.70,1201.0 990.00,1200.4 990.30,1204.8 990.60,1202.8 990.90,1203.7 991.20,1202.7 991.50,1202.1 991.80,1201.6 992.10,1201.0 992.40,1203.1 992.70,1201.8 993.00,1202.7 993.30,1203.2 993.60,1202.8 993.90,1202.9 994.20,1204.4 994.50,1203.1 994.80,1203.1 995.10,1202.6 995.40,1204.3 995.70,1204.1 996.00,1202.1 996.30,1203.1 996.60,1202.6 996.90,1202.2 997.20,1201.7 997.50,1204.5 997.80,1203.1 998.10,1200.3 998.40,1203.5 998.70,1204.2 999.00,1202.4 999.30,1202.1 999.60,1202.2 999.90,1202.8 1000.20,1201.1 1000.50,1201.8 1000.80,1199.5 1001.10,1201.8 1001.40,1198.8 1001.70,1198.9 1002.00,1198.7 1002.30,1198.1 1002.60,1194.7 1002.90,1193.0 1003.20,1193.2 1003.50,1188.8 1003.80,1186.4 1004.10,1184.8 1004.40,1184.6 1004.70,1183.4 1005.00,1185.0 1005.30,1185.8 1005.60,1186.8 1005.90,1190.0 1006.20,1192.5 1006.50,1192.5 1006.80,1194.9 1007.10,1197.0 1007.40,1200.0 1007.70,1199.0 1008.00,1200.1 1008.30,1200.7 1008.60,1201.5 1008.90,1202.2 1009.20,1200.7 1009.50,1199.0 1009.80,1202.9 1010.10,1200.0 1010.40,1202.7 1010.70,1202.9 1011.00,1203.3 1011.30,1201.5 1011.60,1203.0 1011.90,1203.4 1012.20,1203.5 1012.50,1204.1 1012.80,1201.8 1013.10,1202.3 1013.40,1202.6 1013.70,1202.9 1014.00,1204.0 1014.30,1203.8 1014.60,1203.1 1014.90,1204.8 1015.20,1203.6 1015.50,1201.8 1015.80,1204.3 1016.10,1201.6 1016.40,1201.6 1016.70,1202.5 1017.00,1202.4 1017.30,1202.7 1017.60,1202.7 1017.90,1201.8 1018.20,1201.7 1018.50,1203.0 1018.80,1202.4 1019.10,1201.6 1019.40,1200.7 1019.70,1201.2 1020.00,1199.7 1020.30,1199.0 1020.60,1201.0 1020.90,1200.3 1021.20,1198.9 1021.50,1200.8 1021.70,1199.0 1021.80,1199.7 1022.10,1199.7 1022.40,1199.6 1022.70,1200.0 1023.00,1201.9 1023.30,1201.7 1023.60,1199.2 1023.90,1202.2 1024.20,1199.6 1024.50,1201.1 1024.80,1202.9 1025.10,1201.4 1025.40,1204.1 1025.70,1202.5 1026.00,1203.6 1026.30,1203.4 1026.60,1204.0 1026.90,1204.5 1027.20,1201.7 1027.50,1203.2 1027.80,1203.5 1028.10,1204.4 1028.40,1203.9 1028.70,1203.0 1029.00,1201.9 1029.30,1201.6 1029.60,1202.3 1029.90,1203.5 1030.20,1203.5 1030.50,1204.8 1030.80,1203.6 1031.10,1204.1 1031.40,1201.8 1031.70,1203.5 1032.00,1202.6 1032.30,1202.5 1032.60,1204.3 1032.90,1202.9 1033.20,1202.7 1033.50,1202.7 1033.80,1201.1 1034.10,1200.6 1034.40,1204.2 1034.70,1202.0 1035.00,1201.7 1035.30,1201.7 1035.60,1200.8 1035.90,1200.7 1036.20,1199.9 1036.50,1201.0 1036.80,1200.4 1037.00,1200.5 1037.10,1202.2 1037.40,1199.5 1037.70,1201.5 1038.00,1200.5 1038.30,1203.5 1038.60,1201.7 1038.90,1202.7 1039.20,1201.4 1039.50,1203.5 1039.80,1201.6 1040.10,1201.3 1040.40,1200.2 1040.70,1202.8 1041.00,1202.6 1041.30,1203.3 1041.60,1202.2 1041.90,1203.2 1042.20,1203.3 1042.50,1202.2 1042.80,1205.5 1043.10,1205.8 1043.40,1203.8 1043.70,1204.1 1044.00,1204.3 1044.30,1204.4 1044.60,1202.8 1044.90,1203.9 1045.20,1205.5 1045.50,1203.5 1045.80,1203.4 1046.10,1202.7 1046.40,1203.3 1046.70,1201.4 1047.00,1203.7 1047.30,1204.9 1047.60,1204.1 1047.90,1203.9 1048.20,1203.8 1048.50,1203.8 1048.80,1202.7 1049.10,1201.8 1049.40,1205.7 1049.70,1204.3 1050.00,1201.5 1050.30,1205.5 1050.60,1203.4 1050.90,1204.8 1051.20,1203.7 1051.50,1203.1 1051.80,1204.7 1052.10,1203.5 1052.40,1201.2 1052.70,1204.4 1053.00,1203.7 1053.30,1203.8 1053.60,1203.5 1053.90,1204.3 1054.20,1205.4 1054.50,1204.9 1054.80,1204.2 1055.10,1203.9 1055.40,1203.0 1055.70,1205.7 1056.00,1201.8 1056.30,1202.8 1056.60,1203.6 1056.90,1204.0 1057.20,1204.1 1057.50,1203.4 1057.80,1205.8 1058.10,1205.1 1058.40,1201.8 1058.70,1202.8 1059.00,1202.3 1059.30,1205.3 1059.60,1203.3 1059.90,1202.1 1060.20,1203.4 1060.50,1202.3 1060.80,1203.8 1061.10,1204.4 1061.40,1202.4 1061.70,1203.9 1062.00,1203.9 1062.30,1202.8 1062.60,1204.1 1062.90,1202.8 1063.20,1204.1 1063.50,1203.2 1063.80,1202.8 1064.10,1204.6 1064.40,1204.1 1064.70,1202.5 1065.00,1199.3 1065.30,1202.7 1065.60,1201.6 1065.90,1202.2 1066.20,1201.5 1066.50,1200.8 1066.80,1200.3 1067.10,1201.7 1067.40,1201.4 1067.70,1200.7 1068.00,1197.8 1068.30,1198.3 1068.60,1198.6 1068.90,1198.3 1069.20,1199.6 1069.50,1197.5 1069.80,1200.0 1070.10,1198.7 1070.40,1200.2 1070.70,1198.3 1071.00,1197.9 1071.30,1200.2 1071.60,1199.9 1071.90,1200.3 1072.20,1201.5 1072.50,1202.5 1072.80,1203.3 1073.10,1201.6 1073.40,1201.2 1073.70,1202.8 1074.00,1201.8 1074.30,1201.7 1074.60,1202.6 1074.90,1204.4 1075.20,1203.5 1075.50,1201.0 1075.80,1205.3 1076.10,1201.8 1076.40,1203.4 1076.70,1202.4 1077.00,1204.3 1077.30,1203.7 1077.60,1204.5 1077.90,1203.4 1078.20,1202.9 1078.50,1204.3 1078.80,1200.9 1079.10,1201.4 1079.40,1201.1 1079.70,1202.2 1080.00,1201.6 1080.30,1200.9 1080.60,1202.1 1080.90,1201.4 1081.20,1199.8 1081.50,1198.1 1081.80,1201.1 1082.10,1198.4 1082.40,1196.7 1082.70,1196.8 1083.00,1196.5 1083.30,1195.2 1083.40,1195.9 1083.60,1196.1 1083.90,1195.8 1084.20,1198.1 1084.50,1197.2 1084.80,1199.8 1085.10,1199.4 1085.40,1199.7 1085.70,1201.9 1086.00,1200.9 1086.30,1202.3 1086.60,1203.6 1086.90,1202.1 1087.20,1202.1 1087.50,1203.8 1087.80,1204.2 1088.10,1201.0 1088.40,1204.0 1088.70,1204.7 1089.00,1203.0 1089.30,1204.7 1089.60,1203.3 1089.90,1203.0 1090.20,1203.4 1090.50,1204.6 1090.80,1203.4 1091.10,1203.3 1091.40,1203.9 1091.70,1204.8 1092.00,1201.7 1092.30,1205.1 1092.60,1205.5 1092.90,1202.9 1093.20,1203.9 1093.50,1204.5 1093.80,1204.1 1094.10,1206.0 1094.40,1204.2 1094.70,1203.4 1095.00,1203.6 1095.30,1204.4 1095.60,1203.3 1095.90,1203.4 1096.20,1203.5 1096.50,1205.9 1096.80,1204.8 1097.10,1202.9 1097.40,1204.7 1097.70,1201.3 1098.00,1204.1 1098.30,1204.8 1098.60,1204.5 1098.90,1204.8 1099.20,1204.4 1099.50,1203.5 1099.80,1204.0 1100.10,1204.0 1100.40,1202.6 1100.70,1204.3 1101.00,1203.2 1101.30,1204.9 1101.60,1206.7 1101.90,1206.6 1102.20,1207.1 1102.50,1203.9 1102.80,1203.8 1103.10,1205.0 1103.40,1203.3 1103.70,1205.0 1104.00,1203.7 1104.30,1204.7 1104.60,1203.9 1104.90,1206.0 1105.20,1205.6 1105.50,1205.2 1105.80,1203.0 1106.10,1205.7 1106.40,1203.9 1106.70,1202.9 1107.00,1204.7 1107.30,1205.5 1107.60,1202.8 1107.90,1205.2 1108.20,1204.1 1108.50,1204.2 1108.80,1204.9 1109.10,1204.0 1109.40,1203.7 1109.70,1205.6 1110.00,1201.8 1110.30,1205.5 1110.60,1203.0 1110.90,1205.7 1111.20,1203.1 1111.50,1205.9 1111.80,1202.6 1112.10,1206.3 1112.40,1204.6 1112.70,1204.2 1113.00,1204.1 1113.30,1205.5 1113.60,1204.2 1113.90,1205.1 1114.20,1204.6 1114.50,1203.3 1114.80,1206.2 1115.10,1204.3 1115.40,1204.8 1115.70,1204.7 1116.00,1204.5 1116.30,1206.3 1116.60,1204.9 1116.90,1204.1 1117.20,1204.5 1117.50,1204.1 1117.80,1203.2 1118.10,1205.6 1118.40,1203.4 1118.70,1205.7 1119.00,1204.5 1119.30,1205.3 1119.60,1204.4 1119.90,1204.1 1120.20,1206.9 1120.50,1204.0 1120.80,1203.4 1121.10,1204.8 1121.40,1205.9 1121.70,1203.0 1122.00,1203.8 1122.30,1205.3 1122.60,1205.3 1122.90,1204.9 1123.20,1203.9 1123.50,1204.5 1123.80,1203.6 1124.10,1204.8 1124.40,1204.3 1124.70,1204.5 1125.00,1204.0 1125.30,1204.9 1125.60,1204.2 1125.90,1203.3 1126.20,1205.6 1126.50,1204.3 1126.80,1203.7 1127.10,1203.8 1127.40,1205.5 1127.70,1203.9 1128.00,1204.0 1128.30,1202.8 1128.60,1203.1 1128.90,1202.7 1129.20,1202.2 1129.50,1201.7 1129.80,1202.2 1130.10,1200.7 1130.40,1202.2 1130.70,1201.8 1131.00,1199.2 1131.30,1199.7 1131.60,1197.5 1131.90,1197.4 1132.20,1196.3 1132.50,1192.8 1132.80,1190.9 1133.10,1193.0 1133.40,1192.5 1133.60,1191.8 1133.70,1191.3 1134.00,1191.5 1134.30,1190.3 1134.60,1195.6 1134.90,1193.0 1135.20,1196.8 1135.50,1197.5 1135.80,1199.1 1136.10,1198.4 1136.40,1199.6 1136.70,1201.6 1137.00,1200.5 1137.30,1202.2 1137.60,1201.1 1137.90,1202.9 1138.20,1203.5 1138.50,1203.2 1138.80,1203.8 1139.10,1202.1 1139.40,1202.8 1139.70,1203.1 1140.00,1205.0 1140.30,1202.9 1140.60,1203.5 1140.90,1204.7 1141.20,1203.6 1141.50,1204.3 1141.80,1202.1 1142.10,1204.1 1142.40,1202.9 1142.70,1203.2 1143.00,1203.2 1143.30,1200.2 1143.60,1203.0 1143.90,1201.1 1144.20,1202.5 1144.50,1200.7 1144.80,1201.1 1145.00,1201.0 1145.10,1199.7 1145.40,1202.1 1145.70,1200.3 1146.00,1201.8 1146.30,1201.8 1146.60,1201.0 1146.90,1202.3 1147.20,1202.6 1147.50,1203.7 1147.80,1202.8 1148.10,1202.8 1148.40,1205.1 1148.70,1205.2 1149.00,1203.9 1149.30,1202.9 1149.60,1204.4 1149.90,1203.5 1150.20,1205.5 1150.50,1204.1 1150.80,1203.5 1151.10,1203.8 1151.40,1203.2 1151.70,1204.1 1152.00,1202.9 1152.30,1204.4 1152.60,1205.1 1152.90,1204.7 1153.20,1203.3 1153.50,1204.7 1153.80,1203.8 1154.10,1202.8 1154.40,1204.2 1154.70,1205.2 1155.00,1204.5 1155.30,1203.9 1155.60,1203.6 1155.90,1204.2 1156.20,1204.7 1156.50,1204.4 1156.80,1205.5 1157.10,1205.1 1157.40,1205.3 1157.70,1203.9 1158.00,1204.7 1158.30,1204.3 1158.60,1204.6 1158.90,1204.5 1159.20,1206.7 1159.50,1203.0 1159.80,1204.5 1160.10,1203.6 1160.40,1204.5 1160.70,1204.3 1161.00,1205.6 1161.30,1203.7 1161.60,1203.1 1161.90,1204.0 1162.20,1203.8 1162.50,1201.2 1162.80,1205.1 1163.10,1202.0 1163.40,1204.3 1163.70,1203.8 1164.00,1203.6 1164.30,1202.1 1164.60,1200.8 1164.90,1200.6 1165.20,1202.5 1165.50,1200.6 1165.80,1201.4 1165.90,1201.0 1166.10,1200.4 1166.40,1202.1 1166.70,1200.3 1167.00,1201.3 1167.30,1201.5 1167.60,1202.2 1167.90,1202.2 1168.20,1201.6 1168.50,1202.5 1168.80,1202.8 1169.10,1205.3 1169.40,1204.3 1169.70,1203.6 1170.00,1204.0 1170.30,1203.6 1170.60,1205.7 1170.90,1203.9 1171.20,1203.1 1171.50,1208.3 1171.80,1203.4 1172.10,1203.7 1172.40,1203.3 1172.70,1204.7 1173.00,1203.6 1173.30,1203.5 1173.60,1205.3 1173.90,1205.8 1174.20,1204.6 1174.50,1203.2 1174.80,1204.7 1175.10,1203.5 1175.40,1204.4 1175.70,1204.4 1176.00,1202.8 1176.30,1204.8 1176.60,1203.8 1176.90,1203.6 1177.20,1202.4 1177.50,1204.3 1177.80,1202.4 1178.10,1203.0 1178.40,1201.7 1178.70,1201.2 1179.00,1201.0 1179.30,1200.5 1179.60,1201.6 1179.90,1203.3 1180.00,1202.0 1180.20,1201.1 1180.50,1201.2 1180.80,1203.8 1181.10,1203.2 1181.40,1202.6 1181.70,1202.4 1182.00,1202.6 1182.30,1200.8 1182.60,1202.7 1182.90,1205.7 1183.20,1205.3 1183.50,1203.5 1183.80,1204.7 1184.10,1204.6 1184.40,1203.5 1184.70,1203.2 1185.00,1203.6 1185.30,1204.4 1185.60,1205.5 1185.90,1204.4 1186.20,1204.2 1186.50,1203.9 1186.80,1205.4 1187.10,1205.8 1187.40,1204.2 1187.70,1203.6 1188.00,1204.1 1188.30,1204.2 1188.60,1204.7 1188.90,1204.3 1189.20,1202.3 1189.50,1202.7 1189.80,1202.2 1190.10,1203.0 1190.40,1201.0 1190.70,1200.0 1191.00,1201.7 1191.30,1201.0 1191.60,1201.0 1191.70,1201.5 1191.90,1200.5 1192.20,1201.7 1192.50,1200.6 1192.80,1200.8 1193.10,1202.8 1193.40,1202.2 1193.70,1203.9 1194.00,1203.3 1194.30,1202.5 1194.60,1202.9 1194.90,1202.6 1195.20,1203.8 1195.50,1204.5 1195.80,1204.1 1196.10,1204.4 1196.40,1203.3 1196.70,1205.6 1197.00,1205.0 1197.30,1205.5 1197.60,1203.4 1197.90,1204.4 1198.20,1203.8 1198.50,1206.2 1198.80,1204.5 1199.10,1207.0 1199.40,1205.1 1199.70,1204.1 1200.00,1206.0 1200.30,1206.5 1200.60,1204.6 1200.90,1204.2 1201.20,1204.7 1201.50,1203.6 1201.80,1203.7 1202.10,1202.6 1202.40,1204.2 1202.70,1203.5 1203.00,1205.0 1203.30,1205.1 1203.60,1205.9 1203.90,1205.1 1204.20,1204.6 1204.50,1206.1 1204.80,1204.1 1205.10,1202.7 1205.40,1203.5 1205.70,1204.4 1206.00,1205.4 1206.30,1205.9 1206.60,1203.9 1206.90,1206.0 1207.20,1205.3 1207.50,1205.5 1207.80,1203.9 1208.10,1204.7 1208.40,1202.7 1208.70,1205.0 1209.00,1204.5 1209.30,1205.6 1209.60,1206.0 1209.90,1204.0 1210.20,1205.8 1210.50,1206.0 1210.80,1204.7 1211.10,1206.8 1211.40,1204.2 1211.70,1203.5 1212.00,1205.0 1212.30,1206.7 1212.60,1205.5 1212.90,1203.2 1213.20,1204.4 1213.50,1206.2 1213.80,1204.2 1214.10,1204.8 1214.40,1203.9 1214.70,1207.0 1215.00,1206.7 1215.30,1203.7 1215.60,1203.2 1215.90,1205.6 1216.20,1205.4 1216.50,1205.0 1216.80,1205.1 1217.10,1204.7 1217.40,1206.0 1217.70,1205.9 1218.00,1206.3 1218.30,1205.9 1218.60,1204.5 1218.90,1204.6 1219.20,1204.8 1219.50,1205.1 1219.80,1204.3 1220.10,1204.2 1220.40,1204.8 1220.70,1204.6 1221.00,1204.9 1221.30,1206.6 1221.60,1206.4 1221.90,1204.5 1222.20,1205.1 1222.50,1204.7 1222.80,1204.1 1223.10,1205.5 1223.40,1203.0 1223.70,1205.1 1224.00,1204.6 1224.30,1203.6 1224.60,1205.4 1224.90,1205.8 1225.20,1205.1 1225.50,1205.3 1225.80,1203.9 1226.10,1205.2 1226.40,1206.3 1226.70,1203.6 1227.00,1207.0 1227.30,1202.9 1227.60,1205.6 1227.90,1204.0 1228.20,1204.8 1228.50,1204.5 1228.80,1204.5 1229.10,1205.4 1229.40,1204.0 1229.70,1204.4 1230.00,1205.3 1230.30,1203.9 1230.60,1201.7 1230.90,1203.2 1231.20,1203.1 1231.50,1202.6 1231.80,1204.0 1232.10,1203.2 1232.40,1202.2 1232.70,1202.2 1233.00,1201.1 1233.30,1201.9 1233.60,1204.2 1233.90,1200.4 1234.20,1203.9 1234.50,1201.9 1234.80,1201.7 1235.00,1202.0 1235.10,1200.6 1235.40,1202.5 1235.70,1201.7 1236.00,1201.4 1236.30,1202.2 1236.60,1204.0 1236.90,1202.1 1237.20,1202.6 1237.50,1204.3 1237.80,1202.1 1238.10,1204.2 1238.40,1206.0 1238.70,1203.6 1239.00,1202.1 1239.30,1204.9 1239.60,1203.7 1239.90,1205.5 1240.20,1204.8 1240.50,1204.7 1240.80,1203.6 1241.10,1205.8 1241.40,1205.1 1241.70,1205.2 1242.00,1205.2 1242.30,1205.3 1242.60,1205.1 1242.90,1204.8 1243.20,1203.3 1243.50,1204.4 1243.80,1204.6 1244.10,1206.1 1244.40,1206.1 1244.70,1204.1 1245.00,1204.6 1245.30,1204.5 1245.60,1205.4 1245.90,1205.4 1246.20,1205.7 1246.50,1204.5 1246.80,1204.8 1247.10,1207.3 1247.40,1204.0 1247.70,1206.7 1248.00,1206.0 1248.30,1206.2 1248.60,1205.4 1248.90,1205.3 1249.20,1206.1 1249.50,1205.1 1249.80,1205.2 1250.10,1205.0 1250.40,1205.7 1250.70,1205.2 1251.00,1205.0 1251.30,1205.9 1251.60,1205.5 1251.90,1204.0 1252.20,1205.3 1252.50,1206.8 1252.80,1205.8 1253.10,1206.9 1253.40,1203.6 1253.70,1205.7 1254.00,1203.4 1254.30,1206.0 1254.60,1204.7 1254.90,1205.2 1255.20,1205.8 1255.50,1204.5 1255.80,1204.7 1256.10,1205.0 1256.40,1206.1 1256.70,1206.8 1257.00,1204.6 1257.30,1204.4 1257.60,1205.4 1257.90,1204.1 1258.20,1204.0 1258.50,1205.9 1258.80,1204.8 1259.10,1207.0 1259.40,1204.4 1259.70,1206.9 1260.00,1206.6 1260.30,1205.1 1260.60,1205.6 1260.90,1202.7 1261.20,1205.7"/><path d="M234.30,1567.0 234.60,1565.1 234.90,1570.3 235.20,1561.8 235.50,1569.1 235.80,1567.8 236.10,1568.3 236.40,1564.5 236.70,1569.7 237.00,1567.1 237.30,1568.9 237.60,1570.8 237.90,1566.8 238.20,1562.4 238.50,1569.9 238.80,1569.8 239.10,1568.8 239.40,1568.1 239.70,1567.6 240.00,1570.1 240.30,1571.3 240.60,1569.1 240.90,1573.3 241.20,1569.9 241.50,1572.0 241.80,1570.3 242.10,1570.8 242.40,1573.2 242.70,1572.6 243.00,1573.9 243.30,1573.9 243.60,1571.5 243.90,1573.2 244.20,1572.7 244.50,1572.8 244.80,1573.6 245.10,1572.1 245.40,1572.3 245.70,1573.2 246.00,1569.9 246.30,1574.1 246.60,1574.6 246.90,1567.6 247.20,1574.2 247.50,1570.8 247.80,1570.7 248.10,1574.1 248.40,1570.6 248.70,1573.3 249.00,1571.3 249.30,1570.1 249.60,1577.1 249.90,1571.3 250.20,1570.4 250.50,1572.4 250.80,1577.5 251.10,1569.7 251.40,1576.1 251.70,1571.9 252.00,1574.2 252.30,1573.7 252.60,1576.3 252.90,1572.3 253.20,1578.5 253.50,1573.4 253.80,1571.1 254.10,1574.9 254.40,1576.5 254.70,1576.3 255.00,1577.1 255.30,1574.5 255.60,1578.5 255.90,1577.2 256.20,1573.2 256.50,1574.5 256.80,1573.9 257.10,1575.1 257.40,1576.4 257.70,1574.9 258.00,1575.7 258.30,1578.0 258.60,1578.3 258.90,1579.9 259.20,1569.3 259.50,1575.3 259.80,1575.2 260.10,1575.8 260.40,1575.1 260.70,1575.1 261.00,1579.1 261.30,1580.5 261.60,1575.1 261.90,1579.5 262.20,1572.9 262.50,1579.3 262.80,1582.1 263.10,1580.5 263.40,1576.6 263.70,1576.6 264.00,1578.0 264.30,1581.8 264.60,1579.8 264.90,1579.6 265.20,1580.4 265.50,1576.9 265.80,1574.5 266.10,1578.3 266.40,1578.6 266.70,1580.6 267.00,1580.2 267.30,1587.7 267.60,1579.3 267.90,1579.1 268.20,1583.9 268.50,1580.9 268.80,1585.5 269.10,1585.6 269.40,1583.2 269.70,1583.2 270.00,1577.9 270.30,1584.9 270.60,1582.4 270.90,1583.6 271.20,1584.6 271.50,1582.8 271.80,1580.4 272.10,1581.6 272.40,1580.7 272.70,1585.4 273.00,1583.3 273.30,1583.8 273.60,1582.7 273.90,1583.7 274.20,1581.6 274.50,1584.8 274.80,1582.3 275.10,1585.7 275.40,1584.8 275.70,1586.7 276.00,1588.5 276.30,1587.4 276.60,1587.0 276.90,1589.0 277.20,1586.0 277.50,1587.5 277.80,1588.9 278.10,1584.9 278.40,1587.0 278.70,1593.7 279.00,1589.7 279.30,1589.9 279.60,1591.1 279.90,1589.6 280.20,1589.2 280.50,1589.7 280.80,1593.1 281.10,1594.6 281.40,1589.7 281.70,1590.8 282.00,1592.3 282.30,1588.7 282.60,1591.6 282.90,1594.1 283.20,1594.4 283.50,1597.5 283.80,1591.2 284.10,1592.1 284.40,1594.3 284.70,1593.1 285.00,1595.1 285.30,1592.6 285.60,1588.6 285.90,1590.8 286.20,1588.9 286.50,1593.3 286.80,1596.0 287.10,1594.4 287.40,1592.0 287.70,1588.6 288.00,1593.3 288.30,1591.8 288.60,1591.9 288.90,1593.5 289.20,1599.1 289.50,1592.6 289.80,1591.9 290.10,1590.3 290.40,1595.9 290.70,1591.6 291.00,1589.4 291.30,1592.7 291.60,1594.6 291.90,1591.0 292.20,1593.8 292.50,1590.1 292.80,1596.9 293.10,1591.2 293.40,1593.9 293.70,1591.8 294.00,1592.8 294.30,1594.8 294.60,1592.7 294.90,1593.8 295.20,1596.9 295.50,1600.1 295.80,1596.0 296.10,1594.2 296.40,1594.6 296.70,1591.1 297.00,1591.5 297.30,1591.4 297.60,1595.0 297.90,1593.7 298.20,1593.1 298.50,1599.5 298.80,1593.8 299.10,1595.8 299.40,1594.9 299.70,1593.9 300.00,1594.9 300.30,1590.1 300.60,1593.9 300.90,1596.1 301.20,1597.5 301.50,1593.1 301.80,1596.9 302.10,1595.4 302.40,1592.6 302.70,1589.6 303.00,1594.1 303.30,1591.8 303.60,1596.0 303.90,1594.2 304.20,1589.7 304.50,1592.1 304.80,1594.0 305.10,1596.1 305.40,1587.0 305.70,1594.2 306.00,1589.8 306.30,1592.3 306.60,1590.7 306.90,1594.9 307.20,1593.4 307.50,1596.7 307.80,1595.5 308.10,1590.6 308.40,1587.0 308.70,1591.6 309.00,1590.7 309.30,1592.2 309.60,1590.1 309.90,1590.2 310.20,1593.4 310.50,1592.1 310.80,1589.8 311.10,1592.3 311.40,1589.1 311.70,1591.1 312.00,1593.2 312.30,1589.7 312.60,1587.5 312.90,1591.0 313.20,1589.6 313.50,1594.6 313.80,1590.0 314.10,1588.7 314.40,1587.3 314.70,1584.7 315.00,1588.0 315.30,1590.0 315.60,1587.6 315.90,1590.9 316.20,1591.8 316.50,1591.3 316.80,1588.0 317.10,1587.6 317.40,1591.5 317.70,1587.9 318.00,1587.9 318.30,1588.0 318.60,1592.4 318.90,1584.7 319.20,1591.8 319.50,1591.2 319.80,1592.8 320.10,1590.1 320.40,1594.3 320.70,1590.8 321.00,1586.8 321.30,1585.4 321.60,1588.9 321.90,1589.9 322.20,1589.5 322.50,1591.1 322.80,1591.4 323.10,1582.8 323.40,1588.6 323.70,1588.6 324.00,1590.0 324.30,1586.7 324.60,1591.3 324.90,1588.7 325.20,1591.7 325.50,1587.1 325.80,1588.3 326.10,1585.5 326.40,1586.4 326.70,1587.9 327.00,1587.4 327.30,1589.5 327.60,1589.9 327.90,1588.9 328.20,1589.0 328.50,1586.3 328.80,1588.0 329.10,1588.6 329.40,1587.5 329.70,1591.1 330.00,1590.7 330.30,1587.5 330.60,1588.4 330.90,1589.4 331.20,1589.9 331.50,1593.3 331.80,1589.3 332.10,1588.5 332.40,1590.8 332.70,1591.6 333.00,1593.0 333.30,1587.9 333.60,1589.7 333.90,1590.9 334.20,1590.9 334.50,1587.0 334.80,1591.7 335.10,1594.2 335.40,1592.4 335.70,1590.6 336.00,1588.6 336.30,1588.8 336.60,1591.2 336.90,1589.5 337.20,1589.6 337.50,1587.6 337.80,1592.6 338.10,1593.6 338.40,1591.5 338.70,1593.2 339.00,1592.2 339.30,1595.8 339.60,1591.8 339.90,1592.1 340.20,1589.4 340.50,1592.2 340.80,1591.5 341.10,1591.4 341.40,1596.2 341.70,1594.6 342.00,1595.3 342.30,1593.7 342.60,1590.9 342.90,1593.2 343.20,1595.7 343.50,1591.3 343.80,1593.0 344.10,1593.5 344.40,1596.0 344.70,1593.8 345.00,1595.5 345.30,1595.4 345.60,1593.3 345.90,1594.5 346.20,1591.1 346.50,1593.0 346.80,1595.5 347.10,1595.2 347.40,1595.2 347.70,1594.4 348.00,1596.4 348.30,1595.9 348.60,1594.6 348.90,1590.7 349.20,1601.6 349.50,1599.9 349.80,1592.5 350.10,1598.1 350.40,1593.9 350.70,1597.3 351.00,1592.4 351.30,1594.4 351.60,1593.3 351.90,1596.2 352.20,1596.5 352.50,1594.7 352.80,1588.9 353.10,1594.5 353.40,1591.8 353.70,1598.0 354.00,1593.1 354.30,1589.2 354.60,1593.9 354.90,1591.0 355.20,1595.3 355.50,1591.2 355.80,1595.1 356.10,1590.2 356.40,1596.9 356.70,1593.9 357.00,1595.7 357.30,1593.5 357.60,1598.9 357.90,1593.5 358.20,1595.5 358.50,1593.7 358.80,1596.8 359.10,1590.5 359.40,1590.1 359.70,1595.1 360.00,1592.1 360.30,1591.5 360.60,1595.0 360.90,1593.8 361.20,1587.9 361.50,1594.1 361.80,1592.6 362.10,1591.3 362.40,1595.7 362.70,1595.2 363.00,1597.2 363.30,1592.6 363.60,1591.6 363.90,1600.0 364.20,1595.9 364.50,1595.6 364.80,1591.6 365.10,1592.5 365.40,1595.3 365.70,1586.0 366.00,1589.8 366.30,1593.3 366.60,1587.7 366.90,1593.6 367.20,1590.9 367.50,1586.9 367.80,1590.6 368.10,1590.2 368.40,1589.5 368.70,1590.7 369.00,1585.1 369.30,1587.1 369.60,1589.0 369.90,1587.9 370.20,1587.1 370.50,1592.7 370.80,1584.2 371.10,1583.0 371.40,1585.2 371.70,1582.3 372.00,1584.3 372.30,1580.8 372.60,1584.6 372.90,1578.0 373.20,1578.1 373.50,1580.1 373.80,1577.3 374.10,1578.6 374.40,1577.4 374.70,1576.8 375.00,1570.8 375.30,1575.1 375.60,1572.2 375.90,1571.9 376.20,1568.2 376.50,1570.5 376.80,1570.4 377.10,1568.4 377.40,1567.8 377.70,1565.9 378.00,1563.9 378.30,1564.4 378.60,1561.7 378.90,1560.7 379.20,1561.1 379.50,1561.5 379.80,1562.6 380.10,1560.7 380.40,1557.7 380.70,1555.1 381.00,1557.4 381.30,1553.8 381.60,1553.5 381.90,1551.1 382.20,1558.4 382.50,1558.1 382.80,1552.7 383.10,1555.6 383.40,1556.3 383.70,1559.1 384.00,1559.0 384.30,1553.5 384.60,1556.6 384.90,1552.2 385.20,1555.8 385.50,1556.4 385.80,1555.9 386.10,1554.1 386.40,1556.3 386.70,1563.5 387.00,1558.9 387.30,1561.8 387.60,1564.4 387.90,1564.4 388.20,1561.7 388.50,1566.3 388.80,1566.4 389.10,1563.6 389.40,1563.9 389.70,1563.0 390.00,1564.7 390.30,1564.2 390.60,1566.3 390.90,1559.7 391.20,1566.1 391.50,1563.8 391.80,1567.9 392.10,1567.6 392.40,1565.2 392.70,1566.8 393.00,1567.1 393.30,1567.1 393.60,1570.1 393.90,1573.1 394.20,1571.1 394.50,1568.9 394.80,1572.4 395.10,1570.3 395.40,1573.2 395.70,1575.0 396.00,1575.8 396.30,1576.4 396.60,1571.7 396.90,1567.5 397.20,1573.5 397.50,1572.8 397.80,1575.0 398.10,1574.6 398.40,1572.0 398.70,1572.6 399.00,1574.3 399.30,1570.3 399.60,1566.5 399.90,1572.2 400.20,1571.6 400.50,1569.8 400.80,1574.0 401.10,1570.6 401.40,1569.1 401.70,1571.5 402.00,1575.2 402.30,1568.4 402.60,1573.1 402.90,1568.1 403.20,1572.9 403.50,1570.2 403.80,1570.4 404.10,1573.2 404.40,1577.6 404.70,1567.4 405.00,1571.1 405.30,1569.8 405.60,1574.6 405.90,1571.9 406.20,1569.6 406.50,1573.5 406.80,1572.8 407.10,1570.6 407.40,1572.4 407.70,1570.8 408.00,1571.7 408.30,1566.2 408.60,1569.8 408.90,1569.8 409.20,1564.9 409.50,1574.8 409.80,1569.3 410.10,1565.6 410.40,1563.0 410.70,1563.2 411.00,1563.1 411.30,1563.6 411.60,1558.6 411.90,1558.4 412.20,1563.4 412.50,1556.2 412.80,1563.2 413.10,1557.0 413.40,1552.6 413.70,1552.3 414.00,1556.6 414.30,1551.0 414.60,1545.9 414.90,1549.5 415.20,1546.0 415.50,1541.8 415.80,1539.2 416.10,1536.8 416.40,1539.2 416.70,1539.0 417.00,1540.0 417.30,1538.6 417.60,1535.6 417.90,1527.8 418.20,1527.6 418.50,1527.5 418.80,1522.8 419.10,1521.1 419.40,1517.6 419.70,1517.4 420.00,1519.0 420.30,1517.2 420.60,1512.0 420.90,1513.9 421.20,1511.9 421.50,1510.4 421.80,1516.4 422.10,1513.6 422.40,1519.2 422.70,1514.6 423.00,1513.8 423.30,1510.8 423.60,1509.6 423.90,1512.5 424.20,1508.5 424.50,1512.6 424.80,1510.2 425.10,1509.2 425.40,1506.2 425.70,1502.3 426.00,1506.3 426.30,1500.7 426.60,1500.8 426.90,1501.3 427.20,1497.2 427.50,1495.3 427.80,1491.4 428.10,1495.4 428.40,1495.0 428.70,1487.0 429.00,1490.2 429.30,1490.1 429.60,1487.6 429.90,1483.8 430.20,1477.9 430.50,1474.8 430.80,1476.2 431.10,1479.2 431.40,1481.7 431.70,1481.9 432.00,1479.1 432.30,1481.3 432.60,1480.1 432.90,1477.8 433.20,1481.7 433.50,1487.0 433.80,1488.2 434.10,1489.6 434.40,1493.1 434.70,1502.8 435.00,1502.5 435.30,1504.7 435.60,1505.8 435.90,1511.6 436.20,1518.1 436.50,1519.9 436.80,1526.2 437.10,1527.4 437.40,1538.5 437.70,1534.0 438.00,1540.1 438.30,1538.9 438.60,1544.2 438.90,1548.4 439.20,1549.8 439.50,1548.3 439.80,1559.2 440.10,1560.6 440.40,1559.8 440.70,1563.7 441.00,1568.8 441.30,1567.6 441.60,1573.2 441.90,1570.6 442.20,1575.8 442.50,1579.1 442.80,1577.3 443.10,1579.8 443.40,1581.4 443.70,1584.9 444.00,1585.2 444.30,1583.7 444.60,1584.5 444.90,1583.7 445.20,1584.3 445.50,1584.7 445.80,1585.0 446.10,1589.0 446.40,1586.7 446.70,1585.8 447.00,1586.3 447.30,1588.5 447.60,1590.3 447.90,1588.2 448.20,1587.6 448.50,1590.9 448.80,1593.2 449.10,1588.8 449.40,1590.6 449.70,1587.4 450.00,1598.2 450.30,1590.1 450.60,1590.0 450.90,1593.7 451.20,1592.5 451.50,1595.5 451.80,1591.7 452.10,1594.2 452.40,1594.6 452.70,1595.5 453.00,1598.9 453.30,1594.4 453.60,1592.6 453.90,1595.8 454.20,1593.1 454.50,1597.2 454.80,1595.7 455.10,1595.4 455.40,1591.4 455.70,1591.6 456.00,1593.9 456.30,1595.3 456.60,1590.5 456.90,1594.4 457.20,1596.1 457.50,1594.2 457.80,1598.0 458.10,1596.4 458.40,1599.7 458.70,1594.3 459.00,1597.1 459.30,1589.4 459.60,1594.2 459.90,1598.5 460.20,1595.3 460.50,1595.1 460.80,1593.5 461.10,1600.6 461.40,1599.7 461.70,1596.6 462.00,1597.6 462.30,1596.9 462.60,1593.6 462.90,1597.9 463.20,1595.9 463.50,1595.4 463.80,1600.0 464.10,1597.6 464.40,1595.1 464.70,1599.0 465.00,1597.7 465.30,1598.7 465.60,1597.7 465.90,1598.9 466.20,1598.9 466.50,1596.2 466.80,1603.6 467.10,1599.2 467.40,1592.7 467.70,1601.2 468.00,1595.3 468.30,1599.9 468.60,1602.8 468.90,1598.4 469.20,1599.0 469.50,1602.2 469.80,1600.9 470.10,1600.8 470.40,1599.2 470.70,1599.8 471.00,1595.1 471.30,1598.8 471.60,1599.6 471.90,1601.5 472.20,1601.2 472.50,1596.9 472.80,1598.2 473.10,1594.7 473.40,1599.7 473.70,1603.8 474.00,1600.5 474.30,1598.3 474.60,1600.4 474.90,1599.7 475.20,1597.1 475.50,1597.9 475.80,1599.5 476.10,1602.0 476.40,1598.5 476.70,1598.2 477.00,1596.4 477.30,1599.6 477.60,1597.0 477.90,1603.9 478.20,1599.7 478.50,1591.9 478.80,1602.7 479.10,1599.9 479.40,1599.0 479.70,1599.5 480.00,1597.6 480.30,1596.8 480.60,1597.2 480.90,1598.6 481.20,1599.9 481.50,1603.6 481.80,1599.8 482.10,1600.9 482.40,1601.2 482.70,1596.9 483.00,1596.4 483.30,1596.7 483.60,1602.5 483.90,1595.4 484.20,1600.1 484.50,1596.7 484.80,1604.9 485.10,1595.4 485.40,1595.7 485.70,1597.4 486.00,1595.9 486.30,1600.4 486.60,1600.8 486.90,1600.9 487.20,1603.6 487.50,1596.3 487.80,1598.9 488.10,1597.6 488.40,1596.7 488.70,1599.3 489.00,1603.8 489.30,1596.3 489.60,1603.8 489.90,1599.2 490.20,1597.3 490.50,1595.6 490.80,1600.5 491.10,1598.8 491.40,1598.0 491.70,1596.9 492.00,1598.0 492.30,1597.4 492.60,1598.7 492.90,1593.8 493.20,1598.9 493.50,1600.7 493.80,1600.2 494.10,1595.0 494.40,1598.5 494.70,1598.9 495.00,1601.0 495.30,1600.3 495.60,1600.7 495.90,1597.8 496.20,1599.8 496.50,1597.8 496.80,1597.4 497.10,1594.3 497.40,1598.8 497.70,1597.5 498.00,1594.2 498.30,1601.2 498.60,1597.0 498.90,1598.9 499.20,1598.8 499.50,1597.5 499.80,1598.4 500.10,1600.1 500.40,1596.0 500.70,1594.6 501.00,1600.3 501.30,1599.1 501.60,1596.0 501.90,1600.3 502.20,1594.9 502.50,1598.0 502.80,1598.6 503.10,1597.8 503.40,1598.8 503.70,1596.5 504.00,1593.8 504.30,1596.2 504.60,1599.1 504.90,1597.8 505.20,1597.5 505.50,1596.8 505.80,1600.3 506.10,1596.4 506.40,1598.3 506.70,1598.3 507.00,1595.3 507.30,1599.5 507.60,1598.6 507.90,1598.9 508.20,1594.2 508.50,1600.3 508.80,1596.5 509.10,1597.3 509.40,1598.4 509.70,1599.5 510.00,1596.1 510.30,1598.1 510.60,1597.4 510.90,1597.2 511.20,1597.2 511.50,1595.0 511.80,1597.1 512.10,1600.1 512.40,1594.8 512.70,1593.3 513.00,1600.6 513.30,1593.8 513.60,1596.3 513.90,1595.6 514.20,1597.6 514.50,1596.2 514.80,1598.1 515.10,1595.9 515.40,1594.3 515.70,1602.7 516.00,1597.2 516.30,1598.2 516.60,1593.9 516.90,1595.2 517.20,1595.7 517.50,1599.2 517.80,1594.9 518.10,1598.0 518.40,1596.1 518.70,1595.2 519.00,1598.6 519.30,1597.6 519.60,1594.3 519.90,1598.4 520.20,1593.7 520.50,1598.0 520.80,1596.5 521.10,1602.1 521.40,1598.0 521.70,1601.8 522.00,1598.1 522.30,1595.8 522.60,1598.4 522.90,1593.1 523.20,1593.7 523.50,1596.3 523.80,1600.2 524.10,1598.8 524.40,1593.3 524.70,1591.6 525.00,1597.2 525.30,1592.7 525.60,1593.7 525.90,1594.8 526.20,1594.0 526.50,1594.3 526.80,1595.7 527.10,1598.6 527.40,1594.7 527.70,1596.3 528.00,1597.2 528.30,1597.3 528.60,1595.9 528.90,1594.3 529.20,1595.9 529.50,1592.5 529.80,1595.8 530.10,1599.0 530.40,1597.3 530.70,1588.7 531.00,1597.2 531.30,1597.2 531.60,1595.0 531.90,1597.4 532.20,1597.3 532.50,1595.3 532.80,1595.0 533.10,1592.8 533.40,1598.0 533.70,1590.2 534.00,1596.3 534.30,1594.5 534.60,1595.5 534.90,1594.3 535.20,1595.1 535.50,1593.1 535.80,1593.0 536.10,1599.1 536.40,1594.3 536.70,1598.3 537.00,1596.8 537.30,1595.4 537.60,1595.6 537.90,1594.8 538.20,1597.1 538.50,1594.5 538.80,1593.8 539.10,1596.3 539.40,1594.6 539.70,1595.8 540.00,1593.0 540.30,1594.3 540.60,1596.7 540.90,1596.6 541.20,1591.7 541.50,1594.0 541.80,1591.6 542.10,1596.0 542.40,1591.8 542.70,1589.7 543.00,1591.2 543.30,1591.1 543.60,1599.5 543.90,1592.4 544.20,1595.5 544.50,1591.9 544.80,1594.6 545.10,1596.5 545.40,1595.7 545.70,1596.7 546.00,1595.7 546.30,1592.9 546.60,1594.5 546.90,1593.6 547.20,1592.1 547.50,1598.3 547.80,1590.9 548.10,1590.1 548.40,1591.8 548.70,1595.6 549.00,1592.1 549.30,1593.6 549.60,1591.2 549.90,1595.8 550.20,1593.6 550.50,1593.0 550.80,1596.1 551.10,1590.8 551.40,1596.2 551.70,1594.7 552.00,1589.8 552.30,1592.2 552.60,1593.8 552.90,1590.0 553.20,1590.5 553.50,1595.8 553.80,1599.0 554.10,1596.3 554.40,1593.8 554.70,1592.7 555.00,1590.1 555.30,1594.2 555.60,1591.1 555.90,1592.4 556.20,1592.6 556.50,1594.3 556.80,1593.6 557.10,1587.1 557.40,1590.9 557.70,1594.6 558.00,1595.3 558.30,1594.1 558.60,1594.6 558.90,1589.6 559.20,1592.1 559.50,1592.5 559.80,1594.4 560.10,1592.5 560.40,1591.0 560.70,1594.5 561.00,1592.4 561.30,1593.7 561.60,1588.4 561.90,1592.5 562.20,1593.6 562.50,1595.7 562.80,1592.5 563.10,1588.5 563.40,1589.2 563.70,1594.9 564.00,1594.7 564.30,1591.8 564.60,1590.3 564.90,1594.8 565.20,1591.1 565.50,1592.1 565.80,1588.8 566.10,1586.1 566.40,1592.8 566.70,1596.6 567.00,1591.6 567.30,1589.3 567.60,1595.4 567.90,1589.9 568.20,1587.3 568.50,1591.1 568.80,1593.0 569.10,1590.3 569.40,1592.3 569.70,1592.3 570.00,1592.4 570.30,1595.9 570.60,1592.7 570.90,1593.6 571.20,1595.5 571.50,1591.6 571.80,1594.4 572.10,1591.0 572.40,1592.5 572.70,1592.2 573.00,1594.7 573.30,1594.5 573.60,1590.8 573.90,1590.1 574.20,1589.7 574.50,1590.1 574.80,1590.9 575.10,1592.3 575.40,1590.4 575.70,1596.8 576.00,1595.4 576.30,1597.4 576.60,1593.6 576.90,1594.1 577.20,1592.0 577.50,1595.3 577.80,1593.9 578.10,1592.3 578.40,1593.5 578.70,1597.0 579.00,1596.5 579.30,1592.7 579.60,1588.0 579.90,1585.8 580.20,1592.4 580.50,1592.4 580.80,1592.5 581.10,1593.5 581.40,1593.8 581.70,1590.7 582.00,1591.2 582.30,1596.4 582.60,1597.9 582.90,1593.0 583.20,1593.0 583.50,1594.7 583.80,1593.6 584.10,1592.9 584.40,1592.7 584.70,1596.2 585.00,1591.1 585.30,1594.0 585.60,1590.0 585.90,1594.1 586.20,1593.5 586.50,1592.5 586.80,1593.6 587.10,1588.7 587.40,1590.9 587.70,1591.7 588.00,1593.0 588.30,1592.7 588.60,1591.1 588.90,1592.9 589.20,1593.6 589.50,1598.6 589.80,1593.2 590.10,1593.5 590.40,1593.5 590.70,1592.0 591.00,1591.7 591.30,1594.5 591.60,1592.1 591.90,1591.6 592.20,1592.7 592.50,1596.5 592.80,1590.0 593.10,1591.8 593.40,1593.4 593.70,1594.1 594.00,1596.6 594.30,1597.4 594.60,1591.3 594.90,1594.5 595.20,1597.3 595.50,1595.5 595.80,1590.8 596.10,1591.3 596.40,1593.0 596.70,1594.7 597.00,1590.3 597.30,1594.7 597.60,1591.2 597.90,1594.2 598.20,1594.4 598.50,1593.8 598.80,1595.1 599.10,1592.7 599.40,1593.1 599.70,1595.7 600.00,1591.3 600.30,1591.2 600.60,1589.3 600.90,1596.6 601.20,1590.8 601.50,1594.8 601.80,1592.8 602.10,1593.6 602.40,1591.6 602.70,1592.2 603.00,1594.8 603.30,1592.7 603.60,1590.1 603.90,1592.0 604.20,1589.1 604.50,1593.6 604.80,1594.4 605.10,1592.8 605.40,1595.8 605.70,1595.9 606.00,1591.8 606.30,1594.7 606.60,1591.6 606.90,1592.5 607.20,1591.5 607.50,1592.2 607.80,1589.1 608.10,1591.5 608.40,1588.8 608.70,1595.4 609.00,1590.4 609.30,1591.3 609.60,1587.7 609.90,1589.6 610.20,1592.3 610.50,1585.9 610.80,1591.1 611.10,1588.6 611.40,1594.1 611.70,1589.9 612.00,1589.6 612.30,1587.3 612.60,1588.1 612.90,1582.0 613.20,1587.5 613.50,1583.8 613.80,1576.2 614.10,1578.6 614.40,1575.5 614.70,1576.7 615.00,1570.6 615.30,1569.7 615.60,1569.6 615.90,1567.7 616.20,1572.5 616.50,1570.6 616.80,1569.5 617.10,1573.3 617.40,1574.3 617.70,1580.8 618.00,1576.3 618.30,1576.3 618.60,1586.9 618.90,1583.3 619.20,1587.5 619.50,1586.2 619.80,1586.3 620.10,1589.9 620.40,1589.8 620.70,1588.7 621.00,1586.1 621.30,1591.5 621.60,1594.1 621.90,1593.7 622.20,1587.9 622.50,1594.6 622.80,1588.1 623.10,1590.3 623.40,1591.8 623.70,1591.8 624.00,1589.9 624.30,1591.1 624.60,1592.3 624.90,1592.3 625.20,1593.8 625.50,1594.4 625.80,1592.6 626.10,1590.6 626.40,1594.1 626.70,1592.4 627.00,1590.6 627.30,1586.8 627.60,1592.9 627.90,1594.1 628.20,1595.0 628.50,1590.3 628.80,1592.4 629.10,1588.4 629.40,1593.0 629.70,1593.2 630.00,1590.6 630.30,1593.8 630.60,1594.9 630.90,1595.0 631.20,1590.4 631.50,1592.6 631.80,1594.9 632.10,1592.0 632.40,1591.5 632.70,1591.7 633.00,1594.4 633.30,1591.7 633.60,1587.8 633.90,1593.7 634.20,1598.8 634.50,1593.1 634.80,1595.2 635.10,1592.7 635.40,1591.3 635.70,1589.4 636.00,1593.0 636.30,1591.7 636.60,1593.8 636.90,1592.0 637.20,1593.1 637.50,1586.7 637.80,1592.2 638.10,1592.9 638.40,1592.1 638.70,1594.5 639.00,1591.1 639.30,1592.8 639.60,1586.6 639.90,1593.0 640.20,1593.0 640.50,1589.1 640.80,1586.0 641.10,1588.8 641.40,1591.0 641.70,1594.9 642.00,1588.3 642.30,1592.1 642.60,1592.5 642.90,1592.3 643.20,1589.4 643.50,1592.6 643.80,1587.8 644.10,1586.4 644.40,1590.8 644.70,1588.9 645.00,1585.6 645.30,1594.1 645.60,1592.8 645.90,1592.4 646.20,1588.8 646.50,1589.3 646.80,1587.2 647.10,1590.9 647.40,1590.3 647.70,1590.9 648.00,1594.4 648.30,1589.7 648.60,1590.5 648.90,1587.4 649.20,1594.7 649.50,1593.9 649.80,1585.5 650.10,1585.7 650.40,1595.0 650.70,1595.6 651.00,1592.7 651.30,1594.4 651.60,1587.9 651.90,1591.2 652.20,1593.1 652.50,1590.6 652.80,1588.7 653.10,1590.6 653.40,1588.9 653.70,1595.6 654.00,1590.1 654.30,1589.3 654.60,1586.4 654.90,1594.4 655.20,1590.2 655.50,1591.7 655.80,1589.6 656.10,1590.1 656.40,1589.0 656.70,1586.9 657.00,1588.9 657.30,1585.1 657.60,1587.1 657.90,1586.6 658.20,1587.0 658.50,1582.3 658.80,1589.5 659.10,1583.7 659.40,1579.7 659.70,1578.0 660.00,1581.6 660.30,1580.6 660.60,1581.7 660.90,1575.8 661.20,1578.8 661.50,1579.4 661.80,1580.0 662.10,1572.8 662.40,1574.9 662.70,1573.8 663.00,1574.7 663.30,1573.6 663.60,1573.8 663.90,1570.6 664.20,1573.1 664.50,1567.6 664.80,1570.4 665.10,1574.9 665.40,1566.4 665.70,1572.4 666.00,1570.4 666.30,1565.2 666.60,1566.6 666.90,1565.9 667.20,1561.1 667.50,1557.4 667.80,1560.8 668.10,1557.2 668.40,1560.6 668.70,1554.0 669.00,1562.0 669.30,1561.5 669.60,1552.6 669.90,1548.1 670.20,1552.5 670.50,1548.9 670.80,1548.4 671.10,1543.2 671.40,1541.9 671.70,1545.0 672.00,1538.6 672.30,1534.9 672.60,1538.9 672.90,1536.8 673.20,1532.1 673.50,1527.6 673.80,1531.2 674.10,1522.5 674.40,1520.4 674.70,1510.5 675.00,1505.4 675.30,1504.8 675.60,1503.9 675.90,1493.8 676.20,1491.1 676.50,1487.9 676.80,1488.5 677.10,1481.0 677.40,1477.8 677.70,1474.4 678.00,1468.7 678.30,1465.1 678.60,1451.6 678.90,1449.2 679.20,1443.1 679.50,1433.2 679.80,1430.5 680.10,1424.9 680.40,1417.3 680.70,1410.6 681.00,1409.3 681.30,1400.9 681.60,1394.0 681.90,1388.8 682.20,1380.9 682.50,1376.7 682.80,1371.1 683.10,1361.3 683.40,1356.8 683.70,1350.8 684.00,1346.1 684.30,1340.0 684.60,1336.2 684.90,1330.8 685.20,1327.1 685.50,1327.6 685.80,1327.9 686.10,1338.3 686.40,1343.3 686.70,1345.3 687.00,1350.5 687.30,1356.3 687.60,1361.7 687.90,1368.6 688.20,1379.9 688.50,1386.7 688.80,1399.5 689.10,1408.4 689.40,1417.2 689.70,1420.9 690.00,1435.9 690.30,1438.3 690.60,1440.3 690.90,1452.9 691.20,1461.0 691.50,1472.4 691.80,1477.6 692.10,1488.5 692.40,1494.4 692.70,1505.2 693.00,1507.9 693.30,1515.5 693.60,1521.4 693.90,1520.7 694.20,1526.7 694.50,1529.0 694.80,1535.6 695.10,1535.6 695.40,1534.6 695.70,1543.1 696.00,1539.2 696.30,1542.3 696.60,1544.5 696.90,1547.4 697.20,1546.0 697.50,1548.6 697.80,1549.7 698.10,1552.6 698.40,1551.5 698.70,1553.7 699.00,1552.5 699.30,1561.4 699.60,1559.5 699.90,1562.4 700.20,1558.7 700.50,1557.1 700.80,1558.5 701.10,1560.3 701.40,1565.6 701.70,1564.3 702.00,1564.8 702.30,1563.9 702.60,1571.9 702.90,1565.3 703.20,1568.8 703.50,1569.4 703.80,1570.5 704.10,1571.1 704.40,1573.1 704.70,1579.4 705.00,1576.3 705.30,1574.9 705.60,1572.2 705.90,1579.1 706.20,1579.9 706.50,1575.2 706.80,1578.5 707.10,1572.0 707.40,1575.7 707.70,1581.6 708.00,1575.0 708.30,1581.4 708.60,1583.0 708.90,1577.2 709.20,1580.9 709.50,1585.3 709.80,1588.0 710.10,1582.6 710.40,1586.5 710.70,1581.1 711.00,1581.8 711.30,1584.9 711.60,1586.0 711.90,1584.9 712.20,1587.6 712.50,1587.2 712.80,1588.8 713.10,1587.7 713.40,1586.3 713.70,1586.8 714.00,1586.5 714.30,1587.4 714.60,1590.0 714.90,1590.0 715.20,1591.1 715.50,1590.3 715.80,1590.4 716.10,1586.4 716.40,1587.7 716.70,1587.6 717.00,1587.1 717.30,1583.0 717.60,1590.9 717.90,1586.7 718.20,1587.6 718.50,1587.7 718.80,1593.6 719.10,1590.8 719.40,1593.6 719.70,1590.0 720.00,1592.1 720.30,1592.3 720.60,1590.0 720.90,1590.9 721.20,1586.4 721.50,1588.0 721.80,1591.0 722.10,1585.1 722.40,1591.5 722.70,1591.4 723.00,1589.4 723.30,1593.1 723.60,1592.5 723.90,1594.2 724.20,1591.9 724.50,1593.0 724.80,1592.4 725.10,1588.3 725.40,1591.7 725.70,1591.4 726.00,1592.1 726.30,1592.0 726.60,1594.0 726.90,1591.9 727.20,1590.3 727.50,1593.5 727.80,1587.0 728.10,1588.7 728.40,1595.2 728.70,1588.7 729.00,1593.0 729.30,1589.7 729.60,1594.0 729.90,1593.3 730.20,1595.0 730.50,1593.8 730.80,1595.4 731.10,1590.3 731.40,1596.3 731.70,1591.5 732.00,1594.7 732.30,1592.2 732.60,1595.5 732.90,1593.8 733.20,1593.3 733.50,1594.3 733.80,1592.7 734.10,1592.9 734.40,1596.4 734.70,1594.3 735.00,1593.2 735.30,1592.0 735.60,1595.9 735.90,1591.1 736.20,1592.8 736.50,1590.2 736.80,1591.6 737.10,1592.7 737.40,1593.9 737.70,1593.0 738.00,1595.4 738.30,1588.7 738.60,1598.2 738.90,1594.6 739.20,1594.4 739.50,1591.3 739.80,1595.7 740.10,1591.5 740.40,1593.3 740.70,1593.9 741.00,1594.8 741.30,1594.7 741.60,1591.4 741.90,1590.5 742.20,1596.9 742.50,1595.6 742.80,1595.1 743.10,1594.9 743.40,1595.1 743.70,1589.4 744.00,1594.0 744.30,1596.3 744.60,1594.3 744.90,1595.9 745.20,1595.2 745.50,1593.2 745.80,1592.4 746.10,1594.1 746.40,1596.9 746.70,1590.6 747.00,1596.7 747.30,1589.9 747.60,1599.4 747.90,1594.2 748.20,1595.1 748.50,1593.6 748.80,1597.1 749.10,1593.1 749.40,1598.2 749.70,1600.2 750.00,1595.1 750.30,1593.1 750.60,1597.1 750.90,1593.5 751.20,1594.5 751.50,1595.8 751.80,1597.9 752.10,1592.8 752.40,1597.1 752.70,1596.7 753.00,1595.3 753.30,1597.3 753.60,1595.9 753.90,1594.8 754.20,1591.0 754.50,1589.9 754.80,1595.9 755.10,1597.5 755.40,1593.5 755.70,1595.2 756.00,1599.7 756.30,1598.0 756.60,1591.9 756.90,1597.7 757.20,1595.4 757.50,1597.4 757.80,1596.4 758.10,1593.9 758.40,1601.1 758.70,1590.1 759.00,1593.7 759.30,1599.0 759.60,1596.0 759.90,1596.9 760.20,1593.9 760.50,1598.1 760.80,1594.4 761.10,1593.4 761.40,1593.4 761.70,1599.0 762.00,1596.1 762.30,1598.0 762.60,1597.3 762.90,1596.0 763.20,1593.6 763.50,1597.2 763.80,1598.1 764.10,1593.8 764.40,1595.2 764.70,1594.6 765.00,1591.7 765.30,1597.5 765.60,1598.3 765.90,1596.7 766.20,1597.5 766.50,1597.4 766.80,1600.0 767.10,1599.1 767.40,1599.4 767.70,1595.4 768.00,1598.4 768.30,1597.3 768.60,1594.7 768.90,1598.5 769.20,1593.4 769.50,1594.8 769.80,1600.1 770.10,1599.2 770.40,1593.2 770.70,1598.6 771.00,1598.0 771.30,1597.1 771.60,1595.1 771.90,1597.2 772.20,1599.7 772.50,1602.3 772.80,1600.1 773.10,1596.0 773.40,1599.8 773.70,1603.2 774.00,1597.8 774.30,1595.3 774.60,1600.9 774.90,1596.9 775.20,1598.6 775.50,1599.3 775.80,1598.1 776.10,1598.6 776.40,1600.2 776.70,1600.5 777.00,1599.5 777.30,1600.6 777.60,1599.6 777.90,1597.3 778.20,1603.2 778.50,1599.8 778.80,1600.3 779.10,1601.6 779.40,1598.8 779.70,1595.9 780.00,1595.1 780.30,1598.2 780.60,1601.7 780.90,1600.2 781.20,1600.7 781.50,1598.2 781.80,1595.9 782.10,1598.7 782.40,1594.9 782.70,1597.2 783.00,1600.6 783.30,1597.7 783.60,1595.9 783.90,1600.5 784.20,1600.4 784.50,1599.6 784.80,1594.9 785.10,1601.0 785.40,1598.6 785.70,1600.6 786.00,1601.9 786.30,1600.5 786.60,1602.5 786.90,1601.1 787.20,1598.4 787.50,1598.1 787.80,1604.1 788.10,1604.9 788.40,1599.0 788.70,1600.4 789.00,1600.8 789.30,1601.7 789.60,1596.1 789.90,1601.8 790.20,1600.3 790.50,1600.5 790.80,1599.1 791.10,1603.4 791.40,1599.2 791.70,1604.4 792.00,1603.9 792.30,1598.9 792.60,1602.5 792.90,1602.6 793.20,1599.5 793.50,1594.9 793.80,1599.5 794.10,1601.0 794.40,1605.7 794.70,1603.4 795.00,1602.6 795.30,1601.0 795.60,1602.5 795.90,1598.3 796.20,1598.3 796.50,1597.1 796.80,1597.5 797.10,1599.9 797.40,1605.1 797.70,1596.9 798.00,1600.9 798.30,1600.3 798.60,1595.7 798.90,1599.8 799.20,1595.0 799.50,1602.8 799.80,1602.2 800.10,1598.3 800.40,1599.1 800.70,1598.8 801.00,1598.4 801.30,1601.8 801.60,1597.3 801.90,1599.2 802.20,1597.1 802.50,1602.8 802.80,1600.3 803.10,1602.5 803.40,1598.0 803.70,1593.7 804.00,1601.3 804.30,1600.8 804.60,1602.0 804.90,1599.8 805.20,1601.5 805.50,1602.0 805.80,1598.6 806.10,1594.6 806.40,1601.4 806.70,1600.3 807.00,1598.8 807.30,1596.8 807.60,1604.0 807.90,1600.2 808.20,1600.1 808.50,1597.6 808.80,1598.0 809.10,1600.3 809.40,1596.7 809.70,1602.7 810.00,1598.7 810.30,1602.9 810.60,1600.1 810.90,1597.9 811.20,1604.6 811.50,1599.6 811.80,1598.5 812.10,1602.0 812.40,1600.7 812.70,1599.8 813.00,1595.0 813.30,1595.6 813.60,1602.0 813.90,1598.5 814.20,1600.9 814.50,1597.6 814.80,1600.4 815.10,1595.5 815.40,1599.2 815.70,1603.2 816.00,1600.3 816.30,1598.8 816.60,1599.5 816.90,1599.7 817.20,1604.2 817.50,1600.0 817.80,1600.6 818.10,1598.2 818.40,1600.5 818.70,1600.0 819.00,1596.9 819.30,1594.3 819.60,1597.5 819.90,1600.5 820.20,1596.0 820.50,1596.2 820.80,1599.6 821.10,1596.1 821.40,1591.5 821.70,1599.8 822.00,1595.8 822.30,1594.1 822.60,1594.6 822.90,1596.2 823.20,1593.6 823.50,1598.9 823.80,1595.5 824.10,1595.7 824.40,1594.7 824.70,1592.5 825.00,1594.1 825.30,1597.7 825.60,1592.1 825.90,1592.8 826.20,1593.8 826.50,1591.0 826.80,1594.7 827.10,1589.5 827.40,1593.2 827.70,1589.7 828.00,1591.2 828.30,1591.0 828.60,1597.9 828.90,1590.0 829.20,1593.7 829.50,1592.1 829.80,1589.1 830.10,1592.9 830.40,1590.5 830.70,1586.5 831.00,1586.0 831.30,1590.4 831.60,1590.3 831.90,1585.9 832.20,1589.7 832.50,1588.6 832.80,1590.3 833.10,1587.3 833.40,1588.9 833.70,1588.3 834.00,1589.8 834.30,1590.8 834.60,1593.0 834.90,1584.3 835.20,1588.3 835.50,1585.4 835.80,1584.7 836.10,1583.0 836.40,1585.7 836.70,1586.9 837.00,1586.0 837.30,1587.0 837.60,1586.8 837.90,1587.2 838.20,1586.1 838.50,1586.5 838.80,1586.0 839.10,1584.3 839.40,1582.1 839.70,1581.6 840.00,1585.9 840.30,1582.3 840.60,1586.2 840.90,1583.1 841.20,1582.2 841.50,1583.2 841.80,1583.9 842.10,1587.5 842.40,1582.2 842.70,1581.7 843.00,1583.6 843.30,1584.8 843.60,1582.0 843.90,1580.8 844.20,1583.0 844.50,1582.2 844.80,1582.3 845.10,1577.8 845.40,1582.2 845.70,1580.5 846.00,1582.6 846.30,1579.1 846.60,1580.3 846.90,1578.4 847.20,1583.6 847.50,1574.7 847.80,1575.4 848.10,1575.4 848.40,1569.8 848.70,1575.1 849.00,1579.7 849.30,1577.1 849.60,1577.4 849.90,1574.1 850.20,1572.4 850.50,1573.0 850.80,1569.8 851.10,1568.1 851.40,1574.2 851.70,1570.8 852.00,1573.4 852.30,1566.2 852.60,1568.9 852.90,1564.3 853.20,1570.8 853.50,1566.5 853.80,1563.0 854.10,1562.2 854.40,1566.7 854.70,1560.3 855.00,1561.4 855.30,1560.9 855.60,1557.6 855.90,1562.5 856.20,1562.3 856.50,1555.6 856.80,1556.3 857.10,1556.5 857.40,1555.2 857.70,1554.4 858.00,1549.0 858.30,1550.8 858.60,1546.3 858.90,1548.3 859.20,1548.8 859.50,1548.5 859.80,1540.5 860.10,1545.1 860.40,1540.2 860.70,1543.7 861.00,1542.6 861.30,1541.2 861.60,1542.1 861.90,1539.4 862.20,1536.1 862.50,1536.6 862.80,1538.2 863.10,1533.7 863.40,1537.5 863.70,1539.7 864.00,1537.2 864.30,1543.5 864.60,1544.4 864.90,1544.1 865.20,1543.7 865.50,1544.2 865.80,1547.6 866.10,1548.7 866.40,1551.3 866.70,1548.9 867.00,1553.4 867.30,1555.8 867.60,1552.1 867.90,1555.6 868.20,1556.3 868.50,1556.6 868.80,1560.1 869.10,1558.2 869.40,1561.0 869.70,1561.0 870.00,1562.5 870.30,1560.8 870.60,1560.6 870.90,1564.3 871.20,1563.6 871.50,1566.1 871.80,1563.7 872.10,1564.3 872.40,1568.0 872.70,1567.4 873.00,1567.5 873.30,1570.1 873.60,1568.9 873.90,1570.4 874.20,1571.9 874.50,1568.9 874.80,1574.5 875.10,1573.0 875.40,1573.1 875.70,1574.4 876.00,1573.9 876.30,1572.0 876.60,1577.2 876.90,1576.9 877.20,1582.7 877.50,1583.3 877.80,1579.8 878.10,1582.6 878.40,1585.3 878.70,1584.6 879.00,1584.3 879.30,1584.7 879.60,1583.8 879.90,1588.9 880.20,1589.0 880.50,1588.7 880.80,1589.1 881.10,1593.8 881.40,1591.5 881.70,1594.3 882.00,1589.1 882.30,1590.4 882.60,1591.1 882.90,1595.0 883.20,1593.0 883.50,1597.1 883.80,1594.6 884.10,1596.8 884.40,1594.0 884.70,1597.0 885.00,1594.4 885.30,1595.1 885.60,1593.2 885.90,1591.5 886.20,1593.1 886.50,1596.5 886.80,1596.5 887.10,1592.4 887.40,1593.4 887.70,1593.1 888.00,1597.6 888.30,1594.4 888.60,1594.1 888.90,1597.6 889.20,1595.3 889.50,1597.9 889.80,1598.5 890.10,1595.6 890.40,1593.1 890.70,1596.4 891.00,1602.0 891.30,1594.8 891.60,1600.3 891.90,1595.9 892.20,1595.3 892.50,1600.9 892.80,1596.8 893.10,1593.0 893.40,1594.9 893.70,1596.2 894.00,1596.9 894.30,1601.2 894.60,1600.6 894.90,1598.6 895.20,1599.7 895.50,1597.8 895.80,1595.2 896.10,1599.2 896.40,1598.7 896.70,1601.5 897.00,1600.2 897.30,1602.3 897.60,1598.9 897.90,1599.1 898.20,1599.0 898.50,1598.2 898.80,1602.7 899.10,1600.8 899.40,1597.8 899.70,1599.3 900.00,1605.1 900.30,1606.2 900.60,1604.2 900.90,1601.4 901.20,1604.9 901.50,1601.2 901.80,1598.8 902.10,1601.7 902.40,1599.2 902.70,1601.2 903.00,1607.0 903.30,1603.1 903.60,1602.5 903.90,1603.9 904.20,1601.1 904.50,1602.8 904.80,1600.1 905.10,1599.3 905.40,1601.4 905.70,1599.8 906.00,1597.5 906.30,1601.5 906.60,1600.4 906.90,1600.8 907.20,1606.2 907.50,1604.4 907.80,1605.3 908.10,1602.7 908.40,1600.9 908.70,1601.2 909.00,1607.4 909.30,1597.0 909.60,1602.3 909.90,1604.0 910.20,1600.2 910.50,1606.0 910.80,1601.8 911.10,1603.7 911.40,1607.4 911.70,1605.9 912.00,1603.4 912.30,1603.7 912.60,1607.3 912.90,1608.4 913.20,1605.2 913.50,1599.8 913.80,1603.0 914.10,1606.5 914.40,1602.4 914.70,1603.4 915.00,1601.9 915.30,1603.1 915.60,1606.4 915.90,1605.7 916.20,1601.7 916.50,1607.0 916.80,1600.9 917.10,1606.4 917.40,1606.2 917.70,1601.2 918.00,1599.9 918.30,1606.5 918.60,1605.7 918.90,1604.7 919.20,1602.4 919.50,1605.1 919.80,1600.8 920.10,1606.0 920.40,1609.5 920.70,1603.8 921.00,1606.6 921.30,1602.2 921.60,1604.9 921.90,1603.8 922.20,1605.2 922.50,1603.5 922.80,1600.3 923.10,1606.6 923.40,1601.5 923.70,1606.7 924.00,1601.4 924.30,1606.0 924.60,1605.0 924.90,1603.0 925.20,1606.4 925.50,1604.8 925.80,1607.8 926.10,1605.7 926.40,1607.0 926.70,1599.5 927.00,1607.3 927.30,1603.6 927.60,1603.6 927.90,1601.2 928.20,1602.5 928.50,1603.5 928.80,1604.3 929.10,1604.3 929.40,1603.3 929.70,1604.5 930.00,1606.1 930.30,1603.0 930.60,1602.6 930.90,1606.6 931.20,1605.1 931.50,1601.9 931.80,1605.7 932.10,1605.1 932.40,1609.1 932.70,1606.1 933.00,1605.9 933.30,1603.9 933.60,1601.8 933.90,1603.8 934.20,1603.4 934.50,1603.3 934.80,1606.5 935.10,1601.5 935.40,1607.8 935.70,1601.5 936.00,1600.5 936.30,1605.9 936.60,1603.2 936.90,1602.1 937.20,1604.6 937.50,1602.5 937.80,1603.8 938.10,1602.7 938.40,1603.8 938.70,1601.5 939.00,1605.0 939.30,1602.4 939.60,1603.5 939.90,1598.2 940.20,1604.3 940.50,1601.8 940.80,1602.5 941.10,1602.2 941.40,1601.6 941.70,1600.5 942.00,1604.9 942.30,1601.6 942.60,1602.2 942.90,1601.8 943.20,1600.8 943.50,1605.0 943.80,1600.8 944.10,1603.1 944.40,1600.4 944.70,1598.8 945.00,1598.7 945.30,1603.2 945.60,1597.5 945.90,1598.0 946.20,1600.4 946.50,1603.1 946.80,1600.0 947.10,1604.1 947.40,1601.2 947.70,1601.0 948.00,1605.0 948.30,1602.6 948.60,1600.4 948.90,1600.1 949.20,1603.1 949.50,1604.4 949.80,1600.5 950.10,1600.8 950.40,1603.6 950.70,1599.4 951.00,1602.0 951.30,1601.5 951.60,1600.6 951.90,1598.8 952.20,1595.4 952.50,1600.3 952.80,1597.9 953.10,1601.2 953.40,1599.3 953.70,1599.5 954.00,1603.8 954.30,1602.0 954.60,1598.1 954.90,1602.2 955.20,1599.3 955.50,1597.1 955.80,1600.3 956.10,1599.9 956.40,1602.1 956.70,1602.1 957.00,1602.1 957.30,1597.9 957.60,1599.2 957.90,1595.2 958.20,1599.8 958.50,1598.3 958.80,1593.5 959.10,1599.5 959.40,1598.6 959.70,1593.3 960.00,1591.2 960.30,1594.7 960.60,1595.2 960.90,1593.5 961.20,1596.0 961.50,1597.1 961.80,1590.9 962.10,1588.9 962.40,1586.4 962.70,1589.7 963.00,1581.9 963.30,1580.0 963.60,1576.8 963.90,1573.5 964.20,1568.4 964.50,1567.8 964.80,1560.5 965.10,1555.1 965.40,1547.3 965.70,1543.9 966.00,1539.2 966.30,1536.0 966.60,1525.6 966.90,1519.4 967.20,1509.7 967.50,1495.4 967.80,1494.7 968.10,1492.1 968.40,1480.8 968.70,1482.9 969.00,1473.9 969.30,1472.6 969.60,1470.7 969.90,1471.4 970.20,1468.3 970.50,1468.6 970.80,1471.5 971.10,1473.4 971.40,1473.3 971.70,1478.0 972.00,1483.9 972.30,1486.4 972.60,1491.2 972.90,1511.5 973.20,1525.9 973.50,1545.9 973.80,1551.0 974.10,1555.1 974.40,1564.9 974.70,1572.3 975.00,1577.2 975.30,1579.1 975.60,1581.8 975.90,1583.5 976.20,1590.1 976.50,1592.6 976.80,1591.5 977.10,1592.1 977.40,1592.9 977.70,1592.0 978.00,1593.1 978.30,1595.9 978.60,1595.7 978.90,1596.6 979.20,1594.2 979.50,1598.1 979.80,1594.2 980.10,1599.8 980.40,1596.7 980.70,1598.1 981.00,1595.9 981.30,1597.6 981.60,1596.2 981.90,1598.5 982.20,1594.2 982.50,1601.3 982.80,1599.2 983.10,1600.6 983.40,1598.8 983.70,1600.5 984.00,1597.8 984.30,1597.5 984.60,1598.8 984.90,1596.4 985.20,1601.9 985.50,1599.3 985.80,1599.7 986.10,1598.4 986.40,1601.7 986.70,1603.0 987.00,1599.9 987.30,1603.3 987.60,1601.6 987.90,1601.4 988.20,1597.0 988.50,1598.9 988.80,1603.8 989.10,1603.6 989.40,1606.3 989.70,1599.7 990.00,1603.0 990.30,1597.6 990.60,1599.2 990.90,1598.6 991.20,1599.2 991.50,1601.9 991.80,1604.6 992.10,1601.7 992.40,1598.3 992.70,1604.4 993.00,1602.1 993.30,1597.6 993.60,1604.5 993.90,1601.4 994.20,1603.1 994.50,1599.8 994.80,1600.1 995.10,1602.3 995.40,1597.5 995.70,1601.4 996.00,1603.4 996.30,1602.4 996.60,1601.1 996.90,1600.3 997.20,1600.3 997.50,1604.7 997.80,1601.8 998.10,1601.4 998.40,1598.6 998.70,1601.5 999.00,1602.1 999.30,1594.6 999.60,1603.7 999.90,1601.3 1000.20,1598.6 1000.50,1594.4 1000.80,1604.1 1001.10,1599.5 1001.40,1596.3 1001.70,1593.7 1002.00,1599.2 1002.30,1591.9 1002.60,1595.9 1002.90,1594.8 1003.20,1592.3 1003.50,1593.0 1003.80,1592.8 1004.10,1596.3 1004.40,1594.8 1004.70,1596.2 1005.00,1590.8 1005.30,1596.0 1005.60,1593.4 1005.90,1595.2 1006.20,1591.2 1006.50,1592.7 1006.80,1589.0 1007.10,1593.7 1007.40,1590.8 1007.70,1588.7 1008.00,1589.5 1008.30,1589.6 1008.60,1584.6 1008.90,1588.8 1009.20,1585.6 1009.50,1587.5 1009.80,1587.7 1010.10,1592.5 1010.40,1587.3 1010.70,1582.6 1011.00,1586.6 1011.30,1582.0 1011.60,1581.7 1011.90,1581.9 1012.20,1585.3 1012.50,1586.6 1012.80,1583.8 1013.10,1578.5 1013.40,1581.6 1013.70,1582.8 1014.00,1574.4 1014.30,1579.2 1014.60,1585.7 1014.90,1575.9 1015.20,1576.4 1015.50,1575.7 1015.80,1581.6 1016.10,1580.3 1016.40,1579.7 1016.70,1580.7 1017.00,1576.4 1017.30,1573.8 1017.60,1580.3 1017.90,1575.7 1018.20,1581.9 1018.50,1582.4 1018.80,1582.3 1019.10,1585.7 1019.40,1584.1 1019.70,1580.8 1020.00,1582.5 1020.30,1586.6 1020.60,1584.0 1020.90,1587.6 1021.20,1586.0 1021.50,1588.0 1021.80,1585.6 1022.10,1588.1 1022.40,1585.2 1022.70,1588.1 1023.00,1591.8 1023.30,1589.6 1023.60,1589.6 1023.90,1594.7 1024.20,1595.2 1024.50,1591.3 1024.80,1595.4 1025.10,1596.7 1025.40,1594.0 1025.70,1594.8 1026.00,1596.7 1026.30,1601.2 1026.60,1597.9 1026.90,1598.2 1027.20,1592.4 1027.50,1600.0 1027.80,1601.8 1028.10,1597.2 1028.40,1602.0 1028.70,1601.4 1029.00,1602.7 1029.30,1601.1 1029.60,1601.4 1029.90,1607.6 1030.20,1606.3 1030.50,1599.9 1030.80,1598.3 1031.10,1603.4 1031.40,1603.7 1031.70,1603.1 1032.00,1602.6 1032.30,1606.5 1032.60,1595.9 1032.90,1600.9 1033.20,1604.9 1033.50,1604.7 1033.80,1604.7 1034.10,1601.9 1034.40,1607.8 1034.70,1606.2 1035.00,1606.0 1035.30,1605.1 1035.60,1600.6 1035.90,1602.7 1036.20,1601.1 1036.50,1604.2 1036.80,1600.6 1037.10,1604.1 1037.40,1602.7 1037.70,1604.2 1038.00,1599.0 1038.30,1601.7 1038.60,1604.6 1038.90,1606.0 1039.20,1601.3 1039.50,1605.9 1039.80,1610.5 1040.10,1604.1 1040.40,1602.7 1040.70,1600.1 1041.00,1600.6 1041.30,1603.3 1041.60,1603.9 1041.90,1606.0 1042.20,1609.1 1042.50,1602.7 1042.80,1605.5 1043.10,1608.5 1043.40,1606.4 1043.70,1605.6 1044.00,1605.5 1044.30,1602.0 1044.60,1601.8 1044.90,1607.0 1045.20,1608.5 1045.50,1607.8 1045.80,1607.7 1046.10,1609.2 1046.40,1608.8 1046.70,1604.4 1047.00,1605.9 1047.30,1599.9 1047.60,1607.8 1047.90,1605.7 1048.20,1605.5 1048.50,1607.6 1048.80,1602.1 1049.10,1605.6 1049.40,1603.1 1049.70,1608.9 1050.00,1602.1 1050.30,1603.7 1050.60,1606.1 1050.90,1609.1 1051.20,1604.9 1051.50,1601.6 1051.80,1603.2 1052.10,1605.7 1052.40,1606.2 1052.70,1601.9 1053.00,1607.6 1053.30,1602.7 1053.60,1602.5 1053.90,1604.2 1054.20,1601.8 1054.50,1601.7 1054.80,1604.0 1055.10,1598.8 1055.40,1603.6 1055.70,1601.5 1056.00,1605.1 1056.30,1602.1 1056.60,1606.4 1056.90,1605.1 1057.20,1605.4 1057.50,1604.7 1057.80,1602.1 1058.10,1605.0 1058.40,1605.5 1058.70,1604.3 1059.00,1604.8 1059.30,1604.8 1059.60,1603.3 1059.90,1602.6 1060.20,1604.1 1060.50,1604.1 1060.80,1605.2 1061.10,1606.6 1061.40,1602.9 1061.70,1602.5 1062.00,1608.2 1062.30,1603.3 1062.60,1603.3 1062.90,1601.4 1063.20,1604.2 1063.50,1598.0 1063.80,1601.3 1064.10,1602.4 1064.40,1601.3 1064.70,1603.4 1065.00,1605.5 1065.30,1603.6 1065.60,1601.7 1065.90,1596.8 1066.20,1600.6 1066.50,1605.3 1066.80,1605.9 1067.10,1603.6 1067.40,1604.2 1067.70,1604.0 1068.00,1598.6 1068.30,1601.0 1068.60,1600.6 1068.90,1603.3 1069.20,1604.4 1069.50,1601.9 1069.80,1606.2 1070.10,1601.4 1070.40,1600.4 1070.70,1600.3 1071.00,1596.7 1071.30,1603.2 1071.60,1600.3 1071.90,1603.0 1072.20,1602.5 1072.50,1602.7 1072.80,1597.5 1073.10,1600.5 1073.40,1600.7 1073.70,1602.1 1074.00,1598.9 1074.30,1598.8 1074.60,1604.0 1074.90,1597.9 1075.20,1601.7 1075.50,1598.6 1075.80,1603.0 1076.10,1600.0 1076.40,1600.2 1076.70,1598.9 1077.00,1596.4 1077.30,1605.2 1077.60,1600.9 1077.90,1604.5 1078.20,1602.6 1078.50,1598.7 1078.80,1599.7 1079.10,1602.3 1079.40,1601.1 1079.70,1599.3 1080.00,1601.8 1080.30,1602.9 1080.60,1603.7 1080.90,1604.8 1081.20,1601.0 1081.50,1599.9 1081.80,1599.9 1082.10,1594.6 1082.40,1603.9 1082.70,1604.5 1083.00,1591.6 1083.30,1600.8 1083.60,1599.1 1083.90,1599.7 1084.20,1596.0 1084.50,1599.8 1084.80,1595.1 1085.10,1601.4 1085.40,1602.1 1085.70,1602.7 1086.00,1595.6 1086.30,1596.7 1086.60,1597.9 1086.90,1602.6 1087.20,1598.7 1087.50,1602.9 1087.80,1599.5 1088.10,1600.5 1088.40,1595.3 1088.70,1594.7 1089.00,1596.7 1089.30,1595.5 1089.60,1594.8 1089.90,1599.6 1090.20,1601.9 1090.50,1596.2 1090.80,1597.6 1091.10,1601.0 1091.40,1597.9 1091.70,1599.4 1092.00,1599.2 1092.30,1600.3 1092.60,1600.1 1092.90,1597.9 1093.20,1594.7 1093.50,1599.5 1093.80,1594.1 1094.10,1597.0 1094.40,1597.6 1094.70,1603.3 1095.00,1597.9 1095.30,1597.1 1095.60,1595.0 1095.90,1595.3 1096.20,1591.8 1096.50,1589.9 1096.80,1594.7 1097.10,1595.3 1097.40,1593.7 1097.70,1594.0 1098.00,1593.8 1098.30,1598.6 1098.60,1592.7 1098.90,1598.8 1099.20,1592.3 1099.50,1593.4 1099.80,1593.8 1100.10,1595.3 1100.40,1597.4 1100.70,1596.3 1101.00,1596.5 1101.30,1594.5 1101.60,1593.8 1101.90,1593.5 1102.20,1590.9 1102.50,1599.0 1102.80,1593.4 1103.10,1591.8 1103.40,1590.7 1103.70,1592.8 1104.00,1590.9 1104.30,1595.9 1104.60,1596.2 1104.90,1591.8 1105.20,1596.5 1105.50,1595.4 1105.80,1594.2 1106.10,1594.1 1106.40,1592.7 1106.70,1595.6 1107.00,1589.3 1107.30,1595.2 1107.60,1593.3 1107.90,1587.9 1108.20,1592.7 1108.50,1594.0 1108.80,1595.2 1109.10,1593.9 1109.40,1591.5 1109.70,1594.4 1110.00,1594.2 1110.30,1586.1 1110.60,1591.3 1110.90,1593.2 1111.20,1592.6 1111.50,1594.7 1111.80,1599.4 1112.10,1594.6 1112.40,1593.6 1112.70,1594.8 1113.00,1592.9 1113.30,1594.1 1113.60,1594.1 1113.90,1597.6 1114.20,1595.3 1114.50,1597.2 1114.80,1598.2 1115.10,1595.2 1115.40,1599.5 1115.70,1602.3 1116.00,1598.2 1116.30,1599.7 1116.60,1602.1 1116.90,1602.8 1117.20,1600.5 1117.50,1599.5 1117.80,1601.4 1118.10,1597.7 1118.40,1598.5 1118.70,1599.3 1119.00,1601.9 1119.30,1598.2 1119.60,1601.7 1119.90,1597.2 1120.20,1599.0 1120.50,1599.4 1120.80,1603.0 1121.10,1606.1 1121.40,1598.1 1121.70,1602.6 1122.00,1601.8 1122.30,1603.2 1122.60,1601.0 1122.90,1604.5 1123.20,1597.4 1123.50,1604.9 1123.80,1606.2 1124.10,1600.8 1124.40,1603.2 1124.70,1600.2 1125.00,1602.2 1125.30,1602.4 1125.60,1596.6 1125.90,1605.3 1126.20,1604.9 1126.50,1607.8 1126.80,1603.2 1127.10,1603.8 1127.40,1606.4 1127.70,1599.1 1128.00,1605.0 1128.30,1602.9 1128.60,1608.4 1128.90,1603.5 1129.20,1606.4 1129.50,1602.9 1129.80,1596.1 1130.10,1607.5 1130.40,1606.8 1130.70,1606.7 1131.00,1603.5 1131.30,1607.2 1131.60,1602.0 1131.90,1602.5 1132.20,1606.8 1132.50,1606.4 1132.80,1609.0 1133.10,1602.8 1133.40,1605.7 1133.70,1606.0 1134.00,1607.4 1134.30,1602.1 1134.60,1604.9 1134.90,1603.7 1135.20,1606.0 1135.50,1611.9 1135.80,1606.5 1136.10,1608.6 1136.40,1606.3 1136.70,1603.9 1137.00,1605.4 1137.30,1604.6 1137.60,1604.2 1137.90,1606.5 1138.20,1605.8 1138.50,1602.2 1138.80,1599.0 1139.10,1602.7 1139.40,1604.9 1139.70,1607.2 1140.00,1604.1 1140.30,1604.9 1140.60,1605.9 1140.90,1606.1 1141.20,1601.4 1141.50,1602.5 1141.80,1604.5 1142.10,1601.4 1142.40,1600.4 1142.70,1601.7 1143.00,1602.2 1143.30,1604.6 1143.60,1600.6 1143.90,1599.5 1144.20,1600.3 1144.50,1603.0 1144.80,1596.3 1145.10,1601.1 1145.40,1602.4 1145.70,1598.6 1146.00,1597.7 1146.30,1595.8 1146.60,1596.0 1146.90,1597.4 1147.20,1600.3 1147.50,1598.1 1147.80,1595.3 1148.10,1592.3 1148.40,1592.4 1148.70,1597.4 1149.00,1590.9 1149.30,1596.3 1149.60,1593.7 1149.90,1595.3 1150.20,1593.2 1150.50,1590.3 1150.80,1590.9 1151.10,1589.2 1151.40,1586.5 1151.70,1588.3 1152.00,1588.0 1152.30,1584.8 1152.60,1586.3 1152.90,1588.2 1153.20,1586.0 1153.50,1582.9 1153.80,1589.1 1154.10,1583.5 1154.40,1588.0 1154.70,1586.2 1155.00,1588.3 1155.30,1586.7 1155.60,1584.0 1155.90,1590.2 1156.20,1586.3 1156.50,1585.2 1156.80,1585.9 1157.10,1591.2 1157.40,1589.8 1157.70,1590.5 1158.00,1588.7 1158.30,1597.5 1158.60,1595.2 1158.90,1596.6 1159.20,1595.2 1159.50,1598.2 1159.80,1594.7 1160.10,1599.8 1160.40,1597.0 1160.70,1596.6 1161.00,1600.1 1161.30,1599.8 1161.60,1600.1 1161.90,1595.8 1162.20,1597.7 1162.50,1597.3 1162.80,1598.8 1163.10,1601.3 1163.40,1598.9 1163.70,1601.7 1164.00,1599.4 1164.30,1601.4 1164.60,1603.8 1164.90,1605.5 1165.20,1607.6 1165.50,1603.8 1165.80,1604.3 1166.10,1607.3 1166.40,1600.1 1166.70,1601.6 1167.00,1606.5 1167.30,1607.0 1167.60,1609.2 1167.90,1608.9 1168.20,1608.7 1168.50,1606.9 1168.80,1605.2 1169.10,1608.0 1169.40,1600.8 1169.70,1604.9 1170.00,1601.7 1170.30,1604.8 1170.60,1598.6 1170.90,1606.6 1171.20,1605.4 1171.50,1608.2 1171.80,1601.8 1172.10,1604.8 1172.40,1607.9 1172.70,1601.6 1173.00,1605.4 1173.30,1600.6 1173.60,1610.4 1173.90,1603.6 1174.20,1606.0 1174.50,1606.7 1174.80,1601.6 1175.10,1604.6 1175.40,1602.0 1175.70,1607.4 1176.00,1609.6 1176.30,1600.6 1176.60,1606.0 1176.90,1602.7 1177.20,1607.1 1177.50,1607.6 1177.80,1608.5 1178.10,1607.8 1178.40,1602.4 1178.70,1603.2 1179.00,1606.2 1179.30,1608.1 1179.60,1604.5 1179.90,1605.5 1180.20,1607.7 1180.50,1606.9 1180.80,1609.2 1181.10,1604.0 1181.40,1607.9 1181.70,1607.0 1182.00,1607.1 1182.30,1606.4 1182.60,1605.6 1182.90,1610.2 1183.20,1605.5 1183.50,1608.0 1183.80,1607.3 1184.10,1605.5 1184.40,1607.8 1184.70,1607.9 1185.00,1611.0 1185.30,1605.4 1185.60,1608.7 1185.90,1608.6 1186.20,1609.6 1186.50,1605.7 1186.80,1608.1 1187.10,1604.4 1187.40,1608.2 1187.70,1610.2 1188.00,1611.1 1188.30,1602.2 1188.60,1606.6 1188.90,1608.5 1189.20,1603.3 1189.50,1613.7 1189.80,1608.5 1190.10,1603.6 1190.40,1615.3 1190.70,1608.9 1191.00,1603.1 1191.30,1605.7 1191.60,1606.1 1191.90,1607.7 1192.20,1611.9 1192.50,1606.3 1192.80,1606.7 1193.10,1608.0 1193.40,1609.4 1193.70,1608.7 1194.00,1604.8 1194.30,1610.2 1194.60,1606.0 1194.90,1606.1 1195.20,1614.0 1195.50,1603.9 1195.80,1608.0 1196.10,1605.6 1196.40,1609.9 1196.70,1609.1 1197.00,1605.9 1197.30,1607.1 1197.60,1606.9 1197.90,1609.5 1198.20,1604.1 1198.50,1609.0 1198.80,1608.9 1199.10,1608.2 1199.40,1607.2 1199.70,1609.9 1200.00,1609.7 1200.30,1608.8 1200.60,1608.4 1200.90,1609.9 1201.20,1609.9 1201.50,1605.6 1201.80,1605.3 1202.10,1607.2 1202.40,1606.5 1202.70,1606.8 1203.00,1607.7 1203.30,1611.6 1203.60,1608.4 1203.90,1608.7 1204.20,1610.2 1204.50,1606.6 1204.80,1607.4 1205.10,1603.7 1205.40,1606.0 1205.70,1609.6 1206.00,1607.2 1206.30,1607.3 1206.60,1611.8 1206.90,1612.2 1207.20,1608.5 1207.50,1606.0 1207.80,1605.0 1208.10,1608.0 1208.40,1605.3 1208.70,1607.8 1209.00,1606.7 1209.30,1607.5 1209.60,1607.0 1209.90,1610.8 1210.20,1607.4 1210.50,1611.7 1210.80,1606.8 1211.10,1611.7 1211.40,1605.4 1211.70,1608.4 1212.00,1606.9 1212.30,1605.2 1212.60,1612.7 1212.90,1608.0 1213.20,1605.3 1213.50,1603.9 1213.80,1608.9 1214.10,1609.2 1214.40,1607.9 1214.70,1606.0 1215.00,1606.3 1215.30,1604.4 1215.60,1606.0 1215.90,1606.4 1216.20,1608.9 1216.50,1609.2 1216.80,1604.6 1217.10,1602.4 1217.40,1611.6 1217.70,1607.4 1218.00,1605.3 1218.30,1607.6 1218.60,1605.1 1218.90,1605.8 1219.20,1601.0 1219.50,1605.9 1219.80,1610.7 1220.10,1608.8 1220.40,1606.2 1220.70,1607.0 1221.00,1608.4 1221.30,1609.2 1221.60,1604.7 1221.90,1606.1 1222.20,1607.1 1222.50,1608.8 1222.80,1605.8 1223.10,1607.8 1223.40,1608.5 1223.70,1606.7 1224.00,1607.8 1224.30,1609.5 1224.60,1603.7 1224.90,1607.0 1225.20,1607.3 1225.50,1611.7 1225.80,1602.0 1226.10,1604.7 1226.40,1603.0 1226.70,1604.0 1227.00,1607.2 1227.30,1604.1 1227.60,1606.1 1227.90,1606.4 1228.20,1605.9 1228.50,1608.4 1228.80,1607.2 1229.10,1604.4 1229.40,1605.3 1229.70,1607.1 1230.00,1605.0 1230.30,1607.5 1230.60,1606.3 1230.90,1605.1 1231.20,1605.5 1231.50,1603.7 1231.80,1607.0 1232.10,1604.9 1232.40,1604.6 1232.70,1605.6 1233.00,1611.5 1233.30,1609.0 1233.60,1604.7 1233.90,1603.8 1234.20,1607.9 1234.50,1603.8 1234.80,1609.0 1235.10,1604.6 1235.40,1608.8 1235.70,1611.1 1236.00,1605.5 1236.30,1607.8 1236.60,1608.1 1236.90,1611.9 1237.20,1612.1 1237.50,1604.3 1237.80,1609.4 1238.10,1608.8 1238.40,1607.0 1238.70,1607.6 1239.00,1603.7 1239.30,1604.2 1239.60,1606.1 1239.90,1603.1 1240.20,1607.2 1240.50,1606.8 1240.80,1610.0 1241.10,1603.7 1241.40,1609.6 1241.70,1607.3 1242.00,1607.1 1242.30,1606.3 1242.60,1606.4 1242.90,1604.7 1243.20,1604.1 1243.50,1609.4 1243.80,1600.9 1244.10,1608.7 1244.40,1607.3 1244.70,1606.9 1245.00,1608.9 1245.30,1606.4 1245.60,1607.0 1245.90,1608.0 1246.20,1606.1 1246.50,1608.7 1246.80,1608.5 1247.10,1606.1 1247.40,1607.3 1247.70,1604.1 1248.00,1606.9 1248.30,1606.6 1248.60,1602.8 1248.90,1606.2 1249.20,1607.5 1249.50,1603.9 1249.80,1603.0 1250.10,1606.0 1250.40,1604.7 1250.70,1603.7 1251.00,1606.2 1251.30,1603.8 1251.60,1606.3 1251.90,1608.6 1252.20,1606.8 1252.50,1606.4 1252.80,1603.5 1253.10,1609.1 1253.40,1605.3 1253.70,1610.1 1254.00,1604.6 1254.30,1606.0 1254.60,1602.8 1254.90,1606.7 1255.20,1602.6 1255.50,1606.0 1255.80,1609.9 1256.10,1607.6 1256.40,1602.7 1256.70,1608.0 1257.00,1602.9 1257.30,1605.0 1257.60,1604.4 1257.90,1604.8 1258.20,1605.5 1258.50,1599.9 1258.80,1608.1 1259.10,1605.3 1259.40,1603.1 1259.70,1606.3 1260.00,1609.0 1260.30,1603.0 1260.60,1607.1 1260.90,1605.3 1261.20,1605.7"/>
</g>
<g fill="#000"><rect x="229" y="18" width="1037" height="4"/><rect x="229" y="18" width="5" height="1634"/><rect x="1261" y="18" width="5" height="1634"/><rect x="229" y="425.2" width="1037" height="4.800000000000011"/><rect x="229" y="832.2" width="1037" height="4.7999999999999545"/><rect x="229" y="1240" width="1037" height="4.2999999999999545"/><rect x="229" y="1647" width="1037" height="5"/><rect x="233" y="388.15" width="21" height="4.6"/><rect x="233" y="344.93" width="11" height="4.6"/><rect x="233" y="301.71" width="21" height="4.6"/><rect x="233" y="258.49" width="11" height="4.6"/><rect x="233" y="215.27" width="21" height="4.6"/><rect x="233" y="172.05" width="11" height="4.6"/><rect x="233" y="128.83" width="21" height="4.6"/><rect x="233" y="85.61" width="11" height="4.6"/><rect x="233" y="42.39" width="21" height="4.6"/><rect x="233" y="795.10" width="21" height="4.6"/><rect x="233" y="748.85" width="11" height="4.6"/><rect x="233" y="702.60" width="21" height="4.6"/><rect x="233" y="656.35" width="11" height="4.6"/><rect x="233" y="610.10" width="21" height="4.6"/><rect x="233" y="563.85" width="11" height="4.6"/><rect x="233" y="517.60" width="21" height="4.6"/><rect x="233" y="471.35" width="11" height="4.6"/><rect x="233" y="1209.20" width="21" height="4.6"/><rect x="233" y="1163.92" width="11" height="4.6"/><rect x="233" y="1118.64" width="21" height="4.6"/><rect x="233" y="1073.37" width="11" height="4.6"/><rect x="233" y="1028.09" width="21" height="4.6"/><rect x="233" y="982.81" width="11" height="4.6"/><rect x="233" y="937.53" width="21" height="4.6"/><rect x="233" y="892.26" width="11" height="4.6"/><rect x="233" y="846.98" width="21" height="4.6"/><rect x="233" y="1616.60" width="21" height="4.6"/><rect x="233" y="1571.32" width="11" height="4.6"/><rect x="233" y="1526.04" width="21" height="4.6"/><rect x="233" y="1480.77" width="11" height="4.6"/><rect x="233" y="1435.49" width="21" height="4.6"/><rect x="233" y="1390.21" width="11" height="4.6"/><rect x="233" y="1344.93" width="21" height="4.6"/><rect x="233" y="1299.66" width="11" height="4.6"/><rect x="233" y="1254.38" width="21" height="4.6"/><rect x="297.90" y="1626" width="4.8" height="22"/><rect x="366.70" y="1636" width="4.8" height="12"/><rect x="435.50" y="1626" width="4.8" height="22"/><rect x="504.30" y="1636" width="4.8" height="12"/><rect x="573.10" y="1626" width="4.8" height="22"/><rect x="641.90" y="1636" width="4.8" height="12"/><rect x="710.70" y="1626" width="4.8" height="22"/><rect x="779.50" y="1636" width="4.8" height="12"/><rect x="848.30" y="1626" width="4.8" height="22"/><rect x="917.10" y="1636" width="4.8" height="12"/><rect x="985.90" y="1626" width="4.8" height="22"/><rect x="1054.70" y="1636" width="4.8" height="12"/><rect x="1123.50" y="1626" width="4.8" height="22"/><rect x="1192.30" y="1636" width="4.8" height="12"/></g>
<g font-family="Liberation Sans" font-size="100" fill="#000" style="font-kerning:none">
<text transform="translate(185.54,404.75) scale(0.4320,0.4535)">0</text><text transform="translate(101.73,318.31) scale(0.4320,0.4535)">3,500</text><text transform="translate(101.73,231.87) scale(0.4320,0.4535)">7,000</text><g transform="translate(77.54,145.43) scale(0.4320,0.4535)"><path d="M37.26,0.00L28.47,0.00L28.47,-53.83Q25.29,-50.92 20.26,-48.08Q15.23,-45.24 10.89,-43.69L10.89,-51.86Q18.80,-55.42 24.88,-60.70Q30.96,-65.98 32.71,-68.80L37.26,-68.80Z"/><text x="55.60">0,500</text></g><g transform="translate(77.54,58.99) scale(0.4320,0.4535)"><path d="M37.26,0.00L28.47,0.00L28.47,-53.83Q25.29,-50.92 20.26,-48.08Q15.23,-45.24 10.89,-43.69L10.89,-51.86Q18.80,-55.42 24.88,-60.70Q30.96,-65.98 32.71,-68.80L37.26,-68.80Z"/><text x="55.60">4,000</text></g><text transform="translate(185.54,811.70) scale(0.4320,0.4535)">0</text><g transform="translate(101.73,719.20) scale(0.4320,0.4535)"><path d="M37.26,0.00L28.47,0.00L28.47,-53.83Q25.29,-50.92 20.26,-48.08Q15.23,-45.24 10.89,-43.69L10.89,-51.86Q18.80,-55.42 24.88,-60.70Q30.96,-65.98 32.71,-68.80L37.26,-68.80Z"/><text x="55.60">,500</text></g><text transform="translate(101.73,626.70) scale(0.4320,0.4535)">3,000</text><text transform="translate(101.73,534.20) scale(0.4320,0.4535)">4,500</text><text transform="translate(101.73,441.70) scale(0.4320,0.4535)">6,000</text><text transform="translate(185.54,1225.80) scale(0.4320,0.4535)">0</text><g transform="translate(101.73,1135.24) scale(0.4320,0.4535)"><path d="M37.26,0.00L28.47,0.00L28.47,-53.83Q25.29,-50.92 20.26,-48.08Q15.23,-45.24 10.89,-43.69L10.89,-51.86Q18.80,-55.42 24.88,-60.70Q30.96,-65.98 32.71,-68.80L37.26,-68.80Z"/><text x="55.60">,200</text></g><text transform="translate(101.73,1044.69) scale(0.4320,0.4535)">2,400</text><text transform="translate(101.73,954.13) scale(0.4320,0.4535)">3,600</text><text transform="translate(101.73,863.58) scale(0.4320,0.4535)">4,800</text><text transform="translate(185.54,1633.20) scale(0.4320,0.4535)">0</text><text transform="translate(137.58,1542.64) scale(0.4320,0.4535)">600</text><g transform="translate(101.73,1452.09) scale(0.4320,0.4535)"><path d="M37.26,0.00L28.47,0.00L28.47,-53.83Q25.29,-50.92 20.26,-48.08Q15.23,-45.24 10.89,-43.69L10.89,-51.86Q18.80,-55.42 24.88,-60.70Q30.96,-65.98 32.71,-68.80L37.26,-68.80Z"/><text x="55.60">,200</text></g><g transform="translate(101.73,1361.53) scale(0.4320,0.4535)"><path d="M37.26,0.00L28.47,0.00L28.47,-53.83Q25.29,-50.92 20.26,-48.08Q15.23,-45.24 10.89,-43.69L10.89,-51.86Q18.80,-55.42 24.88,-60.70Q30.96,-65.98 32.71,-68.80L37.26,-68.80Z"/><text x="55.60">,800</text></g><text transform="translate(101.73,1270.98) scale(0.4320,0.4535)">2,400</text><g transform="translate(300.30,1706.40) scale(0.4320,0.4535)"><path d="M-18.34,0.00L-27.13,0.00L-27.13,-53.83Q-30.31,-50.92 -35.34,-48.08Q-40.37,-45.24 -44.71,-43.69L-44.71,-51.86Q-36.80,-55.42 -30.72,-60.70Q-24.64,-65.98 -22.89,-68.80L-18.34,-68.80Z"/><text x="0.00">0</text></g><text text-anchor="middle" transform="translate(437.90,1706.40) scale(0.4320,0.4535)">20</text><text text-anchor="middle" transform="translate(575.50,1706.40) scale(0.4320,0.4535)">30</text><text text-anchor="middle" transform="translate(713.10,1706.40) scale(0.4320,0.4535)">40</text><text text-anchor="middle" transform="translate(850.70,1706.40) scale(0.4320,0.4535)">50</text><text text-anchor="middle" transform="translate(988.30,1706.40) scale(0.4320,0.4535)">60</text><text text-anchor="middle" transform="translate(1125.90,1706.40) scale(0.4320,0.4535)">70</text><text text-anchor="middle" transform="translate(1263.50,1706.40) scale(0.4320,0.4535)">80</text>
<g stroke="#000" stroke-width="1.1"><text transform="translate(971.46,80.80) scale(0.5290,0.5500)">(d)-3.0mol/L</text><text transform="translate(967.53,490.80) scale(0.5290,0.5500)">(c)-2.5mol/L</text><text transform="translate(942.36,901.20) scale(0.5290,0.5500)">(b)-2.25mol/L</text><g transform="translate(964.36,1302.00) scale(0.5290,0.5500)"><text x="0.00">(a)-</text><path d="M192.76,0.00L183.97,0.00L183.97,-53.83Q180.79,-50.92 175.76,-48.08Q170.73,-45.24 166.39,-43.69L166.39,-51.86Q174.30,-55.42 180.38,-60.70Q186.46,-65.98 188.21,-68.80L192.76,-68.80Z"/><text x="211.10">.5mol/L</text></g>
<text transform="translate(303.38,362.89) scale(0.5050,0.5750)">S</text><text transform="translate(325.28,209.39) scale(0.5050,0.5750)">S</text><text transform="translate(386.48,91.29) scale(0.5050,0.5750)">S</text><text transform="translate(462.38,202.44) scale(0.5050,0.5750)">S</text><text transform="translate(507.33,363.54) scale(0.5050,0.5750)">S</text><text transform="translate(561.58,331.14) scale(0.5050,0.5750)">S</text><text transform="translate(625.48,331.14) scale(0.5050,0.5750)">S</text><text transform="translate(697.33,268.29) scale(0.5050,0.5750)">S</text><text transform="translate(754.68,339.24) scale(0.5050,0.5750)">S</text><text transform="translate(784.68,323.14) scale(0.5050,0.5750)">S</text><text transform="translate(883.88,359.24) scale(0.5050,0.5750)">S</text><text transform="translate(989.58,355.34) scale(0.5050,0.5750)">S</text><text transform="translate(1121.53,355.59) scale(0.5050,0.5750)">S</text><text transform="translate(299.58,769.09) scale(0.5050,0.5750)">S</text><text transform="translate(325.68,631.09) scale(0.5050,0.5750)">S</text><text transform="translate(386.28,489.39) scale(0.5050,0.5750)">S</text><text transform="translate(465.38,607.39) scale(0.5050,0.5750)">S</text><text transform="translate(507.33,765.19) scale(0.5050,0.5750)">S</text><text transform="translate(561.58,753.29) scale(0.5050,0.5750)">S</text><text transform="translate(621.88,733.24) scale(0.5050,0.5750)">S</text><text transform="translate(701.73,713.29) scale(0.5050,0.5750)">S</text><text transform="translate(758.68,737.34) scale(0.5050,0.5750)">S</text><text transform="translate(785.08,717.34) scale(0.5050,0.5750)">S</text><text transform="translate(906.58,753.14) scale(0.5050,0.5750)">S</text><text transform="translate(989.58,765.29) scale(0.5050,0.5750)">S</text><text transform="translate(1122.33,765.34) scale(0.5050,0.5750)">S</text><text transform="translate(298.53,1169.84) scale(0.5050,0.5750)">S</text><text transform="translate(326.58,1013.24) scale(0.5050,0.5750)">S</text><text transform="translate(386.28,887.59) scale(0.5050,0.5750)">S</text><text transform="translate(465.73,1021.19) scale(0.5050,0.5750)">S</text><text transform="translate(507.33,1182.39) scale(0.5050,0.5750)">S</text><text transform="translate(560.68,1135.44) scale(0.5050,0.5750)">S</text><text transform="translate(625.63,1143.29) scale(0.5050,0.5750)">S</text><text transform="translate(697.48,1056.29) scale(0.5050,0.5750)">S</text><text transform="translate(758.53,1143.34) scale(0.5050,0.5750)">S</text><text transform="translate(788.38,1143.34) scale(0.5050,0.5750)">S</text><text transform="translate(879.73,1166.14) scale(0.5050,0.5750)">S</text><text transform="translate(966.53,1162.24) scale(0.5050,0.5750)">S</text><text transform="translate(1114.63,1174.19) scale(0.5050,0.5750)">S</text><text transform="translate(601.70,1556.84) scale(0.5390,0.5810)">H</text><text transform="translate(673.60,1315.99) scale(0.5390,0.5810)">H</text><text transform="translate(848.55,1532.89) scale(0.5390,0.5810)">H</text><text transform="translate(958.90,1461.79) scale(0.5390,0.5810)">H</text><text transform="translate(1003.75,1571.89) scale(0.5390,0.5810)">H</text><text transform="translate(1094.45,1587.74) scale(0.5390,0.5810)">H</text><text transform="translate(1140.65,1580.14) scale(0.5390,0.5810)">H</text><text transform="translate(365.59,1524.91) scale(0.5520,0.5800)">M</text><text transform="translate(414.64,1465.96) scale(0.5520,0.5800)">M</text></g>
<g stroke="#000" stroke-width="0.9"><text transform="translate(499.63,1785.60) scale(0.5839,0.6100)">Two-Theta(deg)</text><text transform="translate(60.9,1023.45) rotate(-90) scale(0.6052,0.6000)">Intensity(cps)</text></g>
</g>
</g>
</svg></body></html>
